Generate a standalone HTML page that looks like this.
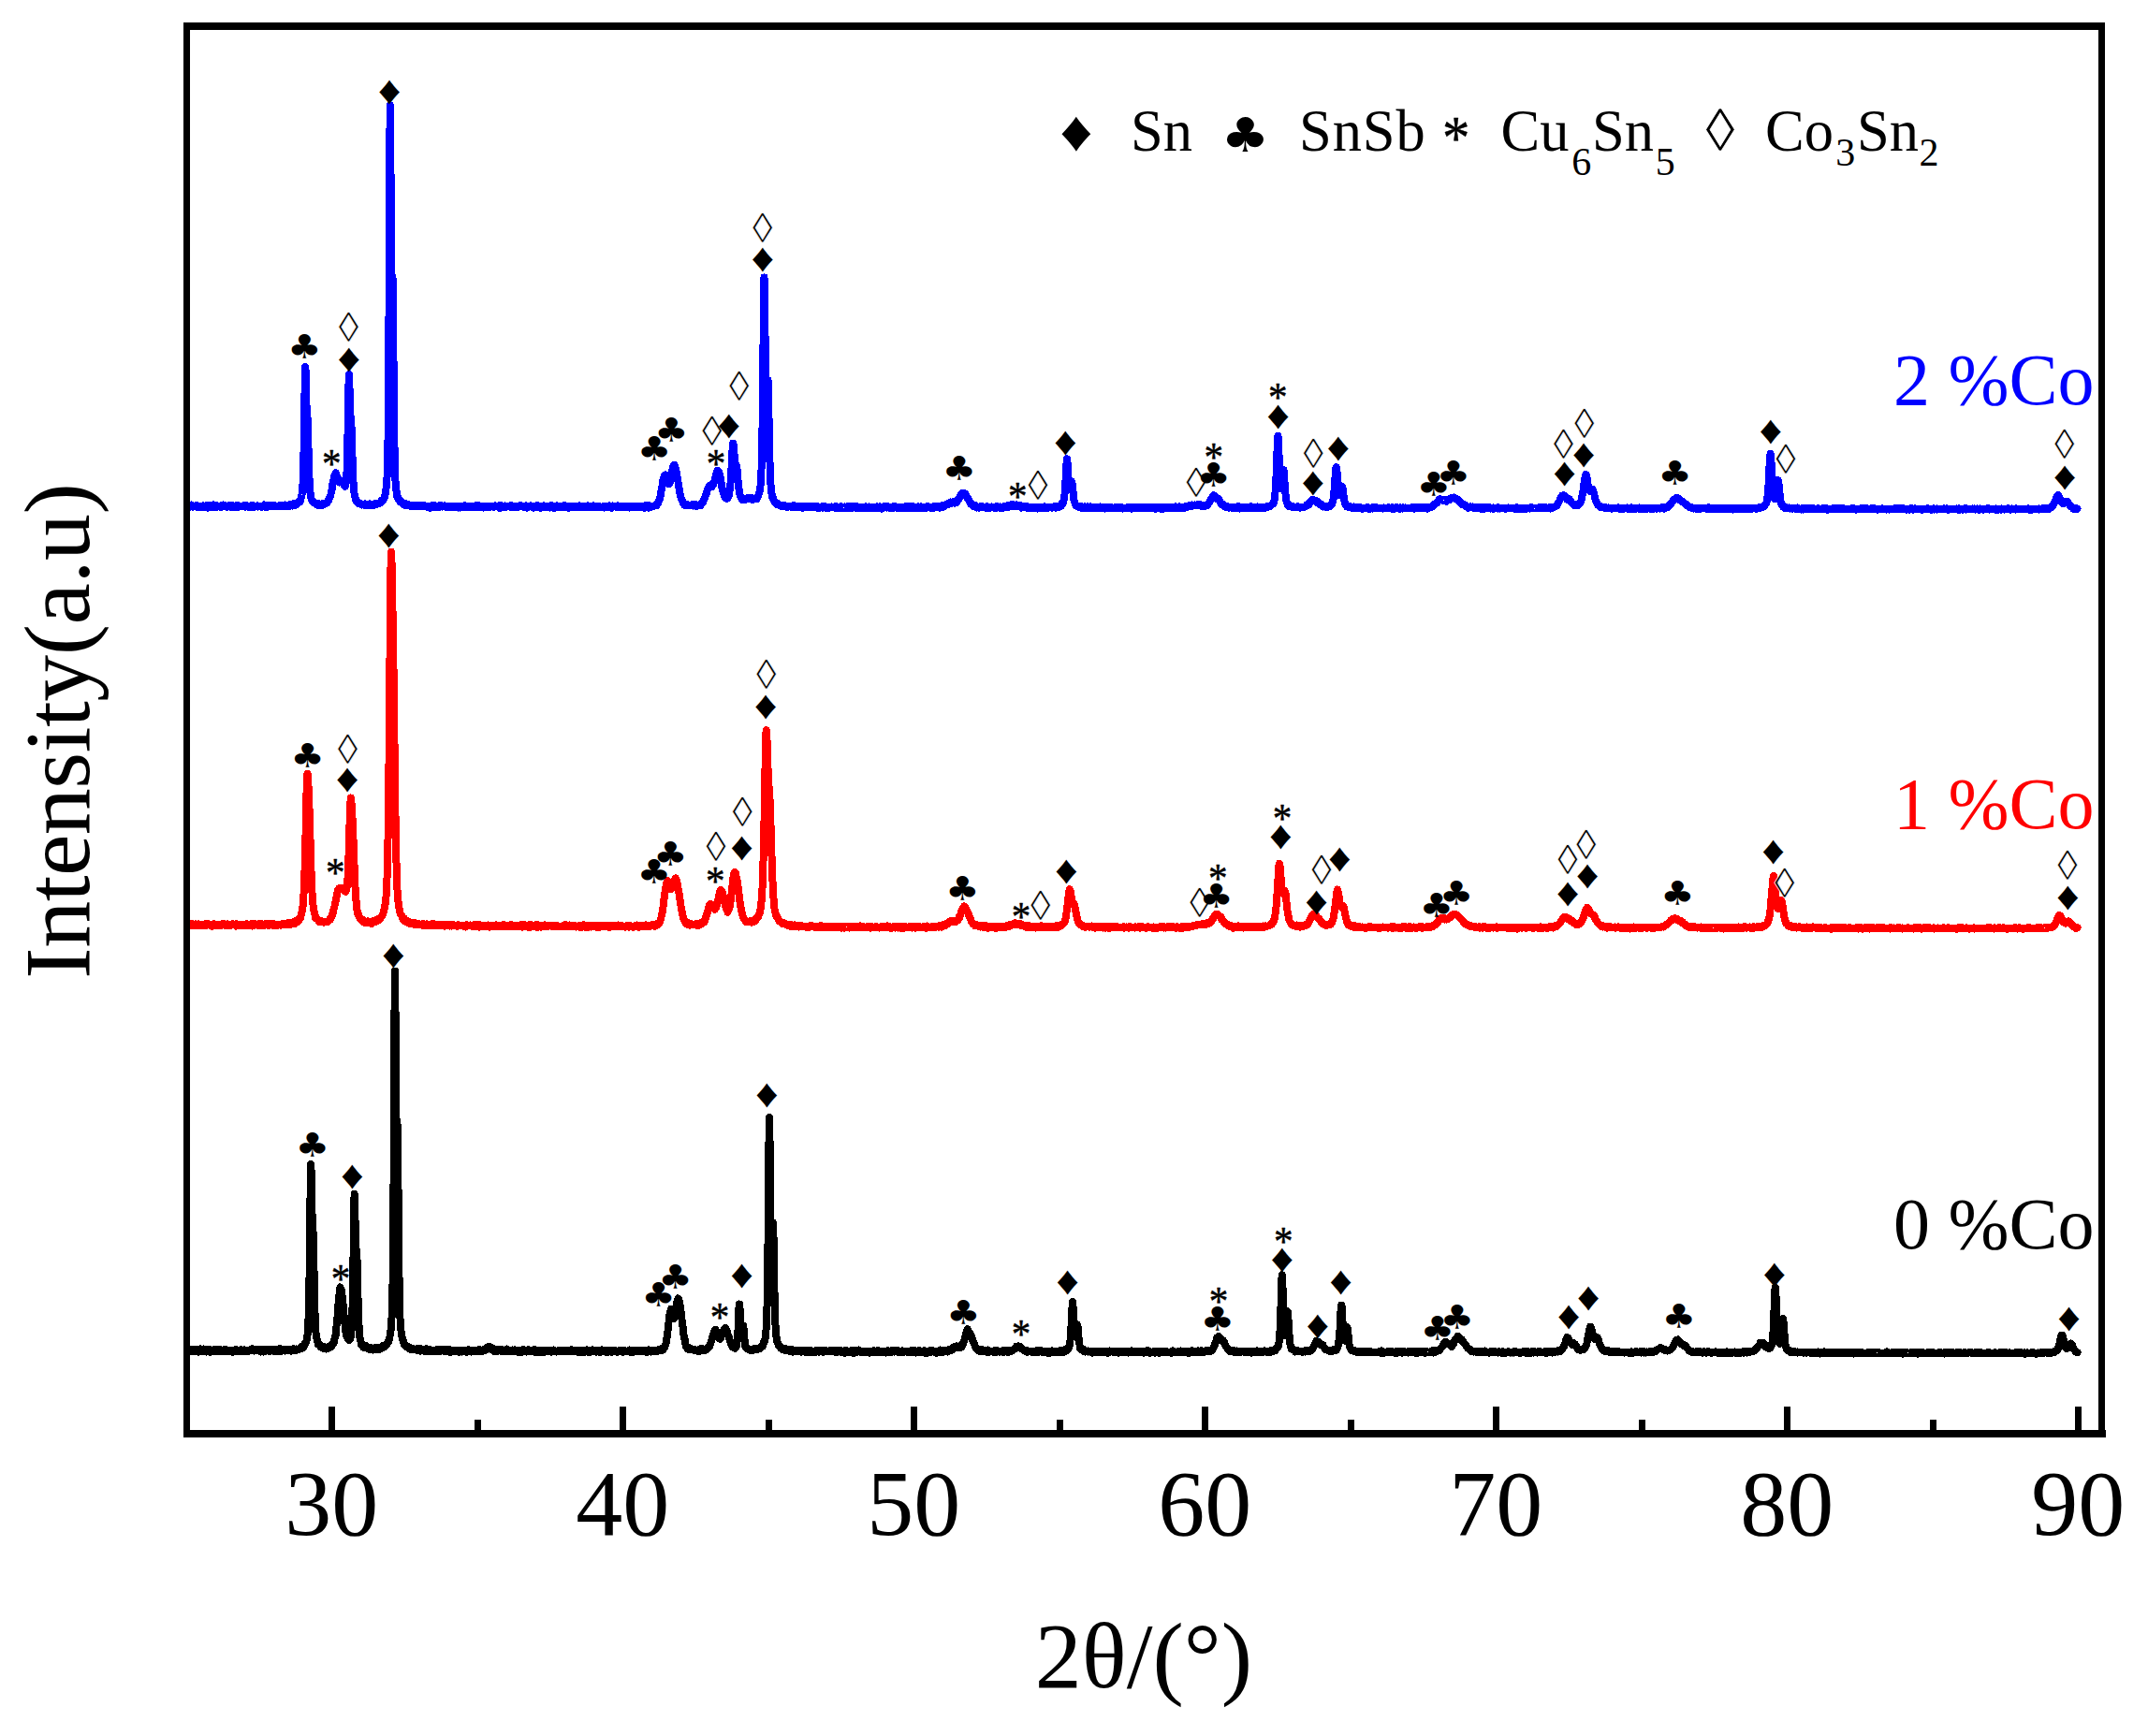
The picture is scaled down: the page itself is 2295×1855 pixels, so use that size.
<!DOCTYPE html>
<html lang="en"><head><meta charset="utf-8"><title>XRD patterns</title>
<style>
html,body{margin:0;padding:0;background:#fff;}
body{min-width:2295px;}
svg{display:block;}
text{font-family:"Liberation Serif","DejaVu Serif",serif;fill:#000;}
.dj{font-family:"DejaVu Sans",sans-serif;}
.as{stroke:#000;stroke-width:0.5;stroke-linejoin:round;}
.lz{stroke:#fff;stroke-width:0.7;}
.c{fill:none;stroke-width:8;stroke-linejoin:round;stroke-linecap:round;}
</style></head><body>
<svg width="2295" height="1855" viewBox="0 0 2295 1855">
<rect x="0" y="0" width="2295" height="1855" fill="#fff"/>
<g fill="#000" shape-rendering="crispEdges"><rect x="351.0" y="1503" width="7" height="27"/><rect x="662.0" y="1503" width="7" height="27"/><rect x="973.0" y="1503" width="7" height="27"/><rect x="1284.0" y="1503" width="7" height="27"/><rect x="1595.0" y="1503" width="7" height="27"/><rect x="1906.0" y="1503" width="7" height="27"/><rect x="2217.0" y="1503" width="7" height="27"/><rect x="506.5" y="1517" width="7" height="13"/><rect x="817.5" y="1517" width="7" height="13"/><rect x="1128.5" y="1517" width="7" height="13"/><rect x="1439.5" y="1517" width="7" height="13"/><rect x="1750.5" y="1517" width="7" height="13"/><rect x="2061.5" y="1517" width="7" height="13"/></g>
<path class="c" stroke="#000000" shape-rendering="crispEdges" d="M201.0,1444.3 201.5,1442.7 202.0,1443.1 202.5,1443.4 203.0,1442.5 203.5,1443.1 204.0,1443.1 204.5,1441.7 205.0,1443.8 205.5,1443.5 206.0,1442.6 206.5,1442.9 207.0,1443.4 207.5,1442.9 208.0,1442.9 208.5,1442.0 209.0,1443.5 209.5,1443.2 210.0,1443.3 210.5,1441.9 211.0,1444.3 211.5,1443.2 212.0,1442.8 212.5,1444.6 213.0,1443.0 213.5,1442.0 214.0,1442.8 214.5,1441.4 215.0,1443.8 215.5,1442.8 216.0,1442.5 216.5,1443.9 217.0,1441.8 217.5,1443.5 218.0,1441.5 218.5,1442.6 219.0,1442.2 219.5,1444.2 220.0,1444.4 220.5,1442.8 221.0,1443.7 221.5,1442.9 222.0,1443.5 222.5,1442.5 223.0,1441.8 223.5,1441.7 224.0,1443.4 224.5,1444.7 225.0,1443.3 225.5,1442.7 226.0,1444.5 226.5,1443.3 227.0,1443.2 227.5,1443.3 228.0,1443.0 228.5,1442.8 229.0,1442.0 229.5,1443.5 230.0,1443.0 230.5,1444.0 231.0,1442.8 231.5,1441.7 232.0,1443.0 232.5,1444.3 233.0,1442.8 233.5,1442.4 234.0,1442.2 234.5,1442.3 235.0,1442.9 235.5,1442.2 236.0,1444.2 236.5,1442.9 237.0,1443.2 237.5,1444.1 238.0,1444.2 238.5,1442.9 239.0,1443.3 239.5,1443.6 240.0,1442.9 240.5,1441.8 241.0,1443.6 241.5,1443.7 242.0,1443.4 242.5,1442.4 243.0,1442.9 243.5,1442.6 244.0,1442.9 244.5,1444.0 245.0,1444.2 245.5,1443.6 246.0,1443.5 246.5,1443.6 247.0,1443.1 247.5,1443.0 248.0,1442.6 248.5,1443.0 249.0,1444.8 249.5,1443.7 250.0,1442.8 250.5,1442.7 251.0,1442.4 251.5,1443.4 252.0,1443.4 252.5,1442.0 253.0,1443.4 253.5,1442.7 254.0,1444.1 254.5,1443.2 255.0,1444.3 255.5,1442.7 256.0,1442.9 256.5,1443.3 257.0,1443.9 257.5,1443.5 258.0,1442.2 258.5,1443.2 259.0,1443.1 259.5,1442.8 260.0,1442.6 260.5,1444.4 261.0,1442.8 261.5,1442.5 262.0,1443.5 262.5,1443.2 263.0,1443.0 263.5,1443.6 264.0,1443.4 264.5,1443.3 265.0,1443.8 265.5,1443.3 266.0,1442.6 266.5,1442.8 267.0,1442.7 267.5,1443.2 268.0,1442.3 268.5,1441.7 269.0,1443.1 269.5,1442.1 270.0,1441.6 270.5,1443.3 271.0,1442.5 271.5,1443.4 272.0,1442.7 272.5,1442.2 273.0,1442.1 273.5,1442.7 274.0,1442.8 274.5,1442.4 275.0,1442.8 275.5,1441.9 276.0,1443.1 276.5,1441.7 277.0,1442.9 277.5,1443.5 278.0,1443.8 278.5,1444.3 279.0,1441.9 279.5,1443.6 280.0,1443.9 280.5,1443.7 281.0,1442.3 281.5,1443.3 282.0,1444.4 282.5,1441.9 283.0,1443.4 283.5,1443.8 284.0,1442.5 284.5,1443.4 285.0,1442.2 285.5,1442.4 286.0,1442.4 286.5,1443.1 287.0,1442.9 287.5,1443.7 288.0,1442.3 288.5,1442.9 289.0,1443.7 289.5,1443.4 290.0,1442.0 290.5,1443.4 291.0,1442.6 291.5,1443.2 292.0,1443.2 292.5,1443.8 293.0,1443.0 293.5,1441.6 294.0,1441.9 294.5,1443.4 295.0,1442.7 295.5,1443.7 296.0,1443.1 296.5,1442.3 297.0,1443.7 297.5,1442.3 298.0,1441.4 298.5,1444.3 299.0,1441.4 299.5,1443.3 300.0,1443.5 300.5,1442.9 301.0,1441.6 301.5,1443.5 302.0,1441.7 302.5,1441.8 303.0,1442.5 303.5,1443.3 304.0,1442.9 304.5,1443.3 305.0,1442.4 305.5,1442.5 306.0,1441.8 306.5,1442.4 307.0,1443.0 307.5,1442.4 308.0,1442.9 308.5,1442.1 309.0,1442.1 309.5,1442.5 310.0,1442.3 310.5,1442.9 311.0,1442.5 311.5,1443.6 312.0,1442.2 312.5,1442.1 313.0,1441.5 313.5,1442.2 314.0,1442.7 314.5,1441.6 315.0,1442.0 315.5,1442.5 316.0,1441.8 316.5,1441.5 317.0,1442.5 317.5,1441.8 318.0,1441.9 318.5,1442.4 319.0,1442.2 319.5,1441.0 320.0,1440.7 320.5,1441.2 321.0,1440.7 321.5,1439.2 322.0,1441.3 322.5,1440.1 323.0,1440.3 323.5,1438.6 324.0,1439.9 324.5,1438.1 325.0,1437.9 325.5,1436.2 326.0,1436.2 326.5,1435.1 327.0,1433.8 327.5,1432.4 328.0,1429.7 328.5,1426.8 329.0,1420.0 329.5,1409.7 330.0,1393.1 330.5,1365.7 331.0,1326.7 331.5,1281.0 332.0,1246.3 332.2,1243.9 332.5,1249.6 333.0,1273.6 333.5,1296.8 334.0,1309.1 334.5,1315.2 335.0,1331.9 335.5,1357.0 336.0,1383.4 336.5,1402.4 337.0,1414.8 337.5,1423.9 338.0,1428.9 338.5,1430.8 339.0,1432.9 339.5,1433.0 340.0,1436.4 340.5,1436.2 341.0,1435.8 341.5,1436.6 342.0,1438.2 342.5,1439.3 343.0,1439.0 343.5,1439.6 344.0,1438.7 344.5,1438.7 345.0,1440.4 345.5,1440.3 346.0,1440.0 346.5,1441.0 347.0,1439.4 347.5,1439.8 348.0,1440.9 348.5,1441.4 349.0,1440.1 349.5,1441.2 350.0,1439.5 350.5,1440.1 351.0,1439.6 351.5,1438.5 352.0,1439.7 352.5,1439.9 353.0,1438.9 353.5,1438.7 354.0,1439.4 354.5,1437.1 355.0,1436.4 355.5,1436.3 356.0,1435.0 356.5,1435.7 357.0,1433.4 357.5,1430.7 358.0,1428.4 358.5,1427.8 359.0,1421.6 359.5,1417.0 360.0,1412.6 360.5,1407.0 361.0,1400.5 361.5,1393.2 362.0,1387.0 362.5,1382.9 363.0,1378.6 363.5,1375.4 363.8,1377.0 364.0,1376.9 364.5,1377.5 365.0,1380.3 365.5,1384.5 366.0,1388.6 366.5,1393.5 367.0,1400.4 367.5,1404.8 368.0,1411.4 368.5,1414.8 369.0,1419.9 369.5,1423.3 370.0,1427.4 370.5,1427.5 371.0,1428.9 371.5,1430.5 372.0,1430.8 372.5,1431.5 373.0,1432.0 373.5,1431.8 374.0,1431.4 374.5,1428.1 375.0,1427.8 375.5,1422.8 376.0,1413.2 376.5,1397.5 377.0,1376.0 377.5,1343.4 378.0,1304.1 378.5,1279.0 378.7,1275.9 379.0,1280.2 379.5,1303.6 380.0,1324.9 380.5,1334.0 381.0,1337.7 381.5,1345.7 382.0,1364.6 382.5,1386.8 383.0,1404.9 383.5,1416.5 384.0,1423.1 384.5,1429.7 385.0,1431.0 385.5,1434.1 386.0,1436.6 386.5,1436.4 387.0,1436.4 387.5,1436.8 388.0,1439.2 388.5,1438.8 389.0,1439.6 389.5,1440.2 390.0,1439.8 390.5,1439.8 391.0,1439.5 391.5,1438.2 392.0,1439.5 392.5,1440.6 393.0,1440.7 393.5,1441.2 394.0,1440.9 394.5,1441.2 395.0,1441.7 395.5,1440.5 396.0,1441.0 396.5,1440.1 397.0,1442.0 397.5,1441.3 398.0,1441.7 398.5,1442.4 399.0,1442.1 399.5,1441.3 400.0,1441.9 400.5,1440.3 401.0,1441.6 401.5,1441.4 402.0,1440.1 402.5,1442.2 403.0,1440.7 403.5,1441.6 404.0,1440.8 404.5,1441.7 405.0,1441.9 405.5,1440.3 406.0,1439.7 406.5,1440.5 407.0,1441.1 407.5,1440.1 408.0,1439.8 408.5,1440.4 409.0,1437.9 409.5,1439.2 410.0,1438.4 410.5,1439.3 411.0,1438.3 411.5,1437.6 412.0,1437.7 412.5,1436.5 413.0,1436.9 413.5,1435.8 414.0,1435.2 414.5,1434.0 415.0,1434.0 415.5,1431.9 416.0,1430.6 416.5,1428.4 417.0,1424.7 417.5,1421.9 418.0,1416.7 418.5,1409.0 419.0,1395.8 419.5,1372.9 420.0,1332.9 420.5,1267.6 421.0,1174.1 421.5,1080.4 422.0,1037.5 422.5,1078.4 423.0,1147.8 423.5,1194.7 424.0,1203.0 424.5,1200.8 425.0,1220.0 425.5,1269.9 426.0,1322.6 426.5,1364.0 427.0,1391.9 427.5,1408.8 428.0,1414.7 428.5,1422.0 429.0,1426.3 429.5,1428.8 430.0,1430.7 430.5,1431.7 431.0,1433.3 431.5,1435.6 432.0,1436.8 432.5,1436.8 433.0,1436.8 433.5,1438.1 434.0,1438.3 434.5,1439.3 435.0,1439.4 435.5,1439.2 436.0,1440.0 436.5,1439.3 437.0,1440.9 437.5,1441.4 438.0,1439.9 438.5,1441.2 439.0,1440.4 439.5,1442.0 440.0,1442.0 440.5,1441.3 441.0,1442.3 441.5,1441.4 442.0,1441.3 442.5,1441.4 443.0,1441.8 443.5,1441.8 444.0,1442.2 444.5,1441.7 445.0,1442.7 445.5,1442.9 446.0,1441.9 446.5,1441.3 447.0,1442.9 447.5,1443.2 448.0,1442.3 448.5,1441.6 449.0,1442.7 449.5,1443.6 450.0,1441.3 450.5,1443.0 451.0,1442.4 451.5,1442.1 452.0,1443.1 452.5,1441.8 453.0,1443.0 453.5,1443.7 454.0,1442.9 454.5,1442.2 455.0,1441.6 455.5,1442.0 456.0,1441.6 456.5,1444.0 457.0,1442.7 457.5,1442.2 458.0,1442.0 458.5,1442.2 459.0,1442.7 459.5,1442.1 460.0,1444.2 460.5,1442.5 461.0,1442.5 461.5,1443.3 462.0,1444.1 462.5,1444.0 463.0,1442.7 463.5,1443.3 464.0,1443.2 464.5,1443.5 465.0,1443.3 465.5,1442.5 466.0,1442.3 466.5,1443.3 467.0,1442.3 467.5,1444.1 468.0,1443.2 468.5,1442.5 469.0,1443.0 469.5,1442.8 470.0,1443.1 470.5,1443.9 471.0,1442.2 471.5,1441.9 472.0,1443.5 472.5,1443.1 473.0,1443.3 473.5,1443.5 474.0,1443.1 474.5,1443.8 475.0,1442.6 475.5,1443.3 476.0,1442.7 476.5,1442.5 477.0,1443.7 477.5,1443.7 478.0,1441.9 478.5,1442.5 479.0,1443.5 479.5,1444.0 480.0,1442.8 480.5,1443.2 481.0,1442.3 481.5,1445.0 482.0,1443.6 482.5,1443.9 483.0,1443.8 483.5,1444.0 484.0,1443.8 484.5,1443.1 485.0,1443.9 485.5,1443.4 486.0,1444.2 486.5,1442.8 487.0,1443.0 487.5,1443.8 488.0,1444.2 488.5,1443.5 489.0,1442.9 489.5,1443.3 490.0,1443.0 490.5,1444.7 491.0,1444.0 491.5,1444.2 492.0,1443.6 492.5,1443.0 493.0,1444.2 493.5,1444.5 494.0,1443.8 494.5,1443.4 495.0,1444.1 495.5,1443.1 496.0,1443.9 496.5,1442.9 497.0,1442.7 497.5,1443.8 498.0,1443.6 498.5,1444.7 499.0,1443.2 499.5,1443.4 500.0,1442.6 500.5,1442.1 501.0,1442.2 501.5,1443.7 502.0,1442.6 502.5,1444.2 503.0,1444.4 503.5,1443.2 504.0,1444.5 504.5,1443.6 505.0,1444.2 505.5,1443.3 506.0,1444.1 506.5,1442.8 507.0,1443.8 507.5,1443.1 508.0,1443.3 508.5,1443.8 509.0,1443.5 509.5,1443.3 510.0,1443.9 510.5,1443.9 511.0,1442.4 511.5,1443.7 512.0,1443.8 512.5,1442.8 513.0,1443.6 513.5,1442.4 514.0,1444.3 514.5,1443.1 515.0,1443.2 515.5,1444.0 516.0,1443.0 516.5,1443.4 517.0,1442.2 517.5,1442.3 518.0,1441.5 518.5,1442.1 519.0,1442.6 519.5,1441.6 520.0,1441.6 520.5,1439.8 521.0,1439.4 521.5,1439.2 522.0,1439.6 522.5,1439.3 522.7,1439.0 523.0,1439.5 523.5,1439.2 524.0,1439.6 524.5,1441.0 525.0,1440.2 525.5,1441.2 526.0,1442.6 526.5,1442.0 527.0,1442.8 527.5,1442.2 528.0,1444.1 528.5,1441.4 529.0,1442.3 529.5,1442.5 530.0,1444.3 530.5,1443.5 531.0,1443.2 531.5,1442.5 532.0,1443.6 532.5,1443.5 533.0,1442.9 533.5,1442.4 534.0,1442.7 534.5,1443.6 535.0,1443.7 535.5,1443.5 536.0,1443.4 536.5,1442.3 537.0,1443.5 537.5,1442.8 538.0,1443.5 538.5,1443.8 539.0,1443.1 539.5,1442.8 540.0,1444.2 540.5,1443.8 541.0,1443.1 541.5,1441.5 542.0,1443.5 542.5,1444.0 543.0,1444.3 543.5,1443.1 544.0,1443.1 544.5,1443.3 545.0,1444.1 545.5,1442.8 546.0,1443.5 546.5,1442.9 547.0,1443.7 547.5,1442.5 548.0,1443.8 548.5,1443.2 549.0,1443.4 549.5,1443.9 550.0,1444.3 550.5,1442.4 551.0,1444.3 551.5,1444.0 552.0,1443.4 552.5,1444.5 553.0,1443.7 553.5,1444.5 554.0,1443.2 554.5,1443.0 555.0,1444.4 555.5,1445.0 556.0,1444.0 556.5,1444.2 557.0,1443.3 557.5,1442.7 558.0,1443.5 558.5,1444.6 559.0,1442.4 559.5,1443.3 560.0,1442.3 560.5,1443.7 561.0,1444.2 561.5,1442.8 562.0,1443.3 562.5,1444.5 563.0,1443.6 563.5,1442.8 564.0,1442.7 564.5,1442.3 565.0,1444.1 565.5,1443.1 566.0,1444.3 566.5,1444.2 567.0,1443.2 567.5,1443.3 568.0,1444.1 568.5,1443.7 569.0,1443.8 569.5,1442.5 570.0,1444.2 570.5,1443.0 571.0,1442.1 571.5,1443.2 572.0,1443.9 572.5,1445.0 573.0,1443.4 573.5,1442.8 574.0,1445.1 574.5,1443.7 575.0,1443.5 575.5,1442.9 576.0,1443.0 576.5,1444.6 577.0,1443.5 577.5,1443.3 578.0,1443.3 578.5,1444.7 579.0,1443.3 579.5,1444.1 580.0,1443.8 580.5,1443.8 581.0,1443.1 581.5,1444.1 582.0,1444.7 582.5,1443.6 583.0,1443.0 583.5,1442.8 584.0,1443.8 584.5,1443.5 585.0,1443.6 585.5,1443.7 586.0,1442.7 586.5,1444.2 587.0,1443.8 587.5,1443.6 588.0,1443.8 588.5,1444.3 589.0,1443.7 589.5,1443.1 590.0,1444.4 590.5,1443.4 591.0,1443.2 591.5,1442.6 592.0,1443.7 592.5,1443.0 593.0,1443.3 593.5,1444.0 594.0,1443.7 594.5,1444.4 595.0,1443.9 595.5,1443.4 596.0,1443.5 596.5,1443.3 597.0,1444.1 597.5,1443.7 598.0,1443.4 598.5,1444.2 599.0,1443.7 599.5,1443.4 600.0,1442.7 600.5,1444.0 601.0,1443.8 601.5,1443.7 602.0,1443.4 602.5,1443.1 603.0,1443.5 603.5,1443.8 604.0,1443.6 604.5,1443.6 605.0,1443.4 605.5,1443.9 606.0,1443.8 606.5,1443.2 607.0,1444.2 607.5,1444.2 608.0,1444.2 608.5,1443.6 609.0,1443.6 609.5,1442.9 610.0,1444.2 610.5,1442.3 611.0,1443.4 611.5,1443.5 612.0,1444.3 612.5,1443.7 613.0,1443.1 613.5,1442.8 614.0,1443.2 614.5,1443.8 615.0,1443.7 615.5,1443.6 616.0,1443.3 616.5,1443.6 617.0,1444.4 617.5,1443.0 618.0,1443.7 618.5,1444.8 619.0,1444.1 619.5,1443.4 620.0,1444.1 620.5,1443.2 621.0,1443.7 621.5,1444.7 622.0,1445.0 622.5,1442.6 623.0,1444.2 623.5,1445.0 624.0,1443.4 624.5,1443.9 625.0,1444.7 625.5,1443.4 626.0,1444.0 626.5,1443.7 627.0,1442.5 627.5,1443.9 628.0,1443.6 628.5,1444.3 629.0,1445.1 629.5,1444.2 630.0,1443.5 630.5,1444.0 631.0,1443.9 631.5,1444.4 632.0,1442.8 632.5,1443.0 633.0,1442.4 633.5,1444.1 634.0,1443.7 634.5,1443.3 635.0,1443.3 635.5,1443.4 636.0,1443.1 636.5,1443.5 637.0,1443.4 637.5,1444.6 638.0,1443.9 638.5,1443.2 639.0,1443.3 639.5,1444.5 640.0,1444.0 640.5,1443.9 641.0,1444.2 641.5,1444.8 642.0,1442.9 642.5,1443.2 643.0,1442.6 643.5,1444.1 644.0,1443.5 644.5,1443.3 645.0,1443.2 645.5,1444.2 646.0,1443.6 646.5,1443.4 647.0,1444.5 647.5,1443.1 648.0,1442.9 648.5,1445.4 649.0,1443.5 649.5,1443.4 650.0,1443.3 650.5,1443.6 651.0,1444.2 651.5,1444.2 652.0,1444.1 652.5,1443.5 653.0,1442.8 653.5,1443.9 654.0,1444.7 654.5,1444.4 655.0,1443.6 655.5,1444.2 656.0,1443.5 656.5,1443.7 657.0,1442.9 657.5,1443.5 658.0,1443.8 658.5,1443.6 659.0,1444.2 659.5,1444.9 660.0,1444.6 660.5,1443.5 661.0,1443.2 661.5,1443.3 662.0,1443.1 662.5,1443.7 663.0,1444.0 663.5,1443.8 664.0,1443.8 664.5,1443.8 665.0,1443.6 665.5,1443.2 666.0,1444.8 666.5,1444.4 667.0,1443.1 667.5,1443.1 668.0,1443.3 668.5,1443.7 669.0,1444.5 669.5,1444.4 670.0,1444.4 670.5,1444.4 671.0,1444.4 671.5,1444.2 672.0,1444.0 672.5,1443.6 673.0,1442.6 673.5,1443.6 674.0,1444.9 674.5,1443.3 675.0,1443.3 675.5,1444.3 676.0,1443.7 676.5,1443.4 677.0,1444.7 677.5,1444.1 678.0,1444.2 678.5,1443.3 679.0,1444.0 679.5,1443.9 680.0,1444.2 680.5,1444.4 681.0,1444.4 681.5,1443.8 682.0,1444.1 682.5,1442.9 683.0,1444.0 683.5,1444.1 684.0,1443.4 684.5,1443.1 685.0,1443.6 685.5,1442.8 686.0,1443.8 686.5,1443.8 687.0,1443.0 687.5,1443.6 688.0,1444.3 688.5,1444.2 689.0,1444.2 689.5,1443.5 690.0,1443.3 690.5,1443.3 691.0,1443.9 691.5,1445.0 692.0,1444.4 692.5,1444.5 693.0,1444.3 693.5,1442.4 694.0,1443.3 694.5,1443.2 695.0,1444.2 695.5,1444.5 696.0,1443.0 696.5,1443.4 697.0,1443.7 697.5,1443.0 698.0,1442.9 698.5,1442.9 699.0,1443.8 699.5,1442.7 700.0,1443.9 700.5,1443.2 701.0,1443.6 701.5,1444.1 702.0,1442.7 702.5,1442.5 703.0,1443.3 703.5,1442.3 704.0,1442.4 704.5,1442.8 705.0,1442.9 705.5,1441.9 706.0,1442.4 706.5,1442.9 707.0,1443.2 707.5,1441.0 708.0,1442.8 708.5,1442.3 709.0,1440.6 709.5,1439.8 710.0,1440.2 710.5,1438.5 711.0,1437.3 711.5,1435.8 712.0,1432.4 712.5,1429.6 713.0,1426.1 713.5,1422.1 714.0,1418.1 714.5,1413.4 715.0,1408.1 715.5,1404.0 716.0,1402.7 716.5,1400.0 716.8,1399.6 717.0,1398.7 717.5,1400.8 718.0,1401.7 718.5,1404.1 719.0,1405.8 719.5,1408.0 720.0,1409.2 720.5,1408.0 721.0,1407.0 721.5,1405.1 722.0,1401.1 722.5,1397.4 723.0,1393.9 723.5,1390.4 724.0,1389.4 724.5,1387.4 724.6,1388.5 725.0,1388.9 725.5,1389.0 726.0,1391.9 726.5,1394.3 727.0,1397.1 727.5,1401.2 728.0,1405.2 728.5,1410.1 729.0,1414.6 729.5,1417.6 730.0,1422.0 730.5,1426.3 731.0,1430.0 731.5,1430.5 732.0,1435.1 732.5,1436.1 733.0,1438.7 733.5,1438.6 734.0,1439.2 734.5,1440.5 735.0,1441.7 735.5,1441.3 736.0,1440.1 736.5,1442.2 737.0,1440.9 737.5,1441.5 738.0,1441.5 738.5,1441.1 739.0,1441.6 739.5,1441.8 740.0,1442.1 740.5,1442.5 741.0,1442.4 741.5,1441.7 742.0,1442.6 742.5,1443.3 743.0,1443.3 743.5,1442.8 744.0,1443.1 744.5,1443.3 745.0,1443.6 745.5,1443.8 746.0,1442.6 746.5,1442.6 747.0,1443.7 747.5,1443.7 748.0,1443.7 748.5,1441.3 749.0,1442.6 749.5,1440.6 750.0,1443.1 750.5,1442.6 751.0,1442.6 751.5,1442.4 752.0,1443.3 752.5,1442.2 753.0,1442.9 753.5,1442.5 754.0,1442.2 754.5,1442.1 755.0,1441.6 755.5,1440.6 756.0,1441.3 756.5,1440.9 757.0,1439.7 757.5,1439.6 758.0,1438.8 758.5,1436.4 759.0,1435.9 759.5,1434.3 760.0,1432.5 760.5,1431.6 761.0,1429.0 761.5,1427.5 762.0,1426.1 762.5,1424.6 763.0,1423.2 763.5,1423.3 764.0,1421.1 764.3,1421.5 764.5,1420.6 765.0,1422.1 765.5,1423.4 766.0,1424.5 766.5,1424.7 767.0,1426.2 767.5,1428.4 768.0,1428.6 768.5,1430.0 769.0,1429.2 769.5,1430.7 770.0,1430.1 770.5,1429.0 771.0,1427.2 771.5,1426.3 772.0,1425.0 772.5,1423.5 773.0,1421.9 773.5,1420.8 774.0,1420.3 774.5,1420.9 775.0,1419.0 775.5,1419.9 776.0,1420.7 776.5,1422.2 777.0,1422.7 777.5,1425.5 778.0,1426.7 778.5,1428.0 779.0,1429.4 779.5,1431.5 780.0,1433.1 780.5,1434.6 781.0,1435.2 781.5,1437.2 782.0,1436.8 782.5,1439.2 783.0,1437.1 783.5,1439.0 784.0,1438.9 784.5,1440.3 785.0,1438.9 785.5,1440.7 786.0,1438.3 786.5,1439.7 787.0,1437.2 787.5,1434.0 788.0,1428.9 788.5,1421.6 789.0,1409.7 789.5,1396.7 790.0,1393.5 790.5,1397.5 791.0,1406.5 791.5,1417.4 792.0,1421.7 792.5,1423.5 793.0,1420.9 793.5,1416.6 794.0,1416.5 794.5,1419.2 795.0,1425.9 795.5,1431.1 796.0,1435.5 796.5,1439.4 797.0,1439.8 797.5,1439.9 798.0,1441.0 798.5,1440.9 799.0,1441.6 799.5,1441.9 800.0,1442.0 800.5,1442.1 801.0,1441.7 801.5,1442.4 802.0,1442.8 802.5,1441.8 803.0,1442.2 803.5,1442.3 804.0,1443.0 804.5,1442.9 805.0,1441.7 805.5,1442.2 806.0,1441.2 806.5,1441.4 807.0,1442.0 807.5,1442.3 808.0,1442.4 808.5,1441.5 809.0,1440.7 809.5,1441.7 810.0,1441.2 810.5,1441.3 811.0,1441.0 811.5,1441.1 812.0,1440.8 812.5,1440.6 813.0,1439.4 813.5,1439.8 814.0,1438.4 814.5,1438.1 815.0,1438.5 815.5,1436.6 816.0,1434.5 816.5,1434.7 817.0,1432.6 817.5,1430.3 818.0,1426.3 818.5,1421.3 819.0,1412.4 819.5,1397.0 820.0,1372.4 820.5,1330.7 821.0,1276.1 821.5,1220.0 822.0,1194.1 822.5,1216.9 823.0,1267.2 823.5,1314.0 824.0,1342.0 824.5,1348.1 825.0,1334.8 825.5,1316.7 826.0,1306.7 826.5,1321.0 827.0,1350.5 827.5,1380.1 828.0,1402.4 828.5,1415.6 829.0,1424.2 829.5,1428.4 830.0,1432.2 830.5,1434.5 831.0,1434.6 831.5,1436.4 832.0,1438.1 832.5,1437.3 833.0,1438.8 833.5,1439.9 834.0,1439.0 834.5,1440.2 835.0,1440.8 835.5,1441.6 836.0,1440.5 836.5,1442.2 837.0,1441.9 837.5,1442.6 838.0,1442.7 838.5,1442.4 839.0,1442.6 839.5,1441.3 840.0,1441.7 840.5,1442.0 841.0,1442.5 841.5,1443.3 842.0,1441.7 842.5,1442.7 843.0,1442.2 843.5,1442.1 844.0,1444.0 844.5,1443.2 845.0,1444.2 845.5,1443.9 846.0,1442.7 846.5,1442.2 847.0,1444.6 847.5,1443.1 848.0,1442.7 848.5,1443.8 849.0,1443.5 849.5,1443.1 850.0,1443.3 850.5,1443.6 851.0,1443.6 851.5,1444.0 852.0,1443.4 852.5,1443.4 853.0,1444.0 853.5,1443.8 854.0,1444.3 854.5,1443.5 855.0,1443.6 855.5,1443.0 856.0,1444.6 856.5,1442.9 857.0,1443.9 857.5,1443.2 858.0,1444.0 858.5,1444.2 859.0,1442.8 859.5,1443.7 860.0,1442.7 860.5,1444.7 861.0,1443.5 861.5,1442.9 862.0,1443.4 862.5,1444.6 863.0,1444.7 863.5,1444.6 864.0,1443.4 864.5,1443.8 865.0,1444.9 865.5,1443.4 866.0,1443.7 866.5,1443.3 867.0,1443.2 867.5,1444.6 868.0,1444.3 868.5,1444.2 869.0,1444.3 869.5,1444.6 870.0,1444.8 870.5,1443.9 871.0,1443.7 871.5,1443.3 872.0,1444.6 872.5,1443.7 873.0,1443.1 873.5,1443.8 874.0,1444.0 874.5,1444.5 875.0,1444.6 875.5,1443.6 876.0,1443.5 876.5,1443.8 877.0,1443.3 877.5,1443.9 878.0,1444.3 878.5,1444.0 879.0,1443.1 879.5,1443.3 880.0,1444.8 880.5,1443.4 881.0,1444.5 881.5,1444.4 882.0,1443.8 882.5,1443.4 883.0,1444.2 883.5,1443.5 884.0,1443.9 884.5,1444.1 885.0,1443.6 885.5,1443.9 886.0,1443.9 886.5,1443.3 887.0,1444.0 887.5,1443.7 888.0,1443.0 888.5,1443.9 889.0,1443.9 889.5,1443.7 890.0,1442.9 890.5,1444.5 891.0,1444.5 891.5,1444.5 892.0,1444.3 892.5,1443.3 893.0,1444.2 893.5,1443.5 894.0,1445.4 894.5,1443.8 895.0,1444.5 895.5,1443.2 896.0,1443.4 896.5,1443.8 897.0,1444.5 897.5,1444.4 898.0,1444.3 898.5,1443.0 899.0,1444.8 899.5,1443.6 900.0,1445.1 900.5,1445.2 901.0,1444.6 901.5,1444.7 902.0,1443.4 902.5,1445.7 903.0,1444.3 903.5,1444.7 904.0,1443.6 904.5,1444.1 905.0,1443.4 905.5,1444.0 906.0,1444.2 906.5,1444.3 907.0,1445.0 907.5,1444.4 908.0,1444.3 908.5,1444.2 909.0,1445.3 909.5,1443.8 910.0,1444.9 910.5,1443.0 911.0,1443.6 911.5,1444.4 912.0,1444.1 912.5,1445.9 913.0,1445.7 913.5,1443.3 914.0,1443.5 914.5,1444.1 915.0,1445.2 915.5,1444.8 916.0,1444.4 916.5,1443.3 917.0,1443.7 917.5,1442.6 918.0,1443.3 918.5,1444.4 919.0,1444.7 919.5,1443.4 920.0,1444.3 920.5,1445.1 921.0,1444.3 921.5,1444.0 922.0,1444.6 922.5,1444.5 923.0,1444.2 923.5,1443.9 924.0,1443.9 924.5,1444.3 925.0,1443.9 925.5,1445.0 926.0,1444.7 926.5,1444.8 927.0,1445.4 927.5,1445.1 928.0,1445.0 928.5,1444.4 929.0,1444.1 929.5,1445.6 930.0,1443.8 930.5,1443.8 931.0,1443.7 931.5,1444.3 932.0,1444.5 932.5,1444.8 933.0,1444.1 933.5,1443.2 934.0,1444.4 934.5,1444.8 935.0,1444.2 935.5,1444.1 936.0,1444.6 936.5,1445.1 937.0,1444.2 937.5,1443.4 938.0,1443.9 938.5,1444.1 939.0,1443.2 939.5,1444.7 940.0,1443.8 940.5,1444.5 941.0,1444.3 941.5,1444.0 942.0,1445.2 942.5,1443.9 943.0,1443.8 943.5,1444.4 944.0,1444.7 944.5,1444.2 945.0,1443.7 945.5,1444.6 946.0,1444.6 946.5,1445.4 947.0,1444.1 947.5,1444.4 948.0,1443.9 948.5,1443.4 949.0,1444.3 949.5,1444.7 950.0,1443.6 950.5,1443.8 951.0,1443.6 951.5,1445.0 952.0,1443.9 952.5,1444.6 953.0,1443.7 953.5,1444.3 954.0,1443.9 954.5,1442.9 955.0,1444.3 955.5,1444.5 956.0,1443.0 956.5,1444.1 957.0,1444.0 957.5,1443.6 958.0,1444.1 958.5,1443.1 959.0,1444.4 959.5,1444.9 960.0,1443.5 960.5,1444.2 961.0,1445.1 961.5,1444.3 962.0,1443.9 962.5,1443.7 963.0,1444.3 963.5,1444.2 964.0,1444.6 964.5,1443.4 965.0,1444.9 965.5,1444.0 966.0,1444.6 966.5,1443.8 967.0,1443.5 967.5,1443.9 968.0,1443.7 968.5,1444.0 969.0,1444.6 969.5,1444.9 970.0,1444.4 970.5,1443.9 971.0,1444.0 971.5,1444.6 972.0,1444.9 972.5,1444.1 973.0,1444.2 973.5,1443.8 974.0,1444.4 974.5,1444.8 975.0,1442.6 975.5,1444.4 976.0,1443.9 976.5,1442.9 977.0,1444.4 977.5,1444.2 978.0,1444.4 978.5,1443.4 979.0,1445.5 979.5,1444.3 980.0,1444.0 980.5,1445.1 981.0,1444.6 981.5,1444.7 982.0,1444.9 982.5,1443.0 983.0,1445.2 983.5,1444.0 984.0,1444.4 984.5,1444.8 985.0,1443.8 985.5,1444.4 986.0,1444.7 986.5,1444.2 987.0,1444.5 987.5,1443.3 988.0,1443.5 988.5,1443.5 989.0,1444.4 989.5,1446.4 990.0,1444.3 990.5,1444.1 991.0,1444.2 991.5,1444.8 992.0,1444.6 992.5,1443.5 993.0,1444.8 993.5,1444.2 994.0,1444.6 994.5,1443.0 995.0,1443.3 995.5,1444.5 996.0,1443.1 996.5,1444.4 997.0,1444.3 997.5,1444.2 998.0,1444.3 998.5,1444.3 999.0,1444.4 999.5,1443.9 1000.0,1444.1 1000.5,1445.8 1001.0,1444.7 1001.5,1444.4 1002.0,1444.3 1002.5,1443.6 1003.0,1444.2 1003.5,1443.9 1004.0,1444.6 1004.5,1443.5 1005.0,1442.6 1005.5,1443.7 1006.0,1444.4 1006.5,1445.3 1007.0,1444.5 1007.5,1443.3 1008.0,1443.8 1008.5,1443.3 1009.0,1443.7 1009.5,1443.3 1010.0,1442.8 1010.5,1443.9 1011.0,1443.7 1011.5,1443.5 1012.0,1443.7 1012.5,1444.5 1013.0,1443.3 1013.5,1442.9 1014.0,1443.5 1014.5,1441.9 1015.0,1443.1 1015.5,1442.0 1016.0,1441.7 1016.5,1442.0 1017.0,1442.6 1017.5,1440.9 1018.0,1441.6 1018.5,1440.9 1019.0,1439.6 1019.5,1440.6 1020.0,1439.3 1020.5,1438.7 1021.0,1438.8 1021.5,1438.7 1022.0,1439.3 1022.5,1438.5 1023.0,1439.8 1023.5,1439.2 1024.0,1438.7 1024.5,1438.8 1025.0,1439.5 1025.5,1438.3 1026.0,1438.2 1026.5,1438.8 1027.0,1439.5 1027.5,1438.9 1028.0,1438.2 1028.5,1437.3 1029.0,1435.1 1029.5,1434.9 1030.0,1432.5 1030.5,1432.1 1031.0,1429.6 1031.5,1427.4 1032.0,1425.6 1032.5,1423.7 1033.0,1422.2 1033.5,1421.4 1033.9,1420.7 1034.0,1420.3 1034.5,1421.6 1035.0,1423.0 1035.5,1423.8 1036.0,1424.1 1036.5,1425.6 1037.0,1425.9 1037.5,1427.4 1038.0,1427.9 1038.5,1429.5 1039.0,1431.9 1039.5,1432.7 1040.0,1434.6 1040.5,1434.8 1041.0,1436.2 1041.5,1437.8 1042.0,1439.2 1042.5,1439.6 1043.0,1441.1 1043.5,1440.8 1044.0,1442.4 1044.5,1442.6 1045.0,1441.8 1045.5,1443.0 1046.0,1442.7 1046.5,1443.6 1047.0,1442.8 1047.5,1443.4 1048.0,1443.6 1048.5,1441.9 1049.0,1442.4 1049.5,1443.6 1050.0,1443.5 1050.5,1444.2 1051.0,1443.8 1051.5,1443.0 1052.0,1443.9 1052.5,1443.4 1053.0,1443.7 1053.5,1443.6 1054.0,1444.1 1054.5,1443.1 1055.0,1443.3 1055.5,1442.7 1056.0,1445.2 1056.5,1443.4 1057.0,1443.5 1057.5,1443.4 1058.0,1443.7 1058.5,1443.8 1059.0,1444.4 1059.5,1444.2 1060.0,1444.3 1060.5,1443.8 1061.0,1444.1 1061.5,1444.8 1062.0,1444.1 1062.5,1444.3 1063.0,1443.0 1063.5,1444.4 1064.0,1444.3 1064.5,1444.9 1065.0,1442.6 1065.5,1444.2 1066.0,1444.1 1066.5,1444.2 1067.0,1443.8 1067.5,1444.3 1068.0,1444.6 1068.5,1444.2 1069.0,1444.0 1069.5,1444.1 1070.0,1444.0 1070.5,1444.2 1071.0,1443.8 1071.5,1443.1 1072.0,1444.9 1072.5,1443.2 1073.0,1444.1 1073.5,1443.4 1074.0,1444.0 1074.5,1443.6 1075.0,1444.1 1075.5,1443.6 1076.0,1443.4 1076.5,1444.2 1077.0,1444.8 1077.5,1444.2 1078.0,1444.0 1078.5,1443.3 1079.0,1443.7 1079.5,1443.9 1080.0,1443.2 1080.5,1443.8 1081.0,1443.1 1081.5,1443.1 1082.0,1442.4 1082.5,1442.1 1083.0,1442.1 1083.5,1441.9 1084.0,1441.5 1084.5,1440.3 1085.0,1440.1 1085.5,1440.1 1086.0,1438.7 1086.5,1440.0 1087.0,1439.3 1087.5,1439.0 1088.0,1438.6 1088.5,1439.5 1089.0,1439.0 1089.5,1440.5 1090.0,1439.9 1090.5,1439.3 1091.0,1440.9 1091.5,1440.6 1092.0,1441.0 1092.5,1441.5 1093.0,1442.0 1093.5,1442.5 1094.0,1443.1 1094.5,1443.2 1095.0,1442.8 1095.5,1442.6 1096.0,1443.1 1096.5,1443.9 1097.0,1444.3 1097.5,1444.9 1098.0,1443.2 1098.5,1444.1 1099.0,1443.9 1099.5,1443.9 1100.0,1444.2 1100.5,1444.0 1101.0,1444.0 1101.5,1443.8 1102.0,1444.4 1102.5,1444.8 1103.0,1445.1 1103.5,1443.9 1104.0,1443.7 1104.5,1444.1 1105.0,1443.8 1105.5,1444.8 1106.0,1443.8 1106.5,1444.3 1107.0,1443.5 1107.5,1444.1 1108.0,1444.4 1108.5,1445.1 1109.0,1443.9 1109.5,1444.5 1110.0,1443.2 1110.5,1443.6 1111.0,1443.8 1111.5,1444.0 1112.0,1444.5 1112.5,1444.6 1113.0,1443.4 1113.5,1444.6 1114.0,1443.7 1114.5,1445.3 1115.0,1444.5 1115.5,1444.4 1116.0,1444.2 1116.5,1444.3 1117.0,1444.3 1117.5,1443.9 1118.0,1444.7 1118.5,1444.4 1119.0,1444.7 1119.5,1444.2 1120.0,1444.6 1120.5,1443.9 1121.0,1446.2 1121.5,1443.9 1122.0,1444.0 1122.5,1444.8 1123.0,1444.9 1123.5,1443.8 1124.0,1443.3 1124.5,1443.5 1125.0,1443.7 1125.5,1443.8 1126.0,1444.1 1126.5,1444.8 1127.0,1444.8 1127.5,1443.8 1128.0,1444.4 1128.5,1444.6 1129.0,1444.9 1129.5,1444.0 1130.0,1443.7 1130.5,1444.5 1131.0,1444.9 1131.5,1443.7 1132.0,1445.1 1132.5,1444.9 1133.0,1443.8 1133.5,1443.0 1134.0,1443.5 1134.5,1443.6 1135.0,1444.0 1135.5,1442.8 1136.0,1444.9 1136.5,1444.8 1137.0,1443.0 1137.5,1442.3 1138.0,1443.1 1138.5,1443.3 1139.0,1443.6 1139.5,1443.0 1140.0,1442.2 1140.5,1440.9 1141.0,1441.8 1141.5,1441.4 1142.0,1439.8 1142.5,1438.8 1143.0,1436.4 1143.5,1432.3 1144.0,1425.7 1144.5,1417.8 1145.0,1405.9 1145.5,1396.9 1146.0,1390.9 1146.5,1395.9 1147.0,1405.2 1147.5,1416.0 1148.0,1423.4 1148.5,1428.1 1149.0,1428.5 1149.5,1426.2 1150.0,1423.1 1150.5,1418.5 1151.0,1415.3 1151.5,1417.4 1152.0,1422.0 1152.5,1428.8 1153.0,1433.3 1153.5,1437.0 1154.0,1440.7 1154.5,1440.7 1155.0,1441.7 1155.5,1442.4 1156.0,1442.4 1156.5,1442.4 1157.0,1443.4 1157.5,1443.7 1158.0,1441.7 1158.5,1443.3 1159.0,1443.3 1159.5,1443.3 1160.0,1444.4 1160.5,1443.5 1161.0,1444.3 1161.5,1443.6 1162.0,1443.7 1162.5,1444.4 1163.0,1443.6 1163.5,1444.0 1164.0,1443.5 1164.5,1443.6 1165.0,1444.5 1165.5,1444.5 1166.0,1443.6 1166.5,1443.6 1167.0,1445.6 1167.5,1443.9 1168.0,1443.8 1168.5,1444.5 1169.0,1443.8 1169.5,1444.1 1170.0,1444.8 1170.5,1444.8 1171.0,1444.2 1171.5,1445.0 1172.0,1444.2 1172.5,1444.2 1173.0,1444.3 1173.5,1444.2 1174.0,1444.6 1174.5,1444.5 1175.0,1444.0 1175.5,1444.5 1176.0,1444.1 1176.5,1444.1 1177.0,1444.3 1177.5,1444.9 1178.0,1444.5 1178.5,1445.1 1179.0,1445.2 1179.5,1444.4 1180.0,1444.1 1180.5,1444.0 1181.0,1444.6 1181.5,1444.9 1182.0,1445.3 1182.5,1443.7 1183.0,1444.9 1183.5,1445.0 1184.0,1445.7 1184.5,1444.5 1185.0,1444.4 1185.5,1443.6 1186.0,1444.0 1186.5,1443.9 1187.0,1443.9 1187.5,1444.0 1188.0,1443.7 1188.5,1444.4 1189.0,1444.7 1189.5,1444.9 1190.0,1444.4 1190.5,1445.0 1191.0,1445.0 1191.5,1443.7 1192.0,1444.3 1192.5,1443.8 1193.0,1444.0 1193.5,1444.6 1194.0,1444.4 1194.5,1445.3 1195.0,1445.6 1195.5,1444.7 1196.0,1444.4 1196.5,1444.4 1197.0,1444.5 1197.5,1444.8 1198.0,1444.1 1198.5,1444.8 1199.0,1444.4 1199.5,1445.1 1200.0,1445.2 1200.5,1445.4 1201.0,1444.4 1201.5,1443.8 1202.0,1443.6 1202.5,1444.4 1203.0,1443.8 1203.5,1443.7 1204.0,1444.3 1204.5,1444.0 1205.0,1444.9 1205.5,1445.5 1206.0,1444.4 1206.5,1444.7 1207.0,1443.7 1207.5,1444.6 1208.0,1444.2 1208.5,1444.0 1209.0,1443.6 1209.5,1445.4 1210.0,1443.7 1210.5,1443.9 1211.0,1444.5 1211.5,1444.7 1212.0,1444.7 1212.5,1444.6 1213.0,1444.1 1213.5,1445.0 1214.0,1444.7 1214.5,1443.8 1215.0,1445.4 1215.5,1444.4 1216.0,1445.1 1216.5,1443.8 1217.0,1443.9 1217.5,1444.3 1218.0,1444.2 1218.5,1445.1 1219.0,1443.7 1219.5,1444.6 1220.0,1444.0 1220.5,1444.8 1221.0,1444.7 1221.5,1444.3 1222.0,1445.7 1222.5,1444.5 1223.0,1445.1 1223.5,1443.9 1224.0,1444.5 1224.5,1444.6 1225.0,1444.6 1225.5,1444.4 1226.0,1444.1 1226.5,1443.0 1227.0,1444.3 1227.5,1444.1 1228.0,1444.4 1228.5,1445.0 1229.0,1445.7 1229.5,1444.9 1230.0,1445.1 1230.5,1444.9 1231.0,1445.0 1231.5,1444.9 1232.0,1444.4 1232.5,1444.4 1233.0,1444.8 1233.5,1445.5 1234.0,1445.0 1234.5,1445.4 1235.0,1443.9 1235.5,1444.7 1236.0,1444.8 1236.5,1444.9 1237.0,1443.9 1237.5,1443.6 1238.0,1443.5 1238.5,1444.4 1239.0,1445.8 1239.5,1444.7 1240.0,1444.0 1240.5,1444.8 1241.0,1444.4 1241.5,1444.7 1242.0,1444.4 1242.5,1443.9 1243.0,1444.3 1243.5,1445.0 1244.0,1444.8 1244.5,1445.2 1245.0,1444.0 1245.5,1445.1 1246.0,1444.6 1246.5,1444.7 1247.0,1445.2 1247.5,1444.5 1248.0,1444.7 1248.5,1444.9 1249.0,1444.9 1249.5,1445.0 1250.0,1445.3 1250.5,1444.9 1251.0,1444.4 1251.5,1445.9 1252.0,1444.6 1252.5,1444.8 1253.0,1444.2 1253.5,1443.5 1254.0,1444.2 1254.5,1444.6 1255.0,1444.9 1255.5,1444.6 1256.0,1445.0 1256.5,1445.1 1257.0,1445.1 1257.5,1444.6 1258.0,1444.7 1258.5,1444.5 1259.0,1444.2 1259.5,1445.3 1260.0,1444.0 1260.5,1444.6 1261.0,1444.7 1261.5,1443.5 1262.0,1445.0 1262.5,1444.4 1263.0,1444.7 1263.5,1444.4 1264.0,1443.8 1264.5,1444.7 1265.0,1444.6 1265.5,1445.1 1266.0,1444.8 1266.5,1443.7 1267.0,1445.1 1267.5,1445.0 1268.0,1445.0 1268.5,1444.8 1269.0,1444.2 1269.5,1444.8 1270.0,1444.4 1270.5,1446.0 1271.0,1444.4 1271.5,1444.0 1272.0,1444.4 1272.5,1445.3 1273.0,1444.3 1273.5,1443.3 1274.0,1445.3 1274.5,1444.7 1275.0,1444.3 1275.5,1444.9 1276.0,1444.0 1276.5,1443.9 1277.0,1445.0 1277.5,1444.2 1278.0,1444.8 1278.5,1444.5 1279.0,1444.9 1279.5,1444.5 1280.0,1443.4 1280.5,1444.8 1281.0,1444.2 1281.5,1444.9 1282.0,1444.5 1282.5,1445.1 1283.0,1444.2 1283.5,1443.3 1284.0,1444.2 1284.5,1444.6 1285.0,1444.1 1285.5,1444.0 1286.0,1445.0 1286.5,1444.1 1287.0,1444.7 1287.5,1444.2 1288.0,1443.4 1288.5,1443.6 1289.0,1443.9 1289.5,1444.1 1290.0,1443.5 1290.5,1443.1 1291.0,1443.3 1291.5,1443.4 1292.0,1443.2 1292.5,1443.2 1293.0,1444.3 1293.5,1443.3 1294.0,1442.5 1294.5,1442.6 1295.0,1443.0 1295.5,1442.0 1296.0,1441.0 1296.5,1439.6 1297.0,1438.5 1297.5,1438.1 1298.0,1437.0 1298.5,1434.9 1299.0,1433.5 1299.5,1432.7 1300.0,1430.1 1300.5,1429.0 1301.0,1428.8 1301.5,1428.4 1302.0,1428.1 1302.5,1428.6 1303.0,1429.4 1303.5,1429.8 1304.0,1429.9 1304.5,1431.9 1305.0,1432.3 1305.5,1432.5 1306.0,1432.1 1306.5,1433.2 1307.0,1432.5 1307.5,1434.0 1308.0,1433.7 1308.5,1435.6 1309.0,1437.3 1309.5,1437.7 1310.0,1439.4 1310.5,1439.5 1311.0,1440.3 1311.5,1440.8 1312.0,1441.8 1312.5,1442.0 1313.0,1443.0 1313.5,1443.6 1314.0,1443.2 1314.5,1442.7 1315.0,1443.7 1315.5,1444.3 1316.0,1444.0 1316.5,1444.0 1317.0,1444.4 1317.5,1444.6 1318.0,1442.7 1318.5,1444.8 1319.0,1444.5 1319.5,1444.4 1320.0,1443.9 1320.5,1444.3 1321.0,1444.5 1321.5,1443.5 1322.0,1444.7 1322.5,1444.3 1323.0,1445.1 1323.5,1444.7 1324.0,1444.3 1324.5,1444.4 1325.0,1444.7 1325.5,1444.5 1326.0,1444.7 1326.5,1444.1 1327.0,1443.8 1327.5,1444.2 1328.0,1443.7 1328.5,1444.1 1329.0,1444.6 1329.5,1443.7 1330.0,1443.9 1330.5,1444.9 1331.0,1444.2 1331.5,1444.5 1332.0,1443.9 1332.5,1444.0 1333.0,1444.4 1333.5,1445.3 1334.0,1444.7 1334.5,1443.7 1335.0,1444.7 1335.5,1445.0 1336.0,1444.9 1336.5,1443.9 1337.0,1444.5 1337.5,1445.6 1338.0,1444.0 1338.5,1444.7 1339.0,1444.1 1339.5,1443.9 1340.0,1444.3 1340.5,1445.0 1341.0,1445.1 1341.5,1444.1 1342.0,1444.3 1342.5,1444.1 1343.0,1443.5 1343.5,1444.8 1344.0,1445.2 1344.5,1445.2 1345.0,1444.2 1345.5,1445.1 1346.0,1445.0 1346.5,1444.3 1347.0,1444.4 1347.5,1444.2 1348.0,1444.5 1348.5,1445.3 1349.0,1443.9 1349.5,1443.8 1350.0,1444.8 1350.5,1444.4 1351.0,1443.4 1351.5,1443.8 1352.0,1443.9 1352.5,1444.0 1353.0,1444.4 1353.5,1444.7 1354.0,1444.1 1354.5,1444.2 1355.0,1443.7 1355.5,1444.6 1356.0,1444.7 1356.5,1443.8 1357.0,1443.5 1357.5,1444.9 1358.0,1444.2 1358.5,1443.3 1359.0,1442.8 1359.5,1443.4 1360.0,1444.0 1360.5,1443.0 1361.0,1443.0 1361.5,1442.7 1362.0,1443.0 1362.5,1443.1 1363.0,1441.5 1363.5,1441.6 1364.0,1441.2 1364.5,1440.3 1365.0,1439.3 1365.5,1439.2 1366.0,1437.2 1366.5,1434.9 1367.0,1430.8 1367.5,1422.6 1368.0,1411.9 1368.5,1396.2 1369.0,1378.9 1369.5,1365.3 1369.8,1362.2 1370.0,1362.6 1370.5,1375.7 1371.0,1391.8 1371.5,1406.4 1372.0,1417.0 1372.5,1424.5 1373.0,1427.3 1373.5,1426.4 1374.0,1422.3 1374.5,1414.9 1375.0,1407.6 1375.5,1401.0 1376.0,1402.8 1376.5,1410.2 1377.0,1418.4 1377.5,1426.5 1378.0,1432.5 1378.5,1436.3 1379.0,1439.3 1379.5,1439.5 1380.0,1441.6 1380.5,1440.9 1381.0,1441.7 1381.5,1442.0 1382.0,1442.6 1382.5,1442.6 1383.0,1443.3 1383.5,1443.2 1384.0,1444.4 1384.5,1443.6 1385.0,1443.4 1385.5,1443.8 1386.0,1444.0 1386.5,1443.7 1387.0,1443.3 1387.5,1443.5 1388.0,1444.0 1388.5,1444.3 1389.0,1444.2 1389.5,1443.9 1390.0,1444.3 1390.5,1443.8 1391.0,1444.2 1391.5,1444.7 1392.0,1444.6 1392.5,1444.7 1393.0,1443.9 1393.5,1444.1 1394.0,1443.5 1394.5,1444.5 1395.0,1443.8 1395.5,1443.3 1396.0,1443.7 1396.5,1444.0 1397.0,1442.8 1397.5,1443.1 1398.0,1444.2 1398.5,1443.6 1399.0,1443.4 1399.5,1442.5 1400.0,1443.8 1400.5,1443.3 1401.0,1442.8 1401.5,1441.5 1402.0,1441.7 1402.5,1441.4 1403.0,1439.9 1403.5,1439.1 1404.0,1438.0 1404.5,1437.6 1405.0,1436.1 1405.5,1435.1 1406.0,1433.8 1406.5,1433.0 1407.0,1433.9 1407.3,1434.2 1407.5,1433.9 1408.0,1434.4 1408.5,1433.9 1409.0,1434.6 1409.5,1435.4 1410.0,1435.6 1410.5,1436.9 1411.0,1435.8 1411.5,1436.4 1412.0,1436.8 1412.5,1436.9 1413.0,1437.9 1413.5,1437.0 1414.0,1439.0 1414.5,1439.4 1415.0,1439.7 1415.5,1440.8 1416.0,1441.8 1416.5,1441.3 1417.0,1442.1 1417.5,1442.3 1418.0,1442.7 1418.5,1442.5 1419.0,1442.6 1419.5,1443.4 1420.0,1443.0 1420.5,1443.8 1421.0,1443.8 1421.5,1443.3 1422.0,1443.7 1422.5,1443.5 1423.0,1443.4 1423.5,1444.0 1424.0,1443.4 1424.5,1443.4 1425.0,1442.2 1425.5,1443.3 1426.0,1442.2 1426.5,1442.5 1427.0,1443.2 1427.5,1442.9 1428.0,1441.5 1428.5,1440.5 1429.0,1440.4 1429.5,1438.8 1430.0,1437.0 1430.5,1432.8 1431.0,1428.7 1431.5,1421.5 1432.0,1410.7 1432.5,1401.2 1433.0,1394.7 1433.2,1394.7 1433.5,1394.8 1434.0,1403.1 1434.5,1412.4 1435.0,1420.8 1435.5,1427.9 1436.0,1430.6 1436.5,1432.5 1437.0,1432.4 1437.5,1430.9 1438.0,1426.7 1438.5,1422.1 1439.0,1419.2 1439.5,1418.2 1440.0,1421.2 1440.5,1426.4 1441.0,1431.6 1441.5,1436.7 1442.0,1437.7 1442.5,1440.2 1443.0,1441.2 1443.5,1441.9 1444.0,1443.3 1444.5,1443.3 1445.0,1443.5 1445.5,1443.2 1446.0,1443.1 1446.5,1443.8 1447.0,1443.7 1447.5,1443.6 1448.0,1444.3 1448.5,1443.5 1449.0,1443.8 1449.5,1444.6 1450.0,1444.2 1450.5,1444.6 1451.0,1443.9 1451.5,1444.7 1452.0,1444.1 1452.5,1445.1 1453.0,1444.9 1453.5,1444.7 1454.0,1445.3 1454.5,1444.7 1455.0,1444.3 1455.5,1445.3 1456.0,1444.8 1456.5,1445.2 1457.0,1444.7 1457.5,1445.2 1458.0,1444.3 1458.5,1444.1 1459.0,1444.0 1459.5,1445.1 1460.0,1443.8 1460.5,1443.9 1461.0,1444.1 1461.5,1444.8 1462.0,1445.0 1462.5,1444.4 1463.0,1445.1 1463.5,1444.9 1464.0,1445.3 1464.5,1445.2 1465.0,1444.5 1465.5,1444.9 1466.0,1444.7 1466.5,1445.0 1467.0,1444.9 1467.5,1444.8 1468.0,1445.2 1468.5,1444.9 1469.0,1445.2 1469.5,1444.8 1470.0,1444.8 1470.5,1445.3 1471.0,1445.3 1471.5,1445.4 1472.0,1445.1 1472.5,1444.8 1473.0,1444.9 1473.5,1444.9 1474.0,1444.0 1474.5,1444.3 1475.0,1445.6 1475.5,1444.8 1476.0,1443.5 1476.5,1444.8 1477.0,1445.0 1477.5,1444.3 1478.0,1445.9 1478.5,1445.4 1479.0,1445.3 1479.5,1444.8 1480.0,1445.1 1480.5,1445.3 1481.0,1445.1 1481.5,1444.6 1482.0,1445.0 1482.5,1445.0 1483.0,1445.0 1483.5,1444.4 1484.0,1445.0 1484.5,1444.9 1485.0,1445.0 1485.5,1445.0 1486.0,1444.2 1486.5,1445.3 1487.0,1445.2 1487.5,1444.3 1488.0,1444.9 1488.5,1444.5 1489.0,1444.7 1489.5,1445.4 1490.0,1445.1 1490.5,1445.8 1491.0,1444.9 1491.5,1444.4 1492.0,1444.9 1492.5,1443.8 1493.0,1445.7 1493.5,1445.0 1494.0,1445.1 1494.5,1445.0 1495.0,1444.5 1495.5,1444.8 1496.0,1444.5 1496.5,1444.6 1497.0,1445.0 1497.5,1444.3 1498.0,1445.6 1498.5,1444.4 1499.0,1445.3 1499.5,1444.6 1500.0,1444.3 1500.5,1445.0 1501.0,1444.9 1501.5,1444.8 1502.0,1444.8 1502.5,1444.6 1503.0,1445.0 1503.5,1444.6 1504.0,1444.9 1504.5,1445.4 1505.0,1444.2 1505.5,1444.6 1506.0,1444.5 1506.5,1444.5 1507.0,1444.2 1507.5,1444.7 1508.0,1444.9 1508.5,1444.8 1509.0,1444.1 1509.5,1445.1 1510.0,1445.1 1510.5,1444.8 1511.0,1444.3 1511.5,1444.4 1512.0,1445.7 1512.5,1445.6 1513.0,1445.0 1513.5,1444.4 1514.0,1445.4 1514.5,1444.9 1515.0,1445.5 1515.5,1444.5 1516.0,1445.0 1516.5,1444.7 1517.0,1445.1 1517.5,1444.5 1518.0,1445.2 1518.5,1444.6 1519.0,1444.3 1519.5,1445.0 1520.0,1444.8 1520.5,1443.8 1521.0,1444.7 1521.5,1444.7 1522.0,1444.8 1522.5,1445.6 1523.0,1444.4 1523.5,1444.6 1524.0,1443.9 1524.5,1444.0 1525.0,1444.4 1525.5,1444.5 1526.0,1444.5 1526.5,1444.9 1527.0,1444.9 1527.5,1445.0 1528.0,1444.4 1528.5,1444.7 1529.0,1444.2 1529.5,1444.6 1530.0,1444.6 1530.5,1444.2 1531.0,1442.9 1531.5,1444.0 1532.0,1445.4 1532.5,1444.2 1533.0,1443.9 1533.5,1444.1 1534.0,1444.5 1534.5,1444.1 1535.0,1443.7 1535.5,1443.0 1536.0,1443.3 1536.5,1442.7 1537.0,1443.1 1537.5,1443.3 1538.0,1442.7 1538.5,1441.6 1539.0,1440.9 1539.5,1440.2 1540.0,1440.4 1540.5,1439.8 1541.0,1439.2 1541.5,1438.3 1542.0,1436.9 1542.5,1435.9 1543.0,1436.6 1543.5,1435.2 1544.0,1436.0 1544.5,1433.9 1545.0,1434.3 1545.5,1434.5 1546.0,1435.2 1546.5,1435.7 1547.0,1435.6 1547.5,1436.5 1548.0,1436.1 1548.5,1436.8 1549.0,1436.8 1549.5,1437.3 1550.0,1437.4 1550.5,1437.7 1551.0,1439.0 1551.5,1436.5 1552.0,1436.5 1552.5,1436.3 1553.0,1435.2 1553.5,1435.0 1554.0,1432.9 1554.5,1432.8 1555.0,1431.1 1555.5,1430.9 1556.0,1429.9 1556.5,1429.3 1557.0,1428.6 1557.5,1427.9 1558.0,1428.3 1558.5,1429.4 1559.0,1429.4 1559.5,1430.3 1560.0,1429.9 1560.5,1431.3 1561.0,1432.0 1561.5,1431.0 1562.0,1432.6 1562.5,1433.8 1563.0,1433.1 1563.5,1434.4 1564.0,1434.6 1564.5,1435.6 1565.0,1435.8 1565.5,1436.3 1566.0,1437.2 1566.5,1438.0 1567.0,1438.6 1567.5,1439.2 1568.0,1440.7 1568.5,1440.5 1569.0,1440.7 1569.5,1441.3 1570.0,1442.3 1570.5,1441.5 1571.0,1443.0 1571.5,1443.4 1572.0,1443.8 1572.5,1443.2 1573.0,1443.2 1573.5,1443.8 1574.0,1443.9 1574.5,1444.5 1575.0,1444.1 1575.5,1443.9 1576.0,1443.6 1576.5,1444.1 1577.0,1444.3 1577.5,1444.8 1578.0,1444.4 1578.5,1445.0 1579.0,1445.0 1579.5,1444.1 1580.0,1444.0 1580.5,1444.2 1581.0,1444.4 1581.5,1444.2 1582.0,1444.9 1582.5,1444.9 1583.0,1445.2 1583.5,1444.8 1584.0,1444.5 1584.5,1444.8 1585.0,1444.3 1585.5,1444.8 1586.0,1444.4 1586.5,1445.2 1587.0,1443.6 1587.5,1445.1 1588.0,1445.1 1588.5,1444.7 1589.0,1444.9 1589.5,1444.9 1590.0,1445.4 1590.5,1445.5 1591.0,1444.8 1591.5,1445.5 1592.0,1444.5 1592.5,1445.0 1593.0,1445.0 1593.5,1444.3 1594.0,1445.0 1594.5,1444.6 1595.0,1445.2 1595.5,1444.5 1596.0,1444.1 1596.5,1444.3 1597.0,1444.9 1597.5,1445.0 1598.0,1445.0 1598.5,1444.6 1599.0,1445.2 1599.5,1444.7 1600.0,1444.8 1600.5,1445.3 1601.0,1444.8 1601.5,1444.1 1602.0,1445.2 1602.5,1444.9 1603.0,1444.8 1603.5,1445.5 1604.0,1444.7 1604.5,1445.2 1605.0,1445.0 1605.5,1446.1 1606.0,1444.2 1606.5,1445.0 1607.0,1445.1 1607.5,1445.4 1608.0,1444.8 1608.5,1444.7 1609.0,1445.6 1609.5,1444.8 1610.0,1445.1 1610.5,1444.9 1611.0,1445.1 1611.5,1444.4 1612.0,1444.7 1612.5,1444.9 1613.0,1445.0 1613.5,1445.5 1614.0,1445.2 1614.5,1445.2 1615.0,1445.0 1615.5,1445.5 1616.0,1444.7 1616.5,1444.9 1617.0,1444.3 1617.5,1444.5 1618.0,1445.4 1618.5,1445.0 1619.0,1444.2 1619.5,1445.0 1620.0,1444.9 1620.5,1444.5 1621.0,1445.1 1621.5,1444.9 1622.0,1445.0 1622.5,1445.4 1623.0,1444.7 1623.5,1445.5 1624.0,1444.9 1624.5,1444.9 1625.0,1445.5 1625.5,1445.2 1626.0,1444.8 1626.5,1444.9 1627.0,1445.1 1627.5,1444.4 1628.0,1445.3 1628.5,1445.0 1629.0,1444.4 1629.5,1444.6 1630.0,1445.4 1630.5,1444.4 1631.0,1445.9 1631.5,1444.5 1632.0,1445.1 1632.5,1443.9 1633.0,1445.0 1633.5,1444.8 1634.0,1445.2 1634.5,1445.1 1635.0,1444.8 1635.5,1445.9 1636.0,1445.3 1636.5,1444.7 1637.0,1445.1 1637.5,1443.7 1638.0,1444.7 1638.5,1445.5 1639.0,1444.7 1639.5,1445.0 1640.0,1444.5 1640.5,1445.3 1641.0,1445.0 1641.5,1444.9 1642.0,1445.3 1642.5,1445.6 1643.0,1445.3 1643.5,1444.2 1644.0,1445.1 1644.5,1445.0 1645.0,1444.4 1645.5,1444.2 1646.0,1444.7 1646.5,1444.8 1647.0,1444.9 1647.5,1444.6 1648.0,1445.0 1648.5,1445.0 1649.0,1444.8 1649.5,1445.0 1650.0,1444.6 1650.5,1444.2 1651.0,1444.8 1651.5,1445.2 1652.0,1446.0 1652.5,1443.9 1653.0,1444.6 1653.5,1444.4 1654.0,1444.9 1654.5,1444.4 1655.0,1444.8 1655.5,1445.2 1656.0,1444.4 1656.5,1444.7 1657.0,1445.4 1657.5,1445.1 1658.0,1444.0 1658.5,1445.5 1659.0,1444.3 1659.5,1444.7 1660.0,1444.4 1660.5,1444.4 1661.0,1444.2 1661.5,1444.7 1662.0,1444.1 1662.5,1443.9 1663.0,1444.1 1663.5,1444.3 1664.0,1443.4 1664.5,1444.5 1665.0,1443.8 1665.5,1444.3 1666.0,1444.5 1666.5,1443.9 1667.0,1443.8 1667.5,1443.1 1668.0,1442.7 1668.5,1441.8 1669.0,1442.0 1669.5,1441.2 1670.0,1439.7 1670.5,1439.8 1671.0,1439.2 1671.5,1437.4 1672.0,1436.3 1672.5,1434.2 1673.0,1432.3 1673.5,1431.4 1674.0,1430.0 1674.5,1429.0 1674.9,1429.7 1675.0,1429.4 1675.5,1429.4 1676.0,1430.5 1676.5,1431.4 1677.0,1432.8 1677.5,1434.2 1678.0,1434.2 1678.5,1434.6 1679.0,1436.1 1679.5,1436.7 1680.0,1435.5 1680.5,1435.3 1681.0,1435.0 1681.5,1435.5 1682.0,1435.8 1682.5,1436.0 1683.0,1437.1 1683.5,1437.1 1684.0,1438.0 1684.5,1438.5 1685.0,1440.3 1685.5,1440.9 1686.0,1441.6 1686.5,1441.1 1687.0,1442.4 1687.5,1442.3 1688.0,1442.7 1688.5,1442.8 1689.0,1442.5 1689.5,1442.5 1690.0,1441.9 1690.5,1442.2 1691.0,1442.2 1691.5,1441.6 1692.0,1441.9 1692.5,1442.0 1693.0,1440.7 1693.5,1439.9 1694.0,1439.0 1694.5,1438.3 1695.0,1437.5 1695.5,1435.0 1696.0,1432.8 1696.5,1429.8 1697.0,1427.7 1697.5,1424.9 1698.0,1421.6 1698.5,1419.4 1699.0,1417.6 1699.4,1417.8 1699.5,1418.1 1700.0,1418.5 1700.5,1420.2 1701.0,1422.2 1701.5,1424.3 1702.0,1426.4 1702.5,1428.3 1703.0,1429.8 1703.5,1430.5 1704.0,1431.2 1704.5,1430.9 1705.0,1430.8 1705.5,1430.0 1706.0,1429.3 1706.5,1429.5 1707.0,1429.3 1707.5,1431.8 1708.0,1432.2 1708.5,1433.9 1709.0,1436.4 1709.5,1436.7 1710.0,1438.2 1710.5,1439.5 1711.0,1440.3 1711.5,1441.3 1712.0,1442.0 1712.5,1442.6 1713.0,1442.7 1713.5,1443.4 1714.0,1443.2 1714.5,1443.8 1715.0,1444.1 1715.5,1443.1 1716.0,1443.8 1716.5,1444.1 1717.0,1443.3 1717.5,1442.9 1718.0,1444.4 1718.5,1444.0 1719.0,1444.7 1719.5,1444.4 1720.0,1444.4 1720.5,1444.3 1721.0,1444.6 1721.5,1444.2 1722.0,1444.4 1722.5,1444.9 1723.0,1444.5 1723.5,1444.9 1724.0,1444.7 1724.5,1444.6 1725.0,1444.3 1725.5,1445.1 1726.0,1444.4 1726.5,1444.9 1727.0,1444.2 1727.5,1444.9 1728.0,1445.0 1728.5,1444.6 1729.0,1444.2 1729.5,1444.8 1730.0,1444.9 1730.5,1444.7 1731.0,1444.6 1731.5,1445.3 1732.0,1444.9 1732.5,1444.8 1733.0,1445.3 1733.5,1444.9 1734.0,1444.7 1734.5,1445.3 1735.0,1444.8 1735.5,1445.3 1736.0,1444.7 1736.5,1445.1 1737.0,1445.5 1737.5,1445.2 1738.0,1445.2 1738.5,1445.2 1739.0,1445.3 1739.5,1445.0 1740.0,1445.2 1740.5,1444.9 1741.0,1445.8 1741.5,1444.7 1742.0,1445.4 1742.5,1444.6 1743.0,1445.2 1743.5,1445.6 1744.0,1444.6 1744.5,1445.7 1745.0,1444.6 1745.5,1444.7 1746.0,1445.2 1746.5,1444.6 1747.0,1445.4 1747.5,1445.2 1748.0,1443.9 1748.5,1444.5 1749.0,1444.7 1749.5,1445.2 1750.0,1444.6 1750.5,1444.7 1751.0,1445.3 1751.5,1444.6 1752.0,1445.1 1752.5,1444.5 1753.0,1445.4 1753.5,1445.6 1754.0,1444.6 1754.5,1444.1 1755.0,1444.3 1755.5,1445.4 1756.0,1444.8 1756.5,1445.4 1757.0,1444.4 1757.5,1444.6 1758.0,1444.9 1758.5,1445.4 1759.0,1444.9 1759.5,1444.5 1760.0,1445.0 1760.5,1444.9 1761.0,1445.1 1761.5,1444.8 1762.0,1444.6 1762.5,1444.8 1763.0,1443.8 1763.5,1444.9 1764.0,1445.2 1764.5,1444.9 1765.0,1444.2 1765.5,1443.9 1766.0,1444.9 1766.5,1444.0 1767.0,1444.0 1767.5,1444.0 1768.0,1443.5 1768.5,1443.5 1769.0,1443.8 1769.5,1442.7 1770.0,1443.4 1770.5,1442.5 1771.0,1442.1 1771.5,1442.0 1772.0,1441.7 1772.5,1441.4 1773.0,1441.0 1773.5,1440.4 1774.0,1441.2 1774.3,1440.4 1774.5,1440.2 1775.0,1440.9 1775.5,1441.0 1776.0,1440.9 1776.5,1441.2 1777.0,1441.7 1777.5,1442.5 1778.0,1442.0 1778.5,1441.8 1779.0,1442.3 1779.5,1443.0 1780.0,1442.9 1780.5,1442.9 1781.0,1443.5 1781.5,1443.6 1782.0,1443.3 1782.5,1443.4 1783.0,1443.0 1783.5,1442.9 1784.0,1442.8 1784.5,1442.1 1785.0,1442.4 1785.5,1441.8 1786.0,1441.1 1786.5,1440.7 1787.0,1440.0 1787.5,1438.8 1788.0,1438.0 1788.5,1436.9 1789.0,1436.7 1789.5,1434.5 1790.0,1434.1 1790.5,1433.6 1791.0,1432.1 1791.5,1431.8 1792.0,1431.6 1792.5,1431.4 1793.0,1432.9 1793.5,1432.9 1794.0,1433.2 1794.5,1434.0 1795.0,1434.9 1795.5,1435.3 1796.0,1435.5 1796.5,1436.4 1797.0,1436.1 1797.5,1436.4 1798.0,1436.8 1798.5,1436.6 1799.0,1437.1 1799.5,1437.1 1800.0,1438.7 1800.5,1438.0 1801.0,1439.0 1801.5,1439.0 1802.0,1439.5 1802.5,1440.4 1803.0,1440.9 1803.5,1441.5 1804.0,1442.1 1804.5,1442.8 1805.0,1443.6 1805.5,1444.0 1806.0,1443.5 1806.5,1444.4 1807.0,1444.6 1807.5,1443.8 1808.0,1444.0 1808.5,1444.3 1809.0,1445.1 1809.5,1444.4 1810.0,1444.4 1810.5,1445.1 1811.0,1444.5 1811.5,1444.6 1812.0,1444.9 1812.5,1444.8 1813.0,1443.8 1813.5,1444.3 1814.0,1445.1 1814.5,1444.3 1815.0,1445.3 1815.5,1444.8 1816.0,1445.0 1816.5,1445.0 1817.0,1444.2 1817.5,1444.6 1818.0,1444.5 1818.5,1445.0 1819.0,1445.5 1819.5,1444.9 1820.0,1445.0 1820.5,1444.2 1821.0,1444.9 1821.5,1444.9 1822.0,1444.9 1822.5,1445.3 1823.0,1445.6 1823.5,1445.0 1824.0,1445.2 1824.5,1444.5 1825.0,1445.3 1825.5,1445.1 1826.0,1444.4 1826.5,1445.2 1827.0,1444.8 1827.5,1445.5 1828.0,1445.3 1828.5,1445.1 1829.0,1445.8 1829.5,1445.0 1830.0,1445.0 1830.5,1445.1 1831.0,1445.2 1831.5,1444.8 1832.0,1445.3 1832.5,1445.3 1833.0,1444.9 1833.5,1444.5 1834.0,1445.6 1834.5,1445.6 1835.0,1445.5 1835.5,1445.5 1836.0,1445.8 1836.5,1445.3 1837.0,1445.8 1837.5,1445.1 1838.0,1444.8 1838.5,1445.2 1839.0,1445.1 1839.5,1445.4 1840.0,1445.9 1840.5,1445.3 1841.0,1445.6 1841.5,1446.0 1842.0,1445.9 1842.5,1445.2 1843.0,1444.9 1843.5,1446.0 1844.0,1444.8 1844.5,1444.5 1845.0,1444.4 1845.5,1445.6 1846.0,1444.6 1846.5,1445.1 1847.0,1445.1 1847.5,1445.7 1848.0,1444.7 1848.5,1445.2 1849.0,1445.3 1849.5,1445.7 1850.0,1445.1 1850.5,1445.3 1851.0,1445.1 1851.5,1445.6 1852.0,1445.5 1852.5,1445.0 1853.0,1445.4 1853.5,1444.6 1854.0,1445.2 1854.5,1444.8 1855.0,1445.0 1855.5,1445.5 1856.0,1445.9 1856.5,1445.2 1857.0,1445.1 1857.5,1445.0 1858.0,1445.4 1858.5,1445.0 1859.0,1445.5 1859.5,1445.7 1860.0,1445.3 1860.5,1444.9 1861.0,1445.3 1861.5,1444.8 1862.0,1444.4 1862.5,1445.5 1863.0,1445.7 1863.5,1445.5 1864.0,1444.8 1864.5,1443.7 1865.0,1444.7 1865.5,1445.2 1866.0,1444.7 1866.5,1445.4 1867.0,1444.5 1867.5,1445.0 1868.0,1444.9 1868.5,1444.8 1869.0,1444.2 1869.5,1444.6 1870.0,1444.7 1870.5,1444.3 1871.0,1443.9 1871.5,1444.1 1872.0,1443.8 1872.5,1444.1 1873.0,1444.2 1873.5,1443.7 1874.0,1443.5 1874.5,1442.9 1875.0,1442.7 1875.5,1441.5 1876.0,1441.8 1876.5,1441.6 1877.0,1440.5 1877.5,1440.4 1878.0,1438.9 1878.5,1438.9 1879.0,1438.1 1879.5,1437.7 1880.0,1436.9 1880.5,1437.1 1881.0,1434.6 1881.5,1434.8 1882.0,1434.8 1882.5,1435.0 1883.0,1434.8 1883.5,1434.9 1884.0,1434.9 1884.5,1435.4 1885.0,1436.1 1885.5,1437.5 1886.0,1437.2 1886.5,1439.1 1887.0,1439.0 1887.5,1439.0 1888.0,1439.8 1888.5,1440.2 1889.0,1439.7 1889.5,1439.7 1890.0,1441.0 1890.5,1440.0 1891.0,1440.5 1891.5,1440.1 1892.0,1438.7 1892.5,1438.6 1893.0,1436.9 1893.5,1434.5 1894.0,1429.7 1894.5,1423.0 1895.0,1413.3 1895.5,1400.6 1896.0,1387.8 1896.5,1377.5 1896.8,1375.7 1897.0,1376.2 1897.5,1385.0 1898.0,1397.3 1898.5,1410.1 1899.0,1420.9 1899.5,1427.6 1900.0,1432.0 1900.5,1434.8 1901.0,1435.2 1901.5,1435.9 1902.0,1434.8 1902.5,1432.0 1903.0,1427.6 1903.5,1423.0 1904.0,1416.1 1904.5,1410.2 1905.0,1409.0 1905.5,1412.3 1906.0,1418.8 1906.5,1425.5 1907.0,1431.5 1907.5,1436.0 1908.0,1438.9 1908.5,1440.3 1909.0,1441.9 1909.5,1442.4 1910.0,1442.3 1910.5,1442.8 1911.0,1443.5 1911.5,1443.9 1912.0,1444.2 1912.5,1443.5 1913.0,1443.4 1913.5,1445.0 1914.0,1444.2 1914.5,1444.8 1915.0,1444.5 1915.5,1444.1 1916.0,1445.1 1916.5,1444.9 1917.0,1445.3 1917.5,1445.0 1918.0,1444.5 1918.5,1444.8 1919.0,1445.3 1919.5,1444.7 1920.0,1445.0 1920.5,1445.4 1921.0,1444.6 1921.5,1444.9 1922.0,1445.1 1922.5,1445.4 1923.0,1445.1 1923.5,1444.8 1924.0,1445.3 1924.5,1444.9 1925.0,1445.3 1925.5,1445.3 1926.0,1445.1 1926.5,1445.5 1927.0,1445.6 1927.5,1444.7 1928.0,1445.4 1928.5,1445.2 1929.0,1445.1 1929.5,1445.3 1930.0,1445.7 1930.5,1445.2 1931.0,1445.2 1931.5,1444.8 1932.0,1445.2 1932.5,1445.3 1933.0,1445.0 1933.5,1445.2 1934.0,1445.5 1934.5,1445.8 1935.0,1445.2 1935.5,1446.1 1936.0,1445.7 1936.5,1445.7 1937.0,1445.6 1937.5,1445.4 1938.0,1445.1 1938.5,1445.4 1939.0,1445.4 1939.5,1445.4 1940.0,1446.0 1940.5,1446.1 1941.0,1445.6 1941.5,1445.8 1942.0,1445.2 1942.5,1444.7 1943.0,1445.4 1943.5,1445.5 1944.0,1445.9 1944.5,1446.3 1945.0,1445.5 1945.5,1445.9 1946.0,1445.8 1946.5,1445.5 1947.0,1445.8 1947.5,1445.6 1948.0,1446.0 1948.5,1445.1 1949.0,1444.6 1949.5,1445.5 1950.0,1445.8 1950.5,1445.9 1951.0,1445.3 1951.5,1445.7 1952.0,1445.2 1952.5,1445.7 1953.0,1445.2 1953.5,1445.1 1954.0,1445.8 1954.5,1445.0 1955.0,1445.0 1955.5,1445.8 1956.0,1445.5 1956.5,1444.7 1957.0,1445.9 1957.5,1445.1 1958.0,1445.3 1958.5,1445.5 1959.0,1446.2 1959.5,1445.5 1960.0,1445.8 1960.5,1445.5 1961.0,1445.7 1961.5,1445.0 1962.0,1445.5 1962.5,1445.3 1963.0,1445.2 1963.5,1445.6 1964.0,1445.9 1964.5,1445.7 1965.0,1445.4 1965.5,1445.8 1966.0,1445.1 1966.5,1445.6 1967.0,1445.7 1967.5,1445.5 1968.0,1445.4 1968.5,1445.6 1969.0,1445.3 1969.5,1445.5 1970.0,1445.8 1970.5,1444.9 1971.0,1446.0 1971.5,1445.7 1972.0,1445.6 1972.5,1445.2 1973.0,1445.4 1973.5,1445.3 1974.0,1445.8 1974.5,1445.8 1975.0,1446.0 1975.5,1445.6 1976.0,1444.8 1976.5,1445.2 1977.0,1445.4 1977.5,1445.7 1978.0,1445.0 1978.5,1445.5 1979.0,1445.6 1979.5,1445.3 1980.0,1445.5 1980.5,1446.4 1981.0,1445.6 1981.5,1446.3 1982.0,1445.6 1982.5,1445.3 1983.0,1445.8 1983.5,1445.4 1984.0,1445.5 1984.5,1444.8 1985.0,1445.7 1985.5,1445.4 1986.0,1446.0 1986.5,1445.6 1987.0,1445.4 1987.5,1445.2 1988.0,1445.6 1988.5,1445.4 1989.0,1445.3 1989.5,1446.2 1990.0,1445.5 1990.5,1445.9 1991.0,1446.1 1991.5,1445.7 1992.0,1445.8 1992.5,1445.7 1993.0,1445.9 1993.5,1445.8 1994.0,1445.7 1994.5,1445.6 1995.0,1445.4 1995.5,1445.4 1996.0,1445.4 1996.5,1445.6 1997.0,1446.0 1997.5,1445.3 1998.0,1445.4 1998.5,1445.2 1999.0,1445.6 1999.5,1445.9 2000.0,1445.5 2000.5,1445.7 2001.0,1444.8 2001.5,1445.5 2002.0,1445.8 2002.5,1445.4 2003.0,1445.0 2003.5,1445.7 2004.0,1445.6 2004.5,1446.2 2005.0,1445.4 2005.5,1445.5 2006.0,1445.5 2006.5,1445.6 2007.0,1445.0 2007.5,1446.1 2008.0,1445.8 2008.5,1445.5 2009.0,1445.5 2009.5,1445.8 2010.0,1445.7 2010.5,1445.5 2011.0,1445.5 2011.5,1445.7 2012.0,1445.5 2012.5,1445.5 2013.0,1445.5 2013.5,1445.5 2014.0,1445.2 2014.5,1445.3 2015.0,1445.7 2015.5,1445.9 2016.0,1445.6 2016.5,1444.4 2017.0,1445.1 2017.5,1445.8 2018.0,1446.2 2018.5,1446.0 2019.0,1445.5 2019.5,1445.5 2020.0,1445.5 2020.5,1446.2 2021.0,1445.7 2021.5,1445.3 2022.0,1445.9 2022.5,1445.9 2023.0,1444.9 2023.5,1445.4 2024.0,1446.0 2024.5,1445.9 2025.0,1445.2 2025.5,1445.6 2026.0,1445.9 2026.5,1445.7 2027.0,1445.3 2027.5,1445.6 2028.0,1445.9 2028.5,1445.8 2029.0,1445.3 2029.5,1446.4 2030.0,1445.7 2030.5,1445.1 2031.0,1445.5 2031.5,1444.7 2032.0,1445.4 2032.5,1445.6 2033.0,1446.5 2033.5,1445.7 2034.0,1445.8 2034.5,1445.9 2035.0,1445.7 2035.5,1445.4 2036.0,1446.1 2036.5,1445.8 2037.0,1446.2 2037.5,1446.0 2038.0,1445.3 2038.5,1445.5 2039.0,1445.5 2039.5,1445.5 2040.0,1445.8 2040.5,1445.6 2041.0,1445.4 2041.5,1446.2 2042.0,1446.1 2042.5,1445.7 2043.0,1445.3 2043.5,1445.5 2044.0,1445.4 2044.5,1445.4 2045.0,1445.3 2045.5,1445.7 2046.0,1445.8 2046.5,1445.8 2047.0,1445.4 2047.5,1445.8 2048.0,1446.3 2048.5,1445.8 2049.0,1445.5 2049.5,1446.6 2050.0,1445.8 2050.5,1445.5 2051.0,1446.0 2051.5,1445.4 2052.0,1445.6 2052.5,1446.0 2053.0,1445.5 2053.5,1445.2 2054.0,1445.9 2054.5,1446.0 2055.0,1445.2 2055.5,1445.6 2056.0,1446.0 2056.5,1445.8 2057.0,1446.0 2057.5,1445.6 2058.0,1445.5 2058.5,1445.5 2059.0,1445.6 2059.5,1445.8 2060.0,1444.8 2060.5,1445.1 2061.0,1445.7 2061.5,1445.9 2062.0,1445.5 2062.5,1445.7 2063.0,1445.3 2063.5,1445.2 2064.0,1445.8 2064.5,1445.7 2065.0,1445.5 2065.5,1445.3 2066.0,1445.7 2066.5,1445.7 2067.0,1445.6 2067.5,1445.7 2068.0,1445.6 2068.5,1445.9 2069.0,1445.8 2069.5,1446.3 2070.0,1446.2 2070.5,1445.7 2071.0,1445.3 2071.5,1445.9 2072.0,1445.5 2072.5,1446.2 2073.0,1445.2 2073.5,1445.6 2074.0,1446.2 2074.5,1445.7 2075.0,1445.9 2075.5,1445.9 2076.0,1445.6 2076.5,1446.0 2077.0,1445.4 2077.5,1445.6 2078.0,1446.4 2078.5,1445.7 2079.0,1445.8 2079.5,1445.4 2080.0,1446.1 2080.5,1445.4 2081.0,1445.5 2081.5,1445.5 2082.0,1445.4 2082.5,1445.3 2083.0,1445.6 2083.5,1445.6 2084.0,1445.7 2084.5,1445.4 2085.0,1445.4 2085.5,1445.6 2086.0,1445.7 2086.5,1445.4 2087.0,1445.7 2087.5,1445.6 2088.0,1446.1 2088.5,1445.9 2089.0,1445.9 2089.5,1446.0 2090.0,1445.5 2090.5,1446.2 2091.0,1445.8 2091.5,1445.6 2092.0,1445.8 2092.5,1445.4 2093.0,1446.3 2093.5,1445.8 2094.0,1445.2 2094.5,1445.4 2095.0,1445.6 2095.5,1445.5 2096.0,1445.9 2096.5,1446.0 2097.0,1446.0 2097.5,1445.9 2098.0,1445.4 2098.5,1446.1 2099.0,1446.1 2099.5,1445.1 2100.0,1445.5 2100.5,1445.6 2101.0,1445.5 2101.5,1446.1 2102.0,1445.9 2102.5,1445.7 2103.0,1445.3 2103.5,1445.1 2104.0,1445.4 2104.5,1445.5 2105.0,1445.4 2105.5,1445.1 2106.0,1445.2 2106.5,1445.6 2107.0,1445.8 2107.5,1445.6 2108.0,1445.7 2108.5,1445.7 2109.0,1445.7 2109.5,1446.1 2110.0,1445.5 2110.5,1445.8 2111.0,1445.3 2111.5,1446.1 2112.0,1446.0 2112.5,1446.0 2113.0,1445.8 2113.5,1445.7 2114.0,1445.3 2114.5,1445.8 2115.0,1446.2 2115.5,1444.9 2116.0,1446.3 2116.5,1445.5 2117.0,1445.9 2117.5,1445.5 2118.0,1445.7 2118.5,1446.0 2119.0,1445.7 2119.5,1446.3 2120.0,1445.8 2120.5,1445.9 2121.0,1445.6 2121.5,1445.6 2122.0,1445.6 2122.5,1445.9 2123.0,1446.3 2123.5,1445.8 2124.0,1445.3 2124.5,1445.6 2125.0,1445.3 2125.5,1445.9 2126.0,1445.8 2126.5,1445.4 2127.0,1445.6 2127.5,1446.0 2128.0,1445.9 2128.5,1445.6 2129.0,1446.0 2129.5,1445.9 2130.0,1445.6 2130.5,1445.8 2131.0,1446.3 2131.5,1445.4 2132.0,1446.1 2132.5,1445.7 2133.0,1446.0 2133.5,1445.9 2134.0,1445.8 2134.5,1445.7 2135.0,1445.8 2135.5,1446.0 2136.0,1445.9 2136.5,1445.3 2137.0,1445.9 2137.5,1446.2 2138.0,1446.0 2138.5,1445.8 2139.0,1445.2 2139.5,1445.9 2140.0,1446.0 2140.5,1446.2 2141.0,1445.5 2141.5,1445.7 2142.0,1445.6 2142.5,1445.7 2143.0,1445.2 2143.5,1445.6 2144.0,1445.6 2144.5,1445.6 2145.0,1446.3 2145.5,1445.6 2146.0,1445.6 2146.5,1446.1 2147.0,1445.6 2147.5,1446.1 2148.0,1445.9 2148.5,1445.6 2149.0,1445.5 2149.5,1445.8 2150.0,1445.7 2150.5,1445.8 2151.0,1445.6 2151.5,1445.9 2152.0,1445.6 2152.5,1445.6 2153.0,1445.7 2153.5,1445.4 2154.0,1445.7 2154.5,1445.7 2155.0,1445.3 2155.5,1445.2 2156.0,1446.1 2156.5,1445.7 2157.0,1445.7 2157.5,1445.6 2158.0,1446.2 2158.5,1445.7 2159.0,1445.2 2159.5,1445.9 2160.0,1445.5 2160.5,1445.9 2161.0,1445.7 2161.5,1446.1 2162.0,1445.9 2162.5,1445.6 2163.0,1446.2 2163.5,1446.6 2164.0,1445.6 2164.5,1446.1 2165.0,1445.9 2165.5,1445.9 2166.0,1445.4 2166.5,1445.5 2167.0,1446.2 2167.5,1445.8 2168.0,1445.6 2168.5,1446.3 2169.0,1446.1 2169.5,1446.0 2170.0,1445.4 2170.5,1445.7 2171.0,1446.2 2171.5,1445.1 2172.0,1445.2 2172.5,1445.5 2173.0,1446.0 2173.5,1445.8 2174.0,1445.9 2174.5,1445.8 2175.0,1445.8 2175.5,1446.1 2176.0,1446.8 2176.5,1445.9 2177.0,1446.1 2177.5,1445.6 2178.0,1446.2 2178.5,1445.7 2179.0,1445.7 2179.5,1445.5 2180.0,1445.4 2180.5,1445.5 2181.0,1445.4 2181.5,1445.3 2182.0,1446.2 2182.5,1445.8 2183.0,1445.9 2183.5,1445.8 2184.0,1445.2 2184.5,1445.6 2185.0,1445.3 2185.5,1445.3 2186.0,1445.5 2186.5,1445.6 2187.0,1445.6 2187.5,1445.6 2188.0,1445.4 2188.5,1445.5 2189.0,1445.8 2189.5,1446.1 2190.0,1445.7 2190.5,1445.3 2191.0,1445.4 2191.5,1445.6 2192.0,1445.5 2192.5,1445.5 2193.0,1445.5 2193.5,1445.2 2194.0,1444.9 2194.5,1444.4 2195.0,1445.1 2195.5,1444.8 2196.0,1444.1 2196.5,1444.1 2197.0,1443.6 2197.5,1443.1 2198.0,1443.1 2198.5,1441.6 2199.0,1441.3 2199.5,1439.0 2200.0,1437.1 2200.5,1435.3 2201.0,1433.8 2201.5,1430.8 2202.0,1429.0 2202.5,1426.8 2203.0,1427.1 2203.5,1427.0 2204.0,1428.7 2204.5,1431.0 2205.0,1432.7 2205.5,1435.1 2206.0,1436.7 2206.5,1438.3 2207.0,1439.7 2207.5,1440.8 2208.0,1440.9 2208.5,1441.0 2209.0,1440.5 2209.5,1439.8 2210.0,1439.7 2210.5,1438.7 2211.0,1437.8 2211.5,1437.2 2212.0,1436.4 2212.5,1435.6 2213.0,1436.1 2213.5,1436.8 2214.0,1437.6 2214.5,1438.1 2215.0,1439.7 2215.5,1441.0 2216.0,1442.2 2216.5,1442.7 2217.0,1443.0 2217.5,1444.3 2218.0,1444.3 2218.5,1444.4 2219.0,1444.9 2219.5,1445.1"/>
<path class="c" stroke="#ff0000" shape-rendering="crispEdges" d="M201.0,988.4 201.5,988.0 202.0,988.1 202.5,988.9 203.0,988.3 203.5,988.7 204.0,987.3 204.5,988.1 205.0,988.2 205.5,988.1 206.0,987.2 206.5,988.1 207.0,989.3 207.5,988.6 208.0,988.1 208.5,988.0 209.0,987.6 209.5,988.5 210.0,987.9 210.5,988.2 211.0,988.9 211.5,989.0 212.0,988.8 212.5,987.4 213.0,988.1 213.5,989.1 214.0,987.7 214.5,989.1 215.0,988.4 215.5,989.0 216.0,988.1 216.5,987.7 217.0,987.8 217.5,989.3 218.0,988.2 218.5,987.7 219.0,988.9 219.5,987.5 220.0,988.3 220.5,988.6 221.0,988.6 221.5,988.6 222.0,988.3 222.5,986.9 223.0,988.5 223.5,988.4 224.0,988.3 224.5,988.7 225.0,988.9 225.5,988.5 226.0,989.3 226.5,989.7 227.0,988.6 227.5,988.2 228.0,987.6 228.5,988.7 229.0,987.3 229.5,989.4 230.0,989.0 230.5,988.1 231.0,988.8 231.5,987.9 232.0,987.7 232.5,988.8 233.0,987.8 233.5,988.5 234.0,988.3 234.5,989.3 235.0,988.6 235.5,989.3 236.0,988.9 236.5,987.9 237.0,987.7 237.5,987.1 238.0,988.4 238.5,986.7 239.0,987.9 239.5,987.0 240.0,988.0 240.5,988.8 241.0,987.9 241.5,988.1 242.0,988.1 242.5,988.5 243.0,987.5 243.5,988.4 244.0,988.3 244.5,987.8 245.0,987.8 245.5,989.1 246.0,988.8 246.5,988.6 247.0,987.9 247.5,988.2 248.0,987.6 248.5,987.3 249.0,988.1 249.5,988.0 250.0,987.6 250.5,987.6 251.0,988.6 251.5,988.1 252.0,987.4 252.5,989.6 253.0,987.3 253.5,988.5 254.0,987.8 254.5,988.8 255.0,988.4 255.5,989.0 256.0,988.3 256.5,987.9 257.0,989.2 257.5,988.3 258.0,988.2 258.5,988.3 259.0,987.9 259.5,988.6 260.0,989.3 260.5,989.2 261.0,988.5 261.5,988.7 262.0,988.8 262.5,988.0 263.0,989.2 263.5,988.5 264.0,987.3 264.5,988.7 265.0,987.8 265.5,988.5 266.0,988.7 266.5,988.1 267.0,988.5 267.5,989.1 268.0,987.5 268.5,987.2 269.0,988.3 269.5,988.2 270.0,989.5 270.5,988.9 271.0,988.6 271.5,988.3 272.0,987.2 272.5,987.5 273.0,988.1 273.5,988.4 274.0,988.0 274.5,988.4 275.0,988.7 275.5,987.9 276.0,988.0 276.5,987.7 277.0,989.0 277.5,987.1 278.0,988.6 278.5,988.7 279.0,987.1 279.5,988.0 280.0,988.9 280.5,987.7 281.0,987.9 281.5,988.2 282.0,989.0 282.5,988.6 283.0,987.8 283.5,987.4 284.0,987.3 284.5,988.4 285.0,986.9 285.5,987.8 286.0,988.5 286.5,987.5 287.0,988.0 287.5,988.1 288.0,988.6 288.5,987.3 289.0,988.2 289.5,988.1 290.0,988.2 290.5,987.2 291.0,988.4 291.5,987.6 292.0,988.0 292.5,987.5 293.0,989.2 293.5,988.0 294.0,989.3 294.5,987.6 295.0,987.8 295.5,988.8 296.0,987.7 296.5,988.2 297.0,988.6 297.5,987.7 298.0,987.5 298.5,987.7 299.0,988.4 299.5,988.1 300.0,988.5 300.5,987.6 301.0,987.5 301.5,987.0 302.0,987.5 302.5,987.3 303.0,987.5 303.5,987.0 304.0,987.1 304.5,987.3 305.0,988.0 305.5,987.2 306.0,987.0 306.5,987.9 307.0,988.1 307.5,987.0 308.0,987.0 308.5,986.0 309.0,986.1 309.5,986.9 310.0,987.7 310.5,987.9 311.0,987.2 311.5,986.3 312.0,986.8 312.5,985.5 313.0,986.2 313.5,985.4 314.0,985.9 314.5,986.6 315.0,986.8 315.5,985.5 316.0,985.3 316.5,983.9 317.0,984.1 317.5,985.1 318.0,984.5 318.5,983.8 319.0,983.1 319.5,983.2 320.0,981.4 320.5,980.6 321.0,981.4 321.5,978.1 322.0,977.3 322.5,974.9 323.0,973.3 323.5,968.6 324.0,963.2 324.5,955.7 325.0,945.9 325.5,930.9 326.0,912.8 326.5,892.4 327.0,869.1 327.5,847.9 328.0,832.1 328.5,826.6 329.0,830.9 329.5,839.8 330.0,851.2 330.5,863.7 331.0,878.3 331.5,897.0 332.0,914.6 332.5,930.3 333.0,943.8 333.5,953.5 334.0,962.1 334.5,967.0 335.0,972.1 335.5,973.6 336.0,975.0 336.5,977.4 337.0,980.9 337.5,980.0 338.0,980.9 338.5,981.8 339.0,982.0 339.5,982.8 340.0,983.1 340.5,984.6 341.0,984.4 341.5,984.1 342.0,984.6 342.5,984.7 343.0,983.9 343.5,985.3 344.0,984.4 344.5,985.3 345.0,985.0 345.5,985.5 346.0,985.8 346.5,985.4 347.0,984.7 347.5,984.8 348.0,985.3 348.5,984.6 349.0,984.6 349.5,984.6 350.0,984.3 350.5,984.6 351.0,983.7 351.5,983.7 352.0,982.8 352.5,981.7 353.0,982.5 353.5,981.8 354.0,979.9 354.5,979.5 355.0,977.9 355.5,975.5 356.0,975.0 356.5,971.2 357.0,970.1 357.5,968.2 358.0,964.7 358.5,963.6 359.0,959.8 359.5,958.3 360.0,955.1 360.5,953.6 361.0,951.4 361.5,951.5 362.0,949.6 362.5,949.5 363.0,949.2 363.5,949.0 364.0,948.9 364.5,949.4 365.0,949.9 365.5,949.9 366.0,949.8 366.5,949.5 367.0,950.3 367.5,949.9 368.0,951.3 368.5,951.0 369.0,952.5 369.5,952.9 370.0,951.3 370.5,948.9 371.0,945.5 371.5,937.9 372.0,927.9 372.5,914.4 373.0,898.0 373.5,881.0 374.0,865.5 374.5,856.4 374.9,852.5 375.0,853.5 375.5,858.4 376.0,865.8 376.5,874.3 377.0,884.3 377.5,897.1 378.0,910.3 378.5,923.8 379.0,937.8 379.5,947.7 380.0,956.7 380.5,962.4 381.0,966.9 381.5,972.4 382.0,975.8 382.5,975.6 383.0,978.1 383.5,979.8 384.0,980.5 384.5,981.2 385.0,981.8 385.5,981.8 386.0,983.4 386.5,983.7 387.0,983.7 387.5,982.5 388.0,985.0 388.5,984.3 389.0,984.8 389.5,985.7 390.0,985.5 390.5,984.9 391.0,985.6 391.5,985.5 392.0,984.9 392.5,985.3 393.0,984.3 393.5,984.4 394.0,985.5 394.5,986.2 395.0,984.8 395.5,986.1 396.0,985.4 396.5,986.4 397.0,985.1 397.5,986.9 398.0,985.4 398.5,985.0 399.0,985.2 399.5,983.9 400.0,985.0 400.5,984.5 401.0,984.8 401.5,984.1 402.0,982.6 402.5,982.4 403.0,983.3 403.5,982.7 404.0,983.6 404.5,982.2 405.0,982.7 405.5,981.9 406.0,982.4 406.5,981.0 407.0,980.4 407.5,979.0 408.0,979.0 408.5,978.2 409.0,976.7 409.5,975.8 410.0,973.3 410.5,971.9 411.0,970.0 411.5,966.8 412.0,963.9 412.5,958.3 413.0,950.0 413.5,938.4 414.0,921.9 414.5,896.8 415.0,862.7 415.5,817.4 416.0,764.2 416.5,704.0 417.0,647.2 417.5,606.4 418.0,589.7 418.5,600.8 419.0,624.1 419.5,651.9 420.0,680.2 420.5,712.7 421.0,752.0 421.5,792.7 422.0,834.2 422.5,871.4 423.0,900.7 423.5,921.8 424.0,939.3 424.5,950.8 425.0,957.6 425.5,963.6 426.0,968.0 426.5,970.7 427.0,974.0 427.5,975.2 428.0,976.8 428.5,977.2 429.0,978.0 429.5,979.3 430.0,981.2 430.5,982.2 431.0,981.3 431.5,982.2 432.0,981.4 432.5,984.0 433.0,982.9 433.5,984.5 434.0,985.0 434.5,983.9 435.0,984.4 435.5,985.5 436.0,986.1 436.5,985.3 437.0,985.1 437.5,986.1 438.0,986.8 438.5,985.6 439.0,985.9 439.5,987.2 440.0,986.7 440.5,986.3 441.0,986.8 441.5,987.2 442.0,987.6 442.5,987.3 443.0,987.2 443.5,986.3 444.0,987.6 444.5,987.7 445.0,987.6 445.5,987.5 446.0,987.7 446.5,988.2 447.0,987.5 447.5,987.1 448.0,988.3 448.5,987.6 449.0,987.7 449.5,988.2 450.0,987.8 450.5,988.0 451.0,987.4 451.5,988.8 452.0,987.4 452.5,988.9 453.0,987.5 453.5,987.8 454.0,988.0 454.5,988.8 455.0,988.4 455.5,988.1 456.0,987.6 456.5,988.9 457.0,988.4 457.5,988.6 458.0,988.3 458.5,988.2 459.0,988.8 459.5,988.7 460.0,989.1 460.5,988.6 461.0,987.7 461.5,989.0 462.0,988.6 462.5,988.5 463.0,986.9 463.5,988.1 464.0,988.7 464.5,988.3 465.0,988.8 465.5,989.0 466.0,988.7 466.5,988.2 467.0,989.0 467.5,988.9 468.0,988.6 468.5,987.7 469.0,988.1 469.5,989.2 470.0,988.6 470.5,987.8 471.0,988.7 471.5,988.8 472.0,989.2 472.5,989.1 473.0,989.1 473.5,988.4 474.0,987.9 474.5,988.5 475.0,989.6 475.5,988.0 476.0,989.4 476.5,988.1 477.0,988.2 477.5,989.0 478.0,988.5 478.5,988.8 479.0,988.3 479.5,989.0 480.0,989.4 480.5,988.1 481.0,989.3 481.5,989.2 482.0,989.4 482.5,987.7 483.0,989.5 483.5,988.3 484.0,988.9 484.5,988.8 485.0,988.4 485.5,988.5 486.0,988.6 486.5,989.1 487.0,989.4 487.5,988.9 488.0,989.5 488.5,989.1 489.0,989.7 489.5,988.3 490.0,989.1 490.5,989.0 491.0,989.1 491.5,989.3 492.0,989.5 492.5,989.2 493.0,989.4 493.5,988.9 494.0,989.0 494.5,988.8 495.0,989.7 495.5,989.5 496.0,989.8 496.5,988.9 497.0,989.0 497.5,990.5 498.0,989.7 498.5,988.3 499.0,989.6 499.5,989.3 500.0,989.0 500.5,989.0 501.0,988.7 501.5,988.9 502.0,988.7 502.5,988.5 503.0,989.0 503.5,988.7 504.0,989.6 504.5,989.8 505.0,989.1 505.5,989.0 506.0,989.6 506.5,989.1 507.0,990.3 507.5,987.7 508.0,987.9 508.5,988.6 509.0,989.5 509.5,989.7 510.0,989.0 510.5,989.2 511.0,989.1 511.5,989.5 512.0,990.4 512.5,988.0 513.0,990.5 513.5,989.8 514.0,989.1 514.5,989.5 515.0,989.3 515.5,989.5 516.0,989.5 516.5,989.7 517.0,988.7 517.5,989.6 518.0,988.9 518.5,989.1 519.0,989.7 519.5,989.1 520.0,989.5 520.5,989.5 521.0,989.4 521.5,988.6 522.0,989.6 522.5,989.4 523.0,990.6 523.5,988.7 524.0,989.9 524.5,989.1 525.0,989.2 525.5,990.3 526.0,989.3 526.5,989.8 527.0,989.4 527.5,988.9 528.0,989.2 528.5,989.1 529.0,989.2 529.5,990.4 530.0,989.6 530.5,988.4 531.0,990.4 531.5,989.6 532.0,989.9 532.5,990.2 533.0,988.9 533.5,989.6 534.0,989.3 534.5,989.2 535.0,989.2 535.5,989.5 536.0,990.0 536.5,989.8 537.0,989.6 537.5,990.1 538.0,988.1 538.5,989.4 539.0,989.6 539.5,989.6 540.0,990.2 540.5,989.5 541.0,990.2 541.5,989.3 542.0,989.8 542.5,989.5 543.0,989.3 543.5,989.7 544.0,989.8 544.5,989.0 545.0,990.0 545.5,989.3 546.0,989.5 546.5,988.0 547.0,989.4 547.5,988.4 548.0,989.9 548.5,989.0 549.0,989.2 549.5,989.4 550.0,988.7 550.5,989.5 551.0,988.8 551.5,989.4 552.0,989.9 552.5,990.2 553.0,990.3 553.5,989.4 554.0,989.0 554.5,989.8 555.0,990.3 555.5,989.0 556.0,990.2 556.5,989.4 557.0,988.1 557.5,989.5 558.0,990.5 558.5,989.9 559.0,990.1 559.5,989.7 560.0,988.6 560.5,988.2 561.0,988.9 561.5,989.3 562.0,989.0 562.5,989.1 563.0,989.9 563.5,990.3 564.0,988.6 564.5,988.9 565.0,989.5 565.5,989.4 566.0,988.2 566.5,991.1 567.0,989.9 567.5,989.7 568.0,988.5 568.5,989.7 569.0,988.9 569.5,989.8 570.0,989.7 570.5,989.6 571.0,989.8 571.5,989.2 572.0,989.7 572.5,988.2 573.0,990.0 573.5,989.5 574.0,990.9 574.5,989.6 575.0,988.3 575.5,990.4 576.0,989.2 576.5,989.0 577.0,989.5 577.5,990.3 578.0,990.6 578.5,989.4 579.0,989.7 579.5,989.7 580.0,989.2 580.5,989.3 581.0,989.5 581.5,989.6 582.0,990.2 582.5,988.5 583.0,989.9 583.5,989.8 584.0,990.3 584.5,989.4 585.0,989.4 585.5,989.7 586.0,989.3 586.5,989.3 587.0,989.2 587.5,989.2 588.0,989.0 588.5,989.3 589.0,989.2 589.5,989.2 590.0,988.9 590.5,990.1 591.0,989.8 591.5,989.6 592.0,989.0 592.5,990.0 593.0,989.5 593.5,989.6 594.0,989.7 594.5,989.6 595.0,990.2 595.5,989.2 596.0,989.3 596.5,989.7 597.0,989.5 597.5,989.9 598.0,990.1 598.5,990.4 599.0,990.2 599.5,989.5 600.0,989.5 600.5,989.4 601.0,990.3 601.5,989.5 602.0,989.2 602.5,989.1 603.0,990.1 603.5,989.2 604.0,988.2 604.5,990.0 605.0,989.8 605.5,990.1 606.0,990.2 606.5,989.9 607.0,989.9 607.5,989.7 608.0,989.2 608.5,988.5 609.0,988.6 609.5,989.9 610.0,990.1 610.5,989.7 611.0,989.3 611.5,990.0 612.0,989.7 612.5,989.7 613.0,989.5 613.5,989.1 614.0,989.1 614.5,989.9 615.0,990.6 615.5,990.6 616.0,989.6 616.5,989.9 617.0,989.6 617.5,989.8 618.0,989.9 618.5,990.2 619.0,989.1 619.5,990.7 620.0,989.6 620.5,989.2 621.0,990.9 621.5,989.2 622.0,989.7 622.5,989.3 623.0,990.3 623.5,988.3 624.0,989.9 624.5,988.9 625.0,990.5 625.5,990.8 626.0,990.2 626.5,989.3 627.0,990.3 627.5,990.9 628.0,989.9 628.5,989.5 629.0,990.5 629.5,989.0 630.0,989.6 630.5,989.7 631.0,989.8 631.5,990.3 632.0,989.6 632.5,989.1 633.0,989.0 633.5,989.6 634.0,990.0 634.5,990.2 635.0,990.1 635.5,989.0 636.0,990.0 636.5,989.4 637.0,990.4 637.5,989.6 638.0,989.6 638.5,989.4 639.0,990.3 639.5,989.7 640.0,991.2 640.5,990.4 641.0,989.1 641.5,989.7 642.0,990.3 642.5,990.2 643.0,990.1 643.5,989.9 644.0,988.9 644.5,988.9 645.0,990.2 645.5,989.4 646.0,989.8 646.5,990.1 647.0,988.7 647.5,988.7 648.0,990.0 648.5,989.4 649.0,989.6 649.5,990.4 650.0,989.6 650.5,989.7 651.0,989.9 651.5,988.8 652.0,990.7 652.5,990.0 653.0,989.4 653.5,990.3 654.0,989.2 654.5,989.4 655.0,989.1 655.5,989.6 656.0,989.3 656.5,989.9 657.0,989.4 657.5,989.9 658.0,990.0 658.5,989.9 659.0,989.9 659.5,989.8 660.0,989.3 660.5,988.7 661.0,989.9 661.5,989.0 662.0,989.9 662.5,989.7 663.0,989.7 663.5,989.7 664.0,990.0 664.5,989.2 665.0,989.9 665.5,990.3 666.0,990.1 666.5,990.3 667.0,989.6 667.5,989.7 668.0,990.7 668.5,990.0 669.0,989.8 669.5,990.2 670.0,989.2 670.5,989.6 671.0,989.9 671.5,989.6 672.0,990.5 672.5,989.9 673.0,990.1 673.5,989.2 674.0,989.7 674.5,989.6 675.0,989.9 675.5,989.9 676.0,989.6 676.5,989.9 677.0,990.7 677.5,989.6 678.0,989.3 678.5,990.3 679.0,990.4 679.5,989.7 680.0,990.1 680.5,988.5 681.0,989.8 681.5,989.5 682.0,990.7 682.5,989.7 683.0,990.5 683.5,989.4 684.0,989.4 684.5,989.2 685.0,988.9 685.5,989.2 686.0,990.1 686.5,988.7 687.0,989.5 687.5,990.0 688.0,989.6 688.5,989.7 689.0,989.6 689.5,989.7 690.0,988.4 690.5,990.1 691.0,989.5 691.5,989.0 692.0,989.1 692.5,989.2 693.0,989.6 693.5,988.6 694.0,988.5 694.5,988.5 695.0,989.6 695.5,988.6 696.0,989.1 696.5,988.4 697.0,988.9 697.5,988.6 698.0,988.5 698.5,989.4 699.0,988.8 699.5,988.1 700.0,989.8 700.5,987.9 701.0,987.7 701.5,987.3 702.0,988.8 702.5,987.8 703.0,987.6 703.5,987.5 704.0,986.4 704.5,986.0 705.0,985.5 705.5,983.6 706.0,982.3 706.5,980.1 707.0,977.8 707.5,975.9 708.0,972.4 708.5,968.9 709.0,964.1 709.5,960.7 710.0,956.9 710.5,953.5 711.0,950.2 711.5,947.0 712.0,944.4 712.5,943.1 713.0,942.3 713.2,942.5 713.5,941.2 714.0,943.4 714.5,945.0 715.0,946.1 715.5,946.7 716.0,947.7 716.5,949.0 717.0,950.1 717.5,949.4 718.0,947.5 718.5,945.6 719.0,945.8 719.5,945.1 720.0,941.3 720.5,940.3 721.0,939.5 721.5,939.2 721.6,939.5 722.0,938.4 722.5,940.1 723.0,941.1 723.5,943.8 724.0,946.0 724.5,949.1 725.0,951.0 725.5,954.4 726.0,958.1 726.5,961.7 727.0,965.0 727.5,967.9 728.0,971.3 728.5,973.4 729.0,977.2 729.5,978.5 730.0,979.8 730.5,982.1 731.0,982.4 731.5,984.4 732.0,984.9 732.5,986.6 733.0,986.5 733.5,986.3 734.0,987.4 734.5,987.3 735.0,987.8 735.5,986.0 736.0,987.5 736.5,987.6 737.0,988.6 737.5,987.4 738.0,988.2 738.5,988.0 739.0,987.4 739.5,987.8 740.0,988.4 740.5,988.1 741.0,988.1 741.5,988.1 742.0,988.2 742.5,988.3 743.0,988.1 743.5,987.4 744.0,988.0 744.5,988.1 745.0,988.9 745.5,987.5 746.0,988.8 746.5,987.6 747.0,988.6 747.5,986.6 748.0,987.5 748.5,986.2 749.0,986.5 749.5,986.8 750.0,987.0 750.5,986.1 751.0,986.2 751.5,985.1 752.0,985.7 752.5,983.8 753.0,984.1 753.5,982.9 754.0,980.2 754.5,979.5 755.0,977.4 755.5,976.6 756.0,974.2 756.5,973.1 757.0,970.3 757.5,968.6 758.0,967.0 758.5,966.5 759.0,966.2 759.5,966.0 760.0,966.5 760.5,967.5 761.0,968.0 761.5,968.7 762.0,969.4 762.5,970.4 763.0,971.0 763.5,971.9 764.0,971.7 764.5,970.3 765.0,970.0 765.5,967.8 766.0,967.0 766.5,963.8 767.0,962.9 767.5,960.0 768.0,957.8 768.5,955.5 769.0,953.1 769.5,952.2 770.0,951.2 770.4,951.4 770.5,951.3 771.0,952.1 771.5,952.8 772.0,953.5 772.5,956.5 773.0,957.8 773.5,960.4 774.0,963.2 774.5,965.0 775.0,967.4 775.5,969.9 776.0,970.7 776.5,971.7 777.0,972.3 777.5,974.8 778.0,973.0 778.5,972.6 779.0,971.4 779.5,970.1 780.0,966.8 780.5,963.6 781.0,960.2 781.5,955.8 782.0,950.9 782.5,945.9 783.0,942.2 783.5,937.7 784.0,935.4 784.5,932.4 785.0,931.8 785.5,933.2 786.0,933.1 786.5,936.4 787.0,938.0 787.5,940.5 788.0,944.2 788.5,947.5 789.0,950.6 789.5,955.2 790.0,959.8 790.5,963.3 791.0,966.5 791.5,969.3 792.0,972.3 792.5,975.0 793.0,976.7 793.5,978.7 794.0,980.4 794.5,980.3 795.0,982.0 795.5,982.9 796.0,983.1 796.5,983.4 797.0,984.9 797.5,984.4 798.0,984.6 798.5,984.6 799.0,984.8 799.5,984.9 800.0,985.1 800.5,984.5 801.0,984.4 801.5,984.9 802.0,985.0 802.5,984.9 803.0,985.5 803.5,985.0 804.0,985.2 804.5,984.8 805.0,983.4 805.5,984.5 806.0,984.7 806.5,983.8 807.0,983.3 807.5,982.4 808.0,982.6 808.5,981.4 809.0,980.4 809.5,980.6 810.0,980.1 810.5,978.5 811.0,977.3 811.5,975.5 812.0,974.7 812.5,971.7 813.0,968.0 813.5,963.5 814.0,957.5 814.5,949.3 815.0,936.5 815.5,920.6 816.0,901.2 816.5,876.7 817.0,848.7 817.5,821.4 818.0,797.1 818.5,782.4 818.8,780.1 819.0,781.0 819.5,791.1 820.0,805.5 820.5,820.5 821.0,831.6 821.5,840.0 822.0,846.0 822.5,853.5 823.0,865.6 823.5,881.5 824.0,897.8 824.5,914.4 825.0,929.5 825.5,942.2 826.0,951.9 826.5,959.7 827.0,966.0 827.5,970.9 828.0,973.4 828.5,974.9 829.0,978.0 829.5,979.2 830.0,979.9 830.5,980.8 831.0,980.5 831.5,982.4 832.0,983.3 832.5,984.2 833.0,984.5 833.5,984.4 834.0,985.1 834.5,985.7 835.0,986.3 835.5,986.4 836.0,986.9 836.5,985.8 837.0,987.1 837.5,987.3 838.0,986.9 838.5,987.6 839.0,987.4 839.5,987.2 840.0,987.3 840.5,988.3 841.0,988.4 841.5,988.8 842.0,988.7 842.5,988.7 843.0,988.0 843.5,988.5 844.0,988.6 844.5,989.8 845.0,988.4 845.5,988.3 846.0,988.5 846.5,989.5 847.0,988.8 847.5,989.5 848.0,988.9 848.5,989.7 849.0,988.5 849.5,989.1 850.0,989.6 850.5,989.3 851.0,989.0 851.5,990.2 852.0,988.8 852.5,989.1 853.0,990.1 853.5,990.4 854.0,989.6 854.5,989.0 855.0,989.0 855.5,989.3 856.0,989.7 856.5,990.4 857.0,990.2 857.5,990.3 858.0,989.6 858.5,990.2 859.0,990.2 859.5,990.3 860.0,989.9 860.5,989.7 861.0,990.5 861.5,990.7 862.0,989.8 862.5,990.1 863.0,990.5 863.5,990.8 864.0,990.9 864.5,990.0 865.0,990.7 865.5,989.5 866.0,989.0 866.5,989.9 867.0,990.3 867.5,989.4 868.0,990.0 868.5,990.2 869.0,990.1 869.5,990.3 870.0,990.7 870.5,990.0 871.0,990.0 871.5,990.5 872.0,990.7 872.5,990.0 873.0,990.9 873.5,990.6 874.0,990.1 874.5,990.2 875.0,989.9 875.5,990.6 876.0,990.3 876.5,991.3 877.0,989.0 877.5,989.7 878.0,990.1 878.5,990.6 879.0,990.1 879.5,990.0 880.0,990.5 880.5,990.1 881.0,990.5 881.5,990.8 882.0,990.8 882.5,989.6 883.0,990.0 883.5,990.6 884.0,990.3 884.5,990.0 885.0,990.7 885.5,990.4 886.0,990.6 886.5,990.9 887.0,990.2 887.5,990.9 888.0,990.5 888.5,990.6 889.0,990.9 889.5,989.7 890.0,989.6 890.5,989.9 891.0,990.9 891.5,990.5 892.0,990.2 892.5,990.0 893.0,989.7 893.5,990.6 894.0,990.5 894.5,990.7 895.0,990.9 895.5,990.6 896.0,991.2 896.5,990.3 897.0,991.2 897.5,990.7 898.0,990.3 898.5,990.6 899.0,991.6 899.5,989.9 900.0,990.2 900.5,990.3 901.0,990.6 901.5,990.6 902.0,991.5 902.5,990.5 903.0,990.9 903.5,990.3 904.0,990.0 904.5,990.5 905.0,990.5 905.5,990.9 906.0,991.2 906.5,990.4 907.0,991.1 907.5,990.1 908.0,991.4 908.5,989.9 909.0,990.4 909.5,990.7 910.0,990.4 910.5,990.1 911.0,990.9 911.5,990.1 912.0,991.1 912.5,989.9 913.0,991.1 913.5,991.0 914.0,990.9 914.5,991.1 915.0,990.5 915.5,990.6 916.0,991.2 916.5,990.1 917.0,990.5 917.5,990.5 918.0,990.5 918.5,990.5 919.0,989.5 919.5,990.6 920.0,990.8 920.5,991.2 921.0,991.0 921.5,990.4 922.0,990.5 922.5,990.2 923.0,990.5 923.5,990.4 924.0,991.2 924.5,990.9 925.0,991.0 925.5,990.5 926.0,990.6 926.5,990.9 927.0,990.3 927.5,990.9 928.0,991.1 928.5,990.4 929.0,990.7 929.5,990.3 930.0,991.5 930.5,990.9 931.0,991.2 931.5,990.6 932.0,990.3 932.5,990.7 933.0,991.4 933.5,991.5 934.0,991.1 934.5,990.7 935.0,990.9 935.5,991.2 936.0,990.2 936.5,991.2 937.0,990.3 937.5,990.9 938.0,991.1 938.5,990.9 939.0,990.8 939.5,991.4 940.0,990.5 940.5,990.6 941.0,990.3 941.5,990.8 942.0,991.1 942.5,990.7 943.0,989.8 943.5,991.0 944.0,991.0 944.5,990.3 945.0,990.6 945.5,990.8 946.0,990.4 946.5,990.9 947.0,990.8 947.5,990.2 948.0,989.4 948.5,990.3 949.0,991.4 949.5,991.3 950.0,990.6 950.5,990.2 951.0,991.4 951.5,991.1 952.0,991.3 952.5,991.6 953.0,991.0 953.5,990.8 954.0,990.4 954.5,990.8 955.0,990.3 955.5,991.3 956.0,990.6 956.5,991.5 957.0,990.6 957.5,991.0 958.0,990.4 958.5,991.2 959.0,990.4 959.5,991.4 960.0,991.0 960.5,989.9 961.0,990.1 961.5,990.9 962.0,990.7 962.5,991.7 963.0,990.3 963.5,990.6 964.0,990.7 964.5,990.9 965.0,991.6 965.5,990.7 966.0,990.0 966.5,991.5 967.0,990.9 967.5,990.0 968.0,990.4 968.5,990.6 969.0,990.8 969.5,991.1 970.0,990.6 970.5,990.5 971.0,990.3 971.5,990.7 972.0,990.8 972.5,991.0 973.0,989.7 973.5,990.3 974.0,991.0 974.5,991.5 975.0,991.2 975.5,989.6 976.0,989.8 976.5,991.0 977.0,990.7 977.5,990.7 978.0,991.6 978.5,990.2 979.0,991.3 979.5,990.8 980.0,990.4 980.5,989.7 981.0,990.1 981.5,991.4 982.0,990.7 982.5,991.1 983.0,991.0 983.5,990.6 984.0,991.1 984.5,990.8 985.0,990.6 985.5,990.5 986.0,990.3 986.5,990.8 987.0,990.6 987.5,991.2 988.0,990.5 988.5,990.2 989.0,989.7 989.5,991.0 990.0,991.8 990.5,990.6 991.0,989.6 991.5,991.0 992.0,990.3 992.5,990.9 993.0,990.7 993.5,990.9 994.0,990.6 994.5,990.4 995.0,991.0 995.5,990.4 996.0,991.1 996.5,990.2 997.0,990.5 997.5,990.1 998.0,990.9 998.5,990.1 999.0,990.0 999.5,990.8 1000.0,990.5 1000.5,990.3 1001.0,989.8 1001.5,990.2 1002.0,990.4 1002.5,990.5 1003.0,989.8 1003.5,990.3 1004.0,989.1 1004.5,990.0 1005.0,989.4 1005.5,990.1 1006.0,989.5 1006.5,990.6 1007.0,989.5 1007.5,989.4 1008.0,988.0 1008.5,988.3 1009.0,989.2 1009.5,988.2 1010.0,988.8 1010.5,987.6 1011.0,988.0 1011.5,987.0 1012.0,987.3 1012.5,987.1 1013.0,986.9 1013.5,985.8 1014.0,985.2 1014.5,985.7 1015.0,985.3 1015.5,985.3 1016.0,984.2 1016.5,984.9 1017.0,984.4 1017.5,983.9 1018.0,984.2 1018.5,984.9 1019.0,984.6 1019.5,984.7 1020.0,984.7 1020.5,984.5 1021.0,985.2 1021.5,984.6 1022.0,983.7 1022.5,983.4 1023.0,983.4 1023.5,983.0 1024.0,982.8 1024.5,980.3 1025.0,980.8 1025.5,979.8 1026.0,977.7 1026.5,977.0 1027.0,974.5 1027.5,973.3 1028.0,971.7 1028.5,971.4 1029.0,970.3 1029.5,969.7 1030.0,968.5 1030.5,969.2 1031.0,969.1 1031.5,970.3 1032.0,971.2 1032.5,972.4 1033.0,972.6 1033.5,973.8 1034.0,974.7 1034.5,975.5 1035.0,978.0 1035.5,978.7 1036.0,980.5 1036.5,981.5 1037.0,981.7 1037.5,983.1 1038.0,984.7 1038.5,985.7 1039.0,986.4 1039.5,986.7 1040.0,987.7 1040.5,987.3 1041.0,988.1 1041.5,988.0 1042.0,989.3 1042.5,989.2 1043.0,989.5 1043.5,989.2 1044.0,988.3 1044.5,989.2 1045.0,989.8 1045.5,989.8 1046.0,990.3 1046.5,990.4 1047.0,989.7 1047.5,990.4 1048.0,989.3 1048.5,990.4 1049.0,989.2 1049.5,990.4 1050.0,989.1 1050.5,990.5 1051.0,991.0 1051.5,990.2 1052.0,990.7 1052.5,990.9 1053.0,989.1 1053.5,989.5 1054.0,990.4 1054.5,989.9 1055.0,990.3 1055.5,991.8 1056.0,991.4 1056.5,990.8 1057.0,990.2 1057.5,990.8 1058.0,990.7 1058.5,990.5 1059.0,991.3 1059.5,989.6 1060.0,991.3 1060.5,990.4 1061.0,991.2 1061.5,990.5 1062.0,990.3 1062.5,990.3 1063.0,990.7 1063.5,990.8 1064.0,992.0 1064.5,991.4 1065.0,990.6 1065.5,990.0 1066.0,990.6 1066.5,990.9 1067.0,989.8 1067.5,990.6 1068.0,991.2 1068.5,990.3 1069.0,989.8 1069.5,990.9 1070.0,991.3 1070.5,990.4 1071.0,990.5 1071.5,991.0 1072.0,990.7 1072.5,990.0 1073.0,990.1 1073.5,990.2 1074.0,990.2 1074.5,990.6 1075.0,989.5 1075.5,990.1 1076.0,989.7 1076.5,988.7 1077.0,989.9 1077.5,989.5 1078.0,988.6 1078.5,988.2 1079.0,989.4 1079.5,989.5 1080.0,988.6 1080.5,988.3 1081.0,988.5 1081.5,987.7 1082.0,987.6 1082.5,988.1 1083.0,987.0 1083.5,987.9 1084.0,987.4 1084.5,987.8 1085.0,986.2 1085.5,987.7 1086.0,987.0 1086.5,987.3 1087.0,986.7 1087.5,986.7 1088.0,987.8 1088.5,987.6 1089.0,987.8 1089.5,988.0 1090.0,988.1 1090.5,987.3 1091.0,988.1 1091.5,988.2 1092.0,989.5 1092.5,989.4 1093.0,988.5 1093.5,988.4 1094.0,989.6 1094.5,989.7 1095.0,990.2 1095.5,989.2 1096.0,990.6 1096.5,990.0 1097.0,990.7 1097.5,990.3 1098.0,990.0 1098.5,989.9 1099.0,991.0 1099.5,988.9 1100.0,991.0 1100.5,990.8 1101.0,990.2 1101.5,990.9 1102.0,990.5 1102.5,990.0 1103.0,990.5 1103.5,990.9 1104.0,990.7 1104.5,990.3 1105.0,991.0 1105.5,991.0 1106.0,991.3 1106.5,990.8 1107.0,991.4 1107.5,990.3 1108.0,990.5 1108.5,990.0 1109.0,990.7 1109.5,990.7 1110.0,990.7 1110.5,990.1 1111.0,991.2 1111.5,989.9 1112.0,990.2 1112.5,989.2 1113.0,991.2 1113.5,991.0 1114.0,990.6 1114.5,990.8 1115.0,990.0 1115.5,990.1 1116.0,990.1 1116.5,990.8 1117.0,990.4 1117.5,990.7 1118.0,990.1 1118.5,989.9 1119.0,990.8 1119.5,990.7 1120.0,990.7 1120.5,990.2 1121.0,990.6 1121.5,989.7 1122.0,989.9 1122.5,990.6 1123.0,990.0 1123.5,989.8 1124.0,989.9 1124.5,991.1 1125.0,990.1 1125.5,990.4 1126.0,990.2 1126.5,991.4 1127.0,990.1 1127.5,990.6 1128.0,990.5 1128.5,990.2 1129.0,989.9 1129.5,989.1 1130.0,990.0 1130.5,990.7 1131.0,989.8 1131.5,990.5 1132.0,989.7 1132.5,989.6 1133.0,988.8 1133.5,988.8 1134.0,988.9 1134.5,988.9 1135.0,987.6 1135.5,987.0 1136.0,987.1 1136.5,986.4 1137.0,985.8 1137.5,985.2 1138.0,982.6 1138.5,981.7 1139.0,978.5 1139.5,975.1 1140.0,970.4 1140.5,967.6 1141.0,963.0 1141.5,957.9 1142.0,954.1 1142.5,951.3 1142.8,950.1 1143.0,950.7 1143.5,951.8 1144.0,954.4 1144.5,957.5 1145.0,960.3 1145.5,962.8 1146.0,964.5 1146.5,964.5 1147.0,965.5 1147.5,965.7 1148.0,967.0 1148.5,969.3 1149.0,971.4 1149.5,974.5 1150.0,976.8 1150.5,979.1 1151.0,981.3 1151.5,984.0 1152.0,984.9 1152.5,985.6 1153.0,986.8 1153.5,987.0 1154.0,987.7 1154.5,988.1 1155.0,987.8 1155.5,988.8 1156.0,989.3 1156.5,989.4 1157.0,989.3 1157.5,990.0 1158.0,989.2 1158.5,990.2 1159.0,990.3 1159.5,990.0 1160.0,990.7 1160.5,989.7 1161.0,990.2 1161.5,990.1 1162.0,989.9 1162.5,990.1 1163.0,990.5 1163.5,990.5 1164.0,990.7 1164.5,990.1 1165.0,990.4 1165.5,990.4 1166.0,990.2 1166.5,990.5 1167.0,989.6 1167.5,990.0 1168.0,990.4 1168.5,990.4 1169.0,990.9 1169.5,990.4 1170.0,991.4 1170.5,990.0 1171.0,991.5 1171.5,990.3 1172.0,990.2 1172.5,990.4 1173.0,990.4 1173.5,990.6 1174.0,990.5 1174.5,991.0 1175.0,991.1 1175.5,990.3 1176.0,991.3 1176.5,990.9 1177.0,990.8 1177.5,991.2 1178.0,990.8 1178.5,991.5 1179.0,990.3 1179.5,991.4 1180.0,990.6 1180.5,991.2 1181.0,990.6 1181.5,991.6 1182.0,991.0 1182.5,991.2 1183.0,990.4 1183.5,990.2 1184.0,991.0 1184.5,991.6 1185.0,991.0 1185.5,990.2 1186.0,991.7 1186.5,990.7 1187.0,991.2 1187.5,990.5 1188.0,990.6 1188.5,991.0 1189.0,989.7 1189.5,990.5 1190.0,990.7 1190.5,990.7 1191.0,990.2 1191.5,991.4 1192.0,990.8 1192.5,990.8 1193.0,990.1 1193.5,990.9 1194.0,991.2 1194.5,991.3 1195.0,991.2 1195.5,990.9 1196.0,990.8 1196.5,991.0 1197.0,991.2 1197.5,990.8 1198.0,990.8 1198.5,991.1 1199.0,990.8 1199.5,991.1 1200.0,991.0 1200.5,990.5 1201.0,991.6 1201.5,991.2 1202.0,990.5 1202.5,990.5 1203.0,990.7 1203.5,990.7 1204.0,990.5 1204.5,991.0 1205.0,990.8 1205.5,990.5 1206.0,991.6 1206.5,990.8 1207.0,991.1 1207.5,990.3 1208.0,990.5 1208.5,990.5 1209.0,991.4 1209.5,991.3 1210.0,990.8 1210.5,990.8 1211.0,991.1 1211.5,990.6 1212.0,990.8 1212.5,991.4 1213.0,990.5 1213.5,991.2 1214.0,990.9 1214.5,991.0 1215.0,990.9 1215.5,991.3 1216.0,991.3 1216.5,991.2 1217.0,990.2 1217.5,991.0 1218.0,991.5 1218.5,990.5 1219.0,990.3 1219.5,990.9 1220.0,991.3 1220.5,990.4 1221.0,991.1 1221.5,990.8 1222.0,990.9 1222.5,991.1 1223.0,990.9 1223.5,990.7 1224.0,991.0 1224.5,991.6 1225.0,991.2 1225.5,991.3 1226.0,990.5 1226.5,990.7 1227.0,990.4 1227.5,991.4 1228.0,991.4 1228.5,991.2 1229.0,991.3 1229.5,990.8 1230.0,990.8 1230.5,991.5 1231.0,990.8 1231.5,991.4 1232.0,991.7 1232.5,990.5 1233.0,990.6 1233.5,991.7 1234.0,991.4 1234.5,991.7 1235.0,991.7 1235.5,990.8 1236.0,991.9 1236.5,991.6 1237.0,991.4 1237.5,991.1 1238.0,990.8 1238.5,990.6 1239.0,990.3 1239.5,990.6 1240.0,990.6 1240.5,991.0 1241.0,990.7 1241.5,990.2 1242.0,991.0 1242.5,990.1 1243.0,990.8 1243.5,991.3 1244.0,990.3 1244.5,990.4 1245.0,990.9 1245.5,991.5 1246.0,990.9 1246.5,990.7 1247.0,991.1 1247.5,990.2 1248.0,990.3 1248.5,991.2 1249.0,991.3 1249.5,991.2 1250.0,991.0 1250.5,991.1 1251.0,990.1 1251.5,990.4 1252.0,990.7 1252.5,991.3 1253.0,991.0 1253.5,990.9 1254.0,990.4 1254.5,991.0 1255.0,991.1 1255.5,991.1 1256.0,990.8 1256.5,991.8 1257.0,990.4 1257.5,991.3 1258.0,990.3 1258.5,990.3 1259.0,991.2 1259.5,990.7 1260.0,990.5 1260.5,990.9 1261.0,992.0 1261.5,990.5 1262.0,990.7 1262.5,991.3 1263.0,990.5 1263.5,991.8 1264.0,990.2 1264.5,990.6 1265.0,991.1 1265.5,990.6 1266.0,990.4 1266.5,990.0 1267.0,990.5 1267.5,990.9 1268.0,990.4 1268.5,990.0 1269.0,991.0 1269.5,990.7 1270.0,990.5 1270.5,990.1 1271.0,989.7 1271.5,990.5 1272.0,990.0 1272.5,989.7 1273.0,989.7 1273.5,989.8 1274.0,989.9 1274.5,989.4 1275.0,989.2 1275.5,988.7 1276.0,989.0 1276.5,988.9 1277.0,989.0 1277.5,988.7 1278.0,988.3 1278.5,988.4 1279.0,988.6 1279.5,988.2 1280.0,988.0 1280.5,987.9 1281.0,987.7 1281.5,987.9 1282.0,988.0 1282.5,987.5 1283.0,987.5 1283.5,987.7 1284.0,987.8 1284.5,988.1 1285.0,986.9 1285.5,987.8 1286.0,987.2 1286.5,987.7 1287.0,987.8 1287.5,988.2 1288.0,987.2 1288.5,987.9 1289.0,986.4 1289.5,987.4 1290.0,986.4 1290.5,986.9 1291.0,986.6 1291.5,986.2 1292.0,986.6 1292.5,985.8 1293.0,985.4 1293.5,985.0 1294.0,984.6 1294.5,984.4 1295.0,983.3 1295.5,982.3 1296.0,981.1 1296.5,981.2 1297.0,980.2 1297.5,979.5 1298.0,978.2 1298.5,978.4 1299.0,977.6 1299.5,978.1 1300.0,976.8 1300.5,977.4 1301.0,978.0 1301.5,977.5 1302.0,978.0 1302.5,978.3 1303.0,978.8 1303.5,979.8 1304.0,980.0 1304.5,980.0 1305.0,982.2 1305.5,981.4 1306.0,982.9 1306.5,983.2 1307.0,984.1 1307.5,984.8 1308.0,985.6 1308.5,986.2 1309.0,987.2 1309.5,986.7 1310.0,986.9 1310.5,987.2 1311.0,987.4 1311.5,988.9 1312.0,988.2 1312.5,988.5 1313.0,989.5 1313.5,989.4 1314.0,989.8 1314.5,988.7 1315.0,989.4 1315.5,989.4 1316.0,990.1 1316.5,990.2 1317.0,990.4 1317.5,990.8 1318.0,991.8 1318.5,990.1 1319.0,990.7 1319.5,990.8 1320.0,990.4 1320.5,990.0 1321.0,990.9 1321.5,990.9 1322.0,990.8 1322.5,990.2 1323.0,989.6 1323.5,990.1 1324.0,991.1 1324.5,991.1 1325.0,990.2 1325.5,990.7 1326.0,991.2 1326.5,991.2 1327.0,990.2 1327.5,990.6 1328.0,990.6 1328.5,990.2 1329.0,991.4 1329.5,989.9 1330.0,990.8 1330.5,991.1 1331.0,990.9 1331.5,991.0 1332.0,989.7 1332.5,990.7 1333.0,990.8 1333.5,990.8 1334.0,990.1 1334.5,990.6 1335.0,990.3 1335.5,991.2 1336.0,990.4 1336.5,990.6 1337.0,990.6 1337.5,990.5 1338.0,991.3 1338.5,991.2 1339.0,990.8 1339.5,990.4 1340.0,990.4 1340.5,989.8 1341.0,990.6 1341.5,990.7 1342.0,990.4 1342.5,990.1 1343.0,991.0 1343.5,990.8 1344.0,990.5 1344.5,991.1 1345.0,990.5 1345.5,991.1 1346.0,990.3 1346.5,990.4 1347.0,990.0 1347.5,990.6 1348.0,990.0 1348.5,990.3 1349.0,990.2 1349.5,989.7 1350.0,991.0 1350.5,990.4 1351.0,989.8 1351.5,990.2 1352.0,989.9 1352.5,989.5 1353.0,990.3 1353.5,989.8 1354.0,989.6 1354.5,989.4 1355.0,989.4 1355.5,989.2 1356.0,988.8 1356.5,988.6 1357.0,988.4 1357.5,987.4 1358.0,987.7 1358.5,987.9 1359.0,987.6 1359.5,986.5 1360.0,985.5 1360.5,985.4 1361.0,983.6 1361.5,982.1 1362.0,980.0 1362.5,977.0 1363.0,975.0 1363.5,969.5 1364.0,962.3 1364.5,955.8 1365.0,947.1 1365.5,939.3 1366.0,930.4 1366.5,924.3 1367.0,922.6 1367.5,925.0 1368.0,929.4 1368.5,936.6 1369.0,943.0 1369.5,949.3 1370.0,952.8 1370.5,954.6 1371.0,954.4 1371.5,954.3 1372.0,952.2 1372.5,952.0 1373.0,952.8 1373.5,954.5 1374.0,959.1 1374.5,964.0 1375.0,968.2 1375.5,972.8 1376.0,976.6 1376.5,978.7 1377.0,981.6 1377.5,983.6 1378.0,984.5 1378.5,985.4 1379.0,985.8 1379.5,987.0 1380.0,987.5 1380.5,987.7 1381.0,988.6 1381.5,988.3 1382.0,988.3 1382.5,989.4 1383.0,989.1 1383.5,989.4 1384.0,989.6 1384.5,988.9 1385.0,988.8 1385.5,990.0 1386.0,988.6 1386.5,989.2 1387.0,990.1 1387.5,989.2 1388.0,989.9 1388.5,989.2 1389.0,990.6 1389.5,989.6 1390.0,989.9 1390.5,989.0 1391.0,989.9 1391.5,989.8 1392.0,989.3 1392.5,989.7 1393.0,989.2 1393.5,989.4 1394.0,988.9 1394.5,988.7 1395.0,988.1 1395.5,988.6 1396.0,987.9 1396.5,987.3 1397.0,987.8 1397.5,986.5 1398.0,985.7 1398.5,984.6 1399.0,984.4 1399.5,983.1 1400.0,981.6 1400.5,980.8 1401.0,980.1 1401.5,978.9 1402.0,978.6 1402.5,977.9 1403.0,978.0 1403.4,976.7 1403.5,977.0 1404.0,977.1 1404.5,977.4 1405.0,977.9 1405.5,978.3 1406.0,979.3 1406.5,978.8 1407.0,979.8 1407.5,980.5 1408.0,981.0 1408.5,981.0 1409.0,981.7 1409.5,982.1 1410.0,982.9 1410.5,983.3 1411.0,984.3 1411.5,985.2 1412.0,986.2 1412.5,985.8 1413.0,986.8 1413.5,987.0 1414.0,987.5 1414.5,987.5 1415.0,988.0 1415.5,988.4 1416.0,988.4 1416.5,988.3 1417.0,989.1 1417.5,988.6 1418.0,988.5 1418.5,988.5 1419.0,988.4 1419.5,988.0 1420.0,988.4 1420.5,987.9 1421.0,987.3 1421.5,987.9 1422.0,986.9 1422.5,985.9 1423.0,985.7 1423.5,984.5 1424.0,983.5 1424.5,981.1 1425.0,979.1 1425.5,975.7 1426.0,972.3 1426.5,968.8 1427.0,963.9 1427.5,960.1 1428.0,954.9 1428.5,952.2 1429.0,950.5 1429.5,952.5 1430.0,954.5 1430.5,957.3 1431.0,961.6 1431.5,964.3 1432.0,967.7 1432.5,968.7 1433.0,968.4 1433.5,968.9 1434.0,968.3 1434.5,967.6 1435.0,967.8 1435.5,968.9 1436.0,970.5 1436.5,973.4 1437.0,975.7 1437.5,978.3 1438.0,980.5 1438.5,982.2 1439.0,984.9 1439.5,985.5 1440.0,986.7 1440.5,988.3 1441.0,987.8 1441.5,988.0 1442.0,987.9 1442.5,988.3 1443.0,989.4 1443.5,988.7 1444.0,988.6 1444.5,989.6 1445.0,989.7 1445.5,990.5 1446.0,989.3 1446.5,990.4 1447.0,989.1 1447.5,990.7 1448.0,990.3 1448.5,989.9 1449.0,990.8 1449.5,990.5 1450.0,990.7 1450.5,990.5 1451.0,991.0 1451.5,990.8 1452.0,990.2 1452.5,990.2 1453.0,990.3 1453.5,991.0 1454.0,990.9 1454.5,990.8 1455.0,990.6 1455.5,990.5 1456.0,990.9 1456.5,991.1 1457.0,991.1 1457.5,991.5 1458.0,991.5 1458.5,990.7 1459.0,991.9 1459.5,991.5 1460.0,991.0 1460.5,991.1 1461.0,991.1 1461.5,990.7 1462.0,990.7 1462.5,991.0 1463.0,990.8 1463.5,989.8 1464.0,991.2 1464.5,990.2 1465.0,991.1 1465.5,990.9 1466.0,990.7 1466.5,991.3 1467.0,990.7 1467.5,990.6 1468.0,991.1 1468.5,991.1 1469.0,990.8 1469.5,990.7 1470.0,990.7 1470.5,991.2 1471.0,991.2 1471.5,991.4 1472.0,991.0 1472.5,990.7 1473.0,991.4 1473.5,992.1 1474.0,991.7 1474.5,990.7 1475.0,991.4 1475.5,991.0 1476.0,991.0 1476.5,991.0 1477.0,990.8 1477.5,990.5 1478.0,991.3 1478.5,990.7 1479.0,990.9 1479.5,991.0 1480.0,991.1 1480.5,990.9 1481.0,991.1 1481.5,990.9 1482.0,991.2 1482.5,991.3 1483.0,991.7 1483.5,991.4 1484.0,990.9 1484.5,991.4 1485.0,991.5 1485.5,990.9 1486.0,990.9 1486.5,990.2 1487.0,991.7 1487.5,991.2 1488.0,991.7 1488.5,990.5 1489.0,990.2 1489.5,991.3 1490.0,990.8 1490.5,991.2 1491.0,990.8 1491.5,991.5 1492.0,991.0 1492.5,991.1 1493.0,991.3 1493.5,991.0 1494.0,991.0 1494.5,991.6 1495.0,991.1 1495.5,991.2 1496.0,991.3 1496.5,991.2 1497.0,991.3 1497.5,991.9 1498.0,991.6 1498.5,990.6 1499.0,990.2 1499.5,990.8 1500.0,990.2 1500.5,990.0 1501.0,990.7 1501.5,990.7 1502.0,991.2 1502.5,991.3 1503.0,992.0 1503.5,990.8 1504.0,990.9 1504.5,991.2 1505.0,991.5 1505.5,991.0 1506.0,990.7 1506.5,990.0 1507.0,991.4 1507.5,991.0 1508.0,991.7 1508.5,991.8 1509.0,991.8 1509.5,991.2 1510.0,991.4 1510.5,990.5 1511.0,991.2 1511.5,990.9 1512.0,991.4 1512.5,990.8 1513.0,990.9 1513.5,990.7 1514.0,991.7 1514.5,991.0 1515.0,990.6 1515.5,990.8 1516.0,990.4 1516.5,991.4 1517.0,991.4 1517.5,991.0 1518.0,991.0 1518.5,990.3 1519.0,991.5 1519.5,990.9 1520.0,991.7 1520.5,990.6 1521.0,991.0 1521.5,991.2 1522.0,991.1 1522.5,990.7 1523.0,991.2 1523.5,990.9 1524.0,990.7 1524.5,990.2 1525.0,991.1 1525.5,990.6 1526.0,990.7 1526.5,990.5 1527.0,990.6 1527.5,990.2 1528.0,991.3 1528.5,991.0 1529.0,990.4 1529.5,990.1 1530.0,990.1 1530.5,989.4 1531.0,989.8 1531.5,989.3 1532.0,988.9 1532.5,988.5 1533.0,988.1 1533.5,988.2 1534.0,987.5 1534.5,986.7 1535.0,986.7 1535.5,986.0 1536.0,985.3 1536.5,985.3 1537.0,984.0 1537.5,983.0 1538.0,982.9 1538.5,981.9 1539.0,982.2 1539.5,981.7 1540.0,981.1 1540.5,981.2 1541.0,980.8 1541.5,980.9 1542.0,980.5 1542.5,980.5 1543.0,981.4 1543.5,982.5 1544.0,981.5 1544.5,982.1 1545.0,982.0 1545.5,982.4 1546.0,981.9 1546.5,982.0 1547.0,982.1 1547.5,981.4 1548.0,981.2 1548.5,980.8 1549.0,980.7 1549.5,980.2 1550.0,979.8 1550.5,979.2 1551.0,978.1 1551.5,977.9 1552.0,977.9 1552.5,977.4 1553.0,977.5 1553.5,976.6 1554.0,976.7 1554.5,976.7 1555.0,977.3 1555.5,977.1 1556.0,977.2 1556.5,978.0 1557.0,978.0 1557.5,978.1 1558.0,979.1 1558.5,979.3 1559.0,980.0 1559.5,980.5 1560.0,980.6 1560.5,981.2 1561.0,981.8 1561.5,982.7 1562.0,983.0 1562.5,984.0 1563.0,984.0 1563.5,984.7 1564.0,985.7 1564.5,985.2 1565.0,985.7 1565.5,986.9 1566.0,987.4 1566.5,987.8 1567.0,988.1 1567.5,988.5 1568.0,988.2 1568.5,988.7 1569.0,989.1 1569.5,988.7 1570.0,988.8 1570.5,989.3 1571.0,990.0 1571.5,990.1 1572.0,989.4 1572.5,989.8 1573.0,989.9 1573.5,990.2 1574.0,990.4 1574.5,990.3 1575.0,990.1 1575.5,990.9 1576.0,990.9 1576.5,990.2 1577.0,990.5 1577.5,991.0 1578.0,990.8 1578.5,990.9 1579.0,990.6 1579.5,991.3 1580.0,990.4 1580.5,991.1 1581.0,991.5 1581.5,990.6 1582.0,991.4 1582.5,991.2 1583.0,990.7 1583.5,991.0 1584.0,991.5 1584.5,990.8 1585.0,990.8 1585.5,989.9 1586.0,990.4 1586.5,990.9 1587.0,991.0 1587.5,991.2 1588.0,991.4 1588.5,991.8 1589.0,991.3 1589.5,992.2 1590.0,991.4 1590.5,991.6 1591.0,990.8 1591.5,991.3 1592.0,991.5 1592.5,991.5 1593.0,991.0 1593.5,991.1 1594.0,990.7 1594.5,991.3 1595.0,990.8 1595.5,991.5 1596.0,991.3 1596.5,991.4 1597.0,991.4 1597.5,991.3 1598.0,991.5 1598.5,991.2 1599.0,990.6 1599.5,991.7 1600.0,990.9 1600.5,991.5 1601.0,991.4 1601.5,991.4 1602.0,991.3 1602.5,991.3 1603.0,991.3 1603.5,991.2 1604.0,991.2 1604.5,991.3 1605.0,991.5 1605.5,991.1 1606.0,991.3 1606.5,990.7 1607.0,990.9 1607.5,990.6 1608.0,991.1 1608.5,991.4 1609.0,991.5 1609.5,990.7 1610.0,991.6 1610.5,990.9 1611.0,991.1 1611.5,991.1 1612.0,991.8 1612.5,991.3 1613.0,992.0 1613.5,991.6 1614.0,991.2 1614.5,991.4 1615.0,991.8 1615.5,990.9 1616.0,991.1 1616.5,991.3 1617.0,991.2 1617.5,991.2 1618.0,991.9 1618.5,991.3 1619.0,991.2 1619.5,991.1 1620.0,990.8 1620.5,991.6 1621.0,991.0 1621.5,992.6 1622.0,991.4 1622.5,991.1 1623.0,990.8 1623.5,991.1 1624.0,991.4 1624.5,991.1 1625.0,991.5 1625.5,991.5 1626.0,991.5 1626.5,991.5 1627.0,991.3 1627.5,991.0 1628.0,990.8 1628.5,990.7 1629.0,991.1 1629.5,991.5 1630.0,991.3 1630.5,990.9 1631.0,991.6 1631.5,990.9 1632.0,990.8 1632.5,990.9 1633.0,991.0 1633.5,991.2 1634.0,990.8 1634.5,990.7 1635.0,991.4 1635.5,991.3 1636.0,991.4 1636.5,991.5 1637.0,991.2 1637.5,991.9 1638.0,991.1 1638.5,991.2 1639.0,991.7 1639.5,991.4 1640.0,991.1 1640.5,991.2 1641.0,990.8 1641.5,991.4 1642.0,991.1 1642.5,991.3 1643.0,991.7 1643.5,991.5 1644.0,991.3 1644.5,991.3 1645.0,991.2 1645.5,991.8 1646.0,990.4 1646.5,991.0 1647.0,990.8 1647.5,991.3 1648.0,991.0 1648.5,991.1 1649.0,991.8 1649.5,991.2 1650.0,991.4 1650.5,990.9 1651.0,990.8 1651.5,990.6 1652.0,991.5 1652.5,990.6 1653.0,990.8 1653.5,991.8 1654.0,991.1 1654.5,990.9 1655.0,990.8 1655.5,990.4 1656.0,991.0 1656.5,991.2 1657.0,990.4 1657.5,990.5 1658.0,991.3 1658.5,990.5 1659.0,990.8 1659.5,991.3 1660.0,990.1 1660.5,990.3 1661.0,989.9 1661.5,989.3 1662.0,990.4 1662.5,990.0 1663.0,989.4 1663.5,989.4 1664.0,988.8 1664.5,988.1 1665.0,988.0 1665.5,987.4 1666.0,986.8 1666.5,986.9 1667.0,985.6 1667.5,984.7 1668.0,984.4 1668.5,983.8 1669.0,983.4 1669.5,982.2 1670.0,980.9 1670.5,980.5 1671.0,980.7 1671.5,979.9 1672.0,980.2 1672.5,980.7 1673.0,979.7 1673.5,980.0 1674.0,980.8 1674.5,981.3 1675.0,981.9 1675.5,981.3 1676.0,982.4 1676.5,982.4 1677.0,982.1 1677.5,982.9 1678.0,983.4 1678.5,984.1 1679.0,983.6 1679.5,984.5 1680.0,984.1 1680.5,985.4 1681.0,985.5 1681.5,986.5 1682.0,985.8 1682.5,986.3 1683.0,986.4 1683.5,987.9 1684.0,987.4 1684.5,987.0 1685.0,987.6 1685.5,988.2 1686.0,988.1 1686.5,988.0 1687.0,987.2 1687.5,987.4 1688.0,986.4 1688.5,986.1 1689.0,986.3 1689.5,985.7 1690.0,984.4 1690.5,982.9 1691.0,982.0 1691.5,981.0 1692.0,980.3 1692.5,977.9 1693.0,976.0 1693.5,974.5 1694.0,973.1 1694.5,972.0 1695.0,971.1 1695.5,971.4 1695.8,970.4 1696.0,969.8 1696.5,971.3 1697.0,971.4 1697.5,972.2 1698.0,973.3 1698.5,974.5 1699.0,975.3 1699.5,976.1 1700.0,976.4 1700.5,977.0 1701.0,976.9 1701.5,977.1 1702.0,977.6 1702.5,978.0 1703.0,978.1 1703.5,979.0 1704.0,980.7 1704.5,981.6 1705.0,982.7 1705.5,983.5 1706.0,984.4 1706.5,985.5 1707.0,985.9 1707.5,986.3 1708.0,987.0 1708.5,987.7 1709.0,988.3 1709.5,988.5 1710.0,988.7 1710.5,989.1 1711.0,989.1 1711.5,990.4 1712.0,990.0 1712.5,989.2 1713.0,990.4 1713.5,989.9 1714.0,990.2 1714.5,990.3 1715.0,990.7 1715.5,990.5 1716.0,990.6 1716.5,990.5 1717.0,991.5 1717.5,990.7 1718.0,990.4 1718.5,990.3 1719.0,990.8 1719.5,990.7 1720.0,990.9 1720.5,991.0 1721.0,990.5 1721.5,990.9 1722.0,990.7 1722.5,990.7 1723.0,990.6 1723.5,990.9 1724.0,990.8 1724.5,990.8 1725.0,990.9 1725.5,990.6 1726.0,991.6 1726.5,991.3 1727.0,991.0 1727.5,991.2 1728.0,990.8 1728.5,991.2 1729.0,990.6 1729.5,991.1 1730.0,991.2 1730.5,991.0 1731.0,991.5 1731.5,990.9 1732.0,991.3 1732.5,991.4 1733.0,991.4 1733.5,991.2 1734.0,991.8 1734.5,991.5 1735.0,991.5 1735.5,991.0 1736.0,991.3 1736.5,991.1 1737.0,992.0 1737.5,991.4 1738.0,991.0 1738.5,991.6 1739.0,991.7 1739.5,991.1 1740.0,991.3 1740.5,992.2 1741.0,991.3 1741.5,991.4 1742.0,992.4 1742.5,991.3 1743.0,990.9 1743.5,991.0 1744.0,991.4 1744.5,991.6 1745.0,991.0 1745.5,990.6 1746.0,991.5 1746.5,991.2 1747.0,991.1 1747.5,991.0 1748.0,991.7 1748.5,991.2 1749.0,990.8 1749.5,990.9 1750.0,991.1 1750.5,990.8 1751.0,991.1 1751.5,991.7 1752.0,991.6 1752.5,991.7 1753.0,991.6 1753.5,991.3 1754.0,991.4 1754.5,990.7 1755.0,991.6 1755.5,991.5 1756.0,991.4 1756.5,991.4 1757.0,990.9 1757.5,991.1 1758.0,990.7 1758.5,991.1 1759.0,991.2 1759.5,991.0 1760.0,991.7 1760.5,990.9 1761.0,991.3 1761.5,991.3 1762.0,991.2 1762.5,991.4 1763.0,991.3 1763.5,991.1 1764.0,991.6 1764.5,991.1 1765.0,991.4 1765.5,990.8 1766.0,990.8 1766.5,991.2 1767.0,991.9 1767.5,990.6 1768.0,990.6 1768.5,990.8 1769.0,990.9 1769.5,991.0 1770.0,991.4 1770.5,990.9 1771.0,991.1 1771.5,990.9 1772.0,990.7 1772.5,990.6 1773.0,990.9 1773.5,990.8 1774.0,991.1 1774.5,990.6 1775.0,990.4 1775.5,990.0 1776.0,990.0 1776.5,990.3 1777.0,990.1 1777.5,990.4 1778.0,989.4 1778.5,989.6 1779.0,989.1 1779.5,988.1 1780.0,988.2 1780.5,988.3 1781.0,987.7 1781.5,987.2 1782.0,987.4 1782.5,986.5 1783.0,986.2 1783.5,985.9 1784.0,984.9 1784.5,984.8 1785.0,983.7 1785.5,983.1 1786.0,983.5 1786.5,983.2 1787.0,982.6 1787.5,981.8 1788.0,981.7 1788.5,981.4 1789.0,981.4 1789.5,981.8 1790.0,981.7 1790.5,982.4 1791.0,981.6 1791.5,982.2 1792.0,982.2 1792.5,982.4 1793.0,983.7 1793.5,983.9 1794.0,983.7 1794.5,984.0 1795.0,984.4 1795.5,984.5 1796.0,983.7 1796.5,984.4 1797.0,985.7 1797.5,985.0 1798.0,986.8 1798.5,986.9 1799.0,987.1 1799.5,987.5 1800.0,988.0 1800.5,987.9 1801.0,989.0 1801.5,988.6 1802.0,988.6 1802.5,989.8 1803.0,989.5 1803.5,989.7 1804.0,990.2 1804.5,990.7 1805.0,990.1 1805.5,990.3 1806.0,989.9 1806.5,990.5 1807.0,991.2 1807.5,990.4 1808.0,990.4 1808.5,990.2 1809.0,990.4 1809.5,990.4 1810.0,990.9 1810.5,991.1 1811.0,990.3 1811.5,991.2 1812.0,991.5 1812.5,991.4 1813.0,990.8 1813.5,991.4 1814.0,991.0 1814.5,990.8 1815.0,990.7 1815.5,990.7 1816.0,991.1 1816.5,991.4 1817.0,990.6 1817.5,990.5 1818.0,991.7 1818.5,990.9 1819.0,992.1 1819.5,991.4 1820.0,990.8 1820.5,991.6 1821.0,991.7 1821.5,990.7 1822.0,991.2 1822.5,991.8 1823.0,990.8 1823.5,991.5 1824.0,991.5 1824.5,992.1 1825.0,991.8 1825.5,991.2 1826.0,990.9 1826.5,991.3 1827.0,991.4 1827.5,991.4 1828.0,991.2 1828.5,991.1 1829.0,991.9 1829.5,991.3 1830.0,991.1 1830.5,991.5 1831.0,991.5 1831.5,991.4 1832.0,991.8 1832.5,991.1 1833.0,991.5 1833.5,991.8 1834.0,991.3 1834.5,991.5 1835.0,991.7 1835.5,991.6 1836.0,991.4 1836.5,991.0 1837.0,991.1 1837.5,991.5 1838.0,991.3 1838.5,991.3 1839.0,991.3 1839.5,990.8 1840.0,991.7 1840.5,991.1 1841.0,992.0 1841.5,992.4 1842.0,991.7 1842.5,991.6 1843.0,991.2 1843.5,991.1 1844.0,991.3 1844.5,991.8 1845.0,991.5 1845.5,990.9 1846.0,991.7 1846.5,991.3 1847.0,991.7 1847.5,991.5 1848.0,991.2 1848.5,991.3 1849.0,991.7 1849.5,991.2 1850.0,991.9 1850.5,991.2 1851.0,991.9 1851.5,991.0 1852.0,991.1 1852.5,991.6 1853.0,992.0 1853.5,991.3 1854.0,991.7 1854.5,991.1 1855.0,991.1 1855.5,991.4 1856.0,992.2 1856.5,991.3 1857.0,990.8 1857.5,990.5 1858.0,991.4 1858.5,991.6 1859.0,991.3 1859.5,991.4 1860.0,991.1 1860.5,991.8 1861.0,991.5 1861.5,990.9 1862.0,991.1 1862.5,991.8 1863.0,991.3 1863.5,990.5 1864.0,991.2 1864.5,991.1 1865.0,990.3 1865.5,991.4 1866.0,991.7 1866.5,991.1 1867.0,990.9 1867.5,991.1 1868.0,991.0 1868.5,991.2 1869.0,991.4 1869.5,990.6 1870.0,991.0 1870.5,991.8 1871.0,991.1 1871.5,991.1 1872.0,991.2 1872.5,990.8 1873.0,990.5 1873.5,991.8 1874.0,991.0 1874.5,990.6 1875.0,991.2 1875.5,990.7 1876.0,990.5 1876.5,990.6 1877.0,990.3 1877.5,990.3 1878.0,991.0 1878.5,990.6 1879.0,990.4 1879.5,990.9 1880.0,990.7 1880.5,990.2 1881.0,989.7 1881.5,990.0 1882.0,990.5 1882.5,989.6 1883.0,990.6 1883.5,989.6 1884.0,989.0 1884.5,989.2 1885.0,989.6 1885.5,988.7 1886.0,988.7 1886.5,988.5 1887.0,987.7 1887.5,987.8 1888.0,987.3 1888.5,986.3 1889.0,984.4 1889.5,983.7 1890.0,982.0 1890.5,979.6 1891.0,976.8 1891.5,972.3 1892.0,967.3 1892.5,960.9 1893.0,954.8 1893.5,949.1 1894.0,942.3 1894.5,938.2 1895.0,936.0 1895.5,937.8 1896.0,941.5 1896.5,947.6 1897.0,953.4 1897.5,959.1 1898.0,963.3 1898.5,967.4 1899.0,970.2 1899.5,970.0 1900.0,971.0 1900.5,970.2 1901.0,968.8 1901.5,966.5 1902.0,964.2 1902.5,962.3 1903.0,961.9 1903.5,962.4 1904.0,964.7 1904.5,967.4 1905.0,971.2 1905.5,974.5 1906.0,978.2 1906.5,979.9 1907.0,982.5 1907.5,984.1 1908.0,985.6 1908.5,987.0 1909.0,987.3 1909.5,987.7 1910.0,988.5 1910.5,989.1 1911.0,989.2 1911.5,989.6 1912.0,989.1 1912.5,990.0 1913.0,989.7 1913.5,989.6 1914.0,990.2 1914.5,989.7 1915.0,990.4 1915.5,991.0 1916.0,990.3 1916.5,990.3 1917.0,991.0 1917.5,990.9 1918.0,991.0 1918.5,990.1 1919.0,990.6 1919.5,991.5 1920.0,990.6 1920.5,990.8 1921.0,991.0 1921.5,991.1 1922.0,991.0 1922.5,990.2 1923.0,991.3 1923.5,990.7 1924.0,991.5 1924.5,991.6 1925.0,990.8 1925.5,991.3 1926.0,991.8 1926.5,991.8 1927.0,991.6 1927.5,991.1 1928.0,991.5 1928.5,991.0 1929.0,991.9 1929.5,991.5 1930.0,991.8 1930.5,990.5 1931.0,991.2 1931.5,991.2 1932.0,991.3 1932.5,991.0 1933.0,991.6 1933.5,991.1 1934.0,992.1 1934.5,991.3 1935.0,991.3 1935.5,991.2 1936.0,991.7 1936.5,991.6 1937.0,991.2 1937.5,990.5 1938.0,991.4 1938.5,991.2 1939.0,991.5 1939.5,991.2 1940.0,991.6 1940.5,991.1 1941.0,991.6 1941.5,991.5 1942.0,991.9 1942.5,991.5 1943.0,991.8 1943.5,991.5 1944.0,991.5 1944.5,991.3 1945.0,991.1 1945.5,991.6 1946.0,991.6 1946.5,992.1 1947.0,991.7 1947.5,992.2 1948.0,992.3 1948.5,991.7 1949.0,991.3 1949.5,991.5 1950.0,992.0 1950.5,991.6 1951.0,992.0 1951.5,991.5 1952.0,991.7 1952.5,991.9 1953.0,991.9 1953.5,991.7 1954.0,991.7 1954.5,991.8 1955.0,991.6 1955.5,992.0 1956.0,991.5 1956.5,992.7 1957.0,991.7 1957.5,991.4 1958.0,991.1 1958.5,991.4 1959.0,991.8 1959.5,991.5 1960.0,992.1 1960.5,991.5 1961.0,991.3 1961.5,991.6 1962.0,991.5 1962.5,991.6 1963.0,991.3 1963.5,991.6 1964.0,991.0 1964.5,991.7 1965.0,991.6 1965.5,991.6 1966.0,991.4 1966.5,991.7 1967.0,991.8 1967.5,991.1 1968.0,992.0 1968.5,991.6 1969.0,991.9 1969.5,992.2 1970.0,991.3 1970.5,991.4 1971.0,991.4 1971.5,991.7 1972.0,991.4 1972.5,991.4 1973.0,992.3 1973.5,991.6 1974.0,991.8 1974.5,992.1 1975.0,992.2 1975.5,991.2 1976.0,991.8 1976.5,992.0 1977.0,992.1 1977.5,991.5 1978.0,991.6 1978.5,991.8 1979.0,991.7 1979.5,991.6 1980.0,991.5 1980.5,991.7 1981.0,991.6 1981.5,991.8 1982.0,991.5 1982.5,991.4 1983.0,991.6 1983.5,991.7 1984.0,992.1 1984.5,991.6 1985.0,991.0 1985.5,992.5 1986.0,992.1 1986.5,991.9 1987.0,991.9 1987.5,991.8 1988.0,992.3 1988.5,991.3 1989.0,992.0 1989.5,992.0 1990.0,992.6 1990.5,991.7 1991.0,992.3 1991.5,991.9 1992.0,991.4 1992.5,991.4 1993.0,992.2 1993.5,991.4 1994.0,991.7 1994.5,992.3 1995.0,991.4 1995.5,992.0 1996.0,992.4 1996.5,992.3 1997.0,992.0 1997.5,991.5 1998.0,992.4 1998.5,991.9 1999.0,991.8 1999.5,991.4 2000.0,991.0 2000.5,991.9 2001.0,991.6 2001.5,991.2 2002.0,992.1 2002.5,991.9 2003.0,991.6 2003.5,991.6 2004.0,992.0 2004.5,992.0 2005.0,991.5 2005.5,992.1 2006.0,991.7 2006.5,991.4 2007.0,991.7 2007.5,991.8 2008.0,992.2 2008.5,992.0 2009.0,991.0 2009.5,991.4 2010.0,992.1 2010.5,991.9 2011.0,991.5 2011.5,991.6 2012.0,992.3 2012.5,991.0 2013.0,992.2 2013.5,992.1 2014.0,991.6 2014.5,991.7 2015.0,991.9 2015.5,991.8 2016.0,991.9 2016.5,992.2 2017.0,991.6 2017.5,991.8 2018.0,992.0 2018.5,991.7 2019.0,991.8 2019.5,992.3 2020.0,991.1 2020.5,991.9 2021.0,991.6 2021.5,991.4 2022.0,991.7 2022.5,991.9 2023.0,992.1 2023.5,991.6 2024.0,992.0 2024.5,992.3 2025.0,991.9 2025.5,992.0 2026.0,992.0 2026.5,992.0 2027.0,991.5 2027.5,992.2 2028.0,992.0 2028.5,992.4 2029.0,992.1 2029.5,991.5 2030.0,992.2 2030.5,992.3 2031.0,992.2 2031.5,991.7 2032.0,991.7 2032.5,992.3 2033.0,991.6 2033.5,992.1 2034.0,991.9 2034.5,991.6 2035.0,991.7 2035.5,991.7 2036.0,992.0 2036.5,991.6 2037.0,991.8 2037.5,991.8 2038.0,992.0 2038.5,992.2 2039.0,991.3 2039.5,992.0 2040.0,991.6 2040.5,991.8 2041.0,991.8 2041.5,992.3 2042.0,992.3 2042.5,991.8 2043.0,991.8 2043.5,992.3 2044.0,992.0 2044.5,992.4 2045.0,991.6 2045.5,992.2 2046.0,991.7 2046.5,990.9 2047.0,992.1 2047.5,991.5 2048.0,992.1 2048.5,991.7 2049.0,992.2 2049.5,991.4 2050.0,991.3 2050.5,992.3 2051.0,992.2 2051.5,991.9 2052.0,991.3 2052.5,992.1 2053.0,992.6 2053.5,991.7 2054.0,991.7 2054.5,991.6 2055.0,992.0 2055.5,991.8 2056.0,991.3 2056.5,991.6 2057.0,992.2 2057.5,991.5 2058.0,991.9 2058.5,992.2 2059.0,992.1 2059.5,991.3 2060.0,992.0 2060.5,991.5 2061.0,991.2 2061.5,991.9 2062.0,991.3 2062.5,991.8 2063.0,992.2 2063.5,992.0 2064.0,991.8 2064.5,992.1 2065.0,991.9 2065.5,992.1 2066.0,992.2 2066.5,991.5 2067.0,992.4 2067.5,991.8 2068.0,991.9 2068.5,991.9 2069.0,991.7 2069.5,991.7 2070.0,992.0 2070.5,991.6 2071.0,992.0 2071.5,992.1 2072.0,991.7 2072.5,991.7 2073.0,992.0 2073.5,991.8 2074.0,992.0 2074.5,991.8 2075.0,991.7 2075.5,991.8 2076.0,991.9 2076.5,992.2 2077.0,991.3 2077.5,991.7 2078.0,991.7 2078.5,991.6 2079.0,991.7 2079.5,992.2 2080.0,992.2 2080.5,991.7 2081.0,991.4 2081.5,992.0 2082.0,992.0 2082.5,991.5 2083.0,991.9 2083.5,992.0 2084.0,992.1 2084.5,991.7 2085.0,992.0 2085.5,991.8 2086.0,992.1 2086.5,991.9 2087.0,992.1 2087.5,991.9 2088.0,991.8 2088.5,991.9 2089.0,992.1 2089.5,991.7 2090.0,992.0 2090.5,992.6 2091.0,991.7 2091.5,991.4 2092.0,991.6 2092.5,991.8 2093.0,991.9 2093.5,991.2 2094.0,991.2 2094.5,992.1 2095.0,991.4 2095.5,992.1 2096.0,992.2 2096.5,990.9 2097.0,992.0 2097.5,991.9 2098.0,991.8 2098.5,992.0 2099.0,991.8 2099.5,992.0 2100.0,992.4 2100.5,992.0 2101.0,991.5 2101.5,992.3 2102.0,992.2 2102.5,992.3 2103.0,992.0 2103.5,992.1 2104.0,992.5 2104.5,991.8 2105.0,991.7 2105.5,992.3 2106.0,991.8 2106.5,992.2 2107.0,991.7 2107.5,991.7 2108.0,992.0 2108.5,992.0 2109.0,991.6 2109.5,992.4 2110.0,991.7 2110.5,992.1 2111.0,991.6 2111.5,991.7 2112.0,991.7 2112.5,991.9 2113.0,991.9 2113.5,991.9 2114.0,991.9 2114.5,992.2 2115.0,992.2 2115.5,991.7 2116.0,991.9 2116.5,992.0 2117.0,992.1 2117.5,992.0 2118.0,991.8 2118.5,991.8 2119.0,991.9 2119.5,992.0 2120.0,991.6 2120.5,991.6 2121.0,991.8 2121.5,991.9 2122.0,991.7 2122.5,991.8 2123.0,991.6 2123.5,992.0 2124.0,991.3 2124.5,991.9 2125.0,991.7 2125.5,991.9 2126.0,991.9 2126.5,991.0 2127.0,992.2 2127.5,992.1 2128.0,992.4 2128.5,992.1 2129.0,992.2 2129.5,992.1 2130.0,992.4 2130.5,991.5 2131.0,991.9 2131.5,991.6 2132.0,992.2 2132.5,992.0 2133.0,992.4 2133.5,991.9 2134.0,991.8 2134.5,991.8 2135.0,991.7 2135.5,991.3 2136.0,991.9 2136.5,991.8 2137.0,991.8 2137.5,991.5 2138.0,991.9 2138.5,991.6 2139.0,992.0 2139.5,991.8 2140.0,991.8 2140.5,991.4 2141.0,992.0 2141.5,992.2 2142.0,991.8 2142.5,991.7 2143.0,992.1 2143.5,992.1 2144.0,991.8 2144.5,992.7 2145.0,992.3 2145.5,992.3 2146.0,992.0 2146.5,992.0 2147.0,991.6 2147.5,991.8 2148.0,991.9 2148.5,992.1 2149.0,991.7 2149.5,991.6 2150.0,992.2 2150.5,991.9 2151.0,992.2 2151.5,991.9 2152.0,991.7 2152.5,991.9 2153.0,991.1 2153.5,992.2 2154.0,992.1 2154.5,992.2 2155.0,991.8 2155.5,992.5 2156.0,992.3 2156.5,991.3 2157.0,991.3 2157.5,992.0 2158.0,991.5 2158.5,991.8 2159.0,991.8 2159.5,991.8 2160.0,992.3 2160.5,992.0 2161.0,992.1 2161.5,991.9 2162.0,992.8 2162.5,992.3 2163.0,991.7 2163.5,992.0 2164.0,991.6 2164.5,991.8 2165.0,991.8 2165.5,991.4 2166.0,991.3 2166.5,991.5 2167.0,992.0 2167.5,991.0 2168.0,992.0 2168.5,991.2 2169.0,991.6 2169.5,991.7 2170.0,992.1 2170.5,991.8 2171.0,991.5 2171.5,991.6 2172.0,991.9 2172.5,992.1 2173.0,991.9 2173.5,991.8 2174.0,991.7 2174.5,992.3 2175.0,991.5 2175.5,991.6 2176.0,991.9 2176.5,992.2 2177.0,991.2 2177.5,992.1 2178.0,992.1 2178.5,991.8 2179.0,991.2 2179.5,991.5 2180.0,991.7 2180.5,991.8 2181.0,991.3 2181.5,991.6 2182.0,991.9 2182.5,991.5 2183.0,991.5 2183.5,991.5 2184.0,991.2 2184.5,991.5 2185.0,991.5 2185.5,991.8 2186.0,991.3 2186.5,991.1 2187.0,991.3 2187.5,991.2 2188.0,991.6 2188.5,991.2 2189.0,990.8 2189.5,991.4 2190.0,991.2 2190.5,991.2 2191.0,991.1 2191.5,991.2 2192.0,990.5 2192.5,990.8 2193.0,990.4 2193.5,990.1 2194.0,989.6 2194.5,989.1 2195.0,988.7 2195.5,987.9 2196.0,987.3 2196.5,986.5 2197.0,984.7 2197.5,984.4 2198.0,982.8 2198.5,980.9 2199.0,980.1 2199.5,979.1 2200.0,978.9 2200.5,978.0 2201.0,979.0 2201.5,978.8 2202.0,979.9 2202.5,980.9 2203.0,981.8 2203.5,982.9 2204.0,984.0 2204.5,984.9 2205.0,985.4 2205.5,985.7 2206.0,985.4 2206.5,986.1 2207.0,986.6 2207.5,986.3 2208.0,985.8 2208.5,985.0 2209.0,984.9 2209.5,984.4 2210.0,984.4 2210.5,984.7 2211.0,985.4 2211.5,985.4 2212.0,986.0 2212.5,986.9 2213.0,987.1 2213.5,988.4 2214.0,989.0 2214.5,989.6 2215.0,989.9 2215.5,989.9 2216.0,990.3 2216.5,990.3 2217.0,990.9 2217.5,991.6 2218.0,990.8 2218.5,991.4 2219.0,991.7 2219.5,991.0"/>
<path class="c" stroke="#0000ff" shape-rendering="crispEdges" d="M201.0,542.2 201.5,540.6 202.0,540.9 202.5,541.2 203.0,541.5 203.5,541.4 204.0,540.8 204.5,540.6 205.0,539.6 205.5,540.7 206.0,541.7 206.5,540.5 207.0,541.3 207.5,541.4 208.0,541.1 208.5,540.6 209.0,540.6 209.5,540.9 210.0,539.9 210.5,541.8 211.0,540.3 211.5,540.6 212.0,540.6 212.5,540.8 213.0,541.2 213.5,541.7 214.0,541.1 214.5,541.9 215.0,540.7 215.5,541.4 216.0,541.4 216.5,541.1 217.0,541.4 217.5,540.4 218.0,541.8 218.5,541.5 219.0,541.1 219.5,540.8 220.0,541.5 220.5,540.3 221.0,541.4 221.5,541.5 222.0,542.5 222.5,540.9 223.0,541.8 223.5,541.3 224.0,540.0 224.5,540.2 225.0,540.7 225.5,541.7 226.0,541.8 226.5,540.8 227.0,541.2 227.5,541.1 228.0,539.5 228.5,541.6 229.0,541.8 229.5,539.6 230.0,540.4 230.5,540.9 231.0,540.9 231.5,541.6 232.0,541.7 232.5,540.6 233.0,541.4 233.5,540.6 234.0,540.8 234.5,541.1 235.0,541.3 235.5,540.6 236.0,542.1 236.5,541.1 237.0,541.0 237.5,541.4 238.0,540.6 238.5,541.2 239.0,539.5 239.5,540.0 240.0,540.8 240.5,540.7 241.0,540.8 241.5,540.6 242.0,541.3 242.5,541.7 243.0,540.7 243.5,541.6 244.0,541.2 244.5,540.3 245.0,540.2 245.5,541.0 246.0,541.6 246.5,540.4 247.0,539.7 247.5,541.5 248.0,541.7 248.5,540.8 249.0,541.6 249.5,542.2 250.0,540.5 250.5,540.7 251.0,540.7 251.5,541.6 252.0,540.5 252.5,540.8 253.0,541.7 253.5,541.6 254.0,541.6 254.5,540.4 255.0,541.2 255.5,540.6 256.0,541.5 256.5,541.3 257.0,541.4 257.5,540.9 258.0,541.1 258.5,541.2 259.0,540.8 259.5,541.2 260.0,540.4 260.5,540.3 261.0,540.0 261.5,540.9 262.0,541.5 262.5,541.2 263.0,539.8 263.5,541.2 264.0,541.0 264.5,540.9 265.0,541.1 265.5,541.3 266.0,541.8 266.5,541.7 267.0,542.1 267.5,541.3 268.0,540.6 268.5,541.7 269.0,540.3 269.5,541.4 270.0,540.4 270.5,540.6 271.0,541.7 271.5,540.6 272.0,541.6 272.5,541.3 273.0,540.9 273.5,541.4 274.0,541.3 274.5,541.0 275.0,540.6 275.5,541.4 276.0,540.8 276.5,540.9 277.0,541.2 277.5,540.9 278.0,541.1 278.5,541.1 279.0,541.1 279.5,541.0 280.0,541.7 280.5,540.6 281.0,540.7 281.5,540.2 282.0,539.6 282.5,541.3 283.0,541.2 283.5,541.7 284.0,540.1 284.5,540.5 285.0,540.6 285.5,542.0 286.0,541.4 286.5,540.8 287.0,540.9 287.5,541.0 288.0,540.2 288.5,541.1 289.0,540.2 289.5,540.9 290.0,541.2 290.5,541.0 291.0,540.4 291.5,540.7 292.0,541.3 292.5,540.5 293.0,540.0 293.5,540.6 294.0,540.5 294.5,540.7 295.0,540.8 295.5,540.6 296.0,540.5 296.5,541.3 297.0,541.1 297.5,541.3 298.0,540.7 298.5,540.5 299.0,540.9 299.5,539.8 300.0,540.0 300.5,541.1 301.0,540.3 301.5,540.2 302.0,540.0 302.5,540.8 303.0,539.9 303.5,541.2 304.0,540.6 304.5,539.5 305.0,540.2 305.5,539.9 306.0,540.7 306.5,540.7 307.0,540.1 307.5,540.0 308.0,540.5 308.5,539.9 309.0,541.0 309.5,539.8 310.0,540.3 310.5,538.9 311.0,540.2 311.5,539.6 312.0,540.0 312.5,540.4 313.0,539.6 313.5,538.2 314.0,538.4 314.5,539.5 315.0,538.8 315.5,538.5 316.0,539.5 316.5,538.6 317.0,539.1 317.5,538.8 318.0,537.8 318.5,537.7 319.0,536.5 319.5,536.9 320.0,536.0 320.5,536.1 321.0,534.7 321.5,532.9 322.0,530.8 322.5,528.5 323.0,524.5 323.5,517.7 324.0,505.2 324.5,483.3 325.0,453.8 325.5,420.2 326.0,394.3 326.2,391.9 326.5,394.9 327.0,415.0 327.5,432.7 328.0,441.3 328.5,445.9 329.0,458.7 329.5,478.4 330.0,497.3 330.5,511.3 331.0,520.8 331.5,526.4 332.0,529.8 332.5,532.3 333.0,533.7 333.5,534.7 334.0,535.8 334.5,536.8 335.0,536.4 335.5,537.1 336.0,537.8 336.5,537.9 337.0,537.6 337.5,537.6 338.0,538.8 338.5,537.9 339.0,538.9 339.5,538.2 340.0,539.8 340.5,538.3 341.0,539.9 341.5,539.3 342.0,539.7 342.5,539.6 343.0,539.2 343.5,538.8 344.0,540.3 344.5,538.6 345.0,538.9 345.5,538.0 346.0,538.7 346.5,538.9 347.0,538.0 347.5,538.3 348.0,537.9 348.5,537.6 349.0,537.8 349.5,537.5 350.0,536.0 350.5,534.8 351.0,535.2 351.5,533.2 352.0,532.3 352.5,530.6 353.0,529.8 353.5,528.4 354.0,524.6 354.5,523.6 355.0,519.8 355.5,516.8 356.0,515.0 356.5,512.9 357.0,509.6 357.5,507.9 358.0,508.1 358.5,507.2 359.0,505.4 359.5,507.7 360.0,508.5 360.5,510.0 361.0,511.7 361.5,512.6 362.0,513.5 362.5,515.5 363.0,513.8 363.5,514.9 364.0,515.0 364.5,513.8 365.0,514.0 365.5,514.3 366.0,516.1 366.5,515.9 367.0,517.8 367.5,517.9 368.0,518.6 368.5,519.9 369.0,519.7 369.5,516.6 370.0,512.2 370.5,503.9 371.0,487.7 371.5,464.5 372.0,435.6 372.5,410.4 372.9,400.2 373.0,402.9 373.5,415.1 374.0,433.0 374.5,444.3 375.0,449.2 375.5,455.6 376.0,467.9 376.5,487.3 377.0,501.8 377.5,514.9 378.0,522.7 378.5,527.0 379.0,530.2 379.5,531.8 380.0,533.7 380.5,535.0 381.0,535.4 381.5,535.9 382.0,536.6 382.5,537.7 383.0,537.9 383.5,537.9 384.0,537.6 384.5,537.9 385.0,538.6 385.5,538.3 386.0,538.3 386.5,539.5 387.0,538.9 387.5,539.1 388.0,538.7 388.5,539.3 389.0,539.7 389.5,539.4 390.0,538.5 390.5,539.1 391.0,539.7 391.5,539.5 392.0,540.0 392.5,539.3 393.0,539.4 393.5,540.0 394.0,539.4 394.5,540.0 395.0,538.5 395.5,538.9 396.0,540.0 396.5,539.9 397.0,539.8 397.5,539.9 398.0,539.8 398.5,538.7 399.0,540.1 399.5,539.7 400.0,538.5 400.5,538.3 401.0,539.2 401.5,538.5 402.0,539.1 402.5,538.5 403.0,537.7 403.5,537.9 404.0,538.0 404.5,538.0 405.0,538.3 405.5,537.2 406.0,537.6 406.5,536.9 407.0,536.6 407.5,534.9 408.0,535.5 408.5,534.4 409.0,534.9 409.5,534.3 410.0,532.9 410.5,532.6 411.0,530.1 411.5,528.5 412.0,525.4 412.5,522.5 413.0,517.1 413.5,510.2 414.0,497.7 414.5,471.2 415.0,421.8 415.5,340.9 416.0,234.0 416.5,138.0 416.8,112.5 417.0,118.2 417.5,182.8 418.0,259.1 418.5,298.7 419.0,299.5 419.5,295.8 420.0,325.5 420.5,383.6 421.0,439.3 421.5,477.6 422.0,501.9 422.5,513.7 423.0,520.8 423.5,524.3 424.0,527.2 424.5,531.3 425.0,531.3 425.5,533.5 426.0,533.7 426.5,535.0 427.0,534.9 427.5,536.2 428.0,536.1 428.5,535.3 429.0,535.8 429.5,537.5 430.0,538.2 430.5,537.7 431.0,537.7 431.5,538.2 432.0,539.6 432.5,537.8 433.0,539.4 433.5,539.8 434.0,538.5 434.5,538.8 435.0,539.2 435.5,539.2 436.0,540.2 436.5,539.8 437.0,539.5 437.5,540.1 438.0,540.6 438.5,539.8 439.0,539.6 439.5,540.6 440.0,541.1 440.5,541.0 441.0,540.7 441.5,540.2 442.0,540.8 442.5,540.7 443.0,540.7 443.5,540.4 444.0,541.0 444.5,541.0 445.0,539.8 445.5,540.9 446.0,540.0 446.5,540.6 447.0,540.5 447.5,540.9 448.0,540.4 448.5,540.5 449.0,540.4 449.5,540.4 450.0,539.9 450.5,541.0 451.0,540.4 451.5,541.0 452.0,540.8 452.5,541.0 453.0,541.1 453.5,540.1 454.0,540.8 454.5,540.9 455.0,540.5 455.5,540.5 456.0,541.1 456.5,541.6 457.0,541.2 457.5,541.3 458.0,541.1 458.5,542.0 459.0,541.0 459.5,541.4 460.0,542.8 460.5,541.2 461.0,541.0 461.5,540.1 462.0,540.1 462.5,542.2 463.0,541.0 463.5,540.5 464.0,540.7 464.5,540.4 465.0,541.0 465.5,540.7 466.0,541.3 466.5,541.9 467.0,541.3 467.5,541.1 468.0,541.1 468.5,541.8 469.0,540.3 469.5,540.5 470.0,540.8 470.5,540.4 471.0,541.4 471.5,540.9 472.0,540.5 472.5,541.4 473.0,541.0 473.5,541.3 474.0,541.1 474.5,540.8 475.0,540.5 475.5,541.4 476.0,540.6 476.5,541.7 477.0,541.3 477.5,541.1 478.0,540.7 478.5,542.0 479.0,541.0 479.5,541.4 480.0,540.8 480.5,541.8 481.0,541.4 481.5,541.7 482.0,541.6 482.5,541.1 483.0,540.7 483.5,541.2 484.0,540.8 484.5,541.0 485.0,542.1 485.5,541.7 486.0,541.4 486.5,541.6 487.0,541.7 487.5,541.3 488.0,541.2 488.5,541.3 489.0,541.5 489.5,542.4 490.0,540.6 490.5,541.3 491.0,540.9 491.5,542.5 492.0,541.0 492.5,541.9 493.0,541.6 493.5,541.5 494.0,541.8 494.5,541.5 495.0,541.1 495.5,542.3 496.0,540.6 496.5,540.3 497.0,540.8 497.5,541.7 498.0,540.9 498.5,541.3 499.0,541.8 499.5,541.7 500.0,541.5 500.5,541.9 501.0,541.3 501.5,541.9 502.0,541.4 502.5,542.1 503.0,541.9 503.5,541.4 504.0,541.9 504.5,541.8 505.0,541.8 505.5,541.5 506.0,540.7 506.5,541.1 507.0,541.8 507.5,542.0 508.0,540.5 508.5,540.8 509.0,540.2 509.5,540.6 510.0,541.7 510.5,541.0 511.0,541.6 511.5,542.1 512.0,540.4 512.5,541.4 513.0,541.5 513.5,541.6 514.0,541.9 514.5,542.0 515.0,541.7 515.5,540.9 516.0,542.0 516.5,542.5 517.0,540.8 517.5,541.3 518.0,541.6 518.5,541.2 519.0,541.5 519.5,541.6 520.0,542.0 520.5,541.2 521.0,541.3 521.5,542.4 522.0,542.0 522.5,541.2 523.0,540.7 523.5,541.4 524.0,541.7 524.5,541.3 525.0,540.6 525.5,540.7 526.0,541.0 526.5,541.4 527.0,541.5 527.5,542.0 528.0,541.0 528.5,540.9 529.0,540.4 529.5,540.8 530.0,541.2 530.5,541.2 531.0,541.2 531.5,541.5 532.0,541.1 532.5,540.6 533.0,541.5 533.5,541.5 534.0,540.9 534.5,543.1 535.0,540.0 535.5,540.5 536.0,541.0 536.5,541.0 537.0,540.8 537.5,541.5 538.0,542.0 538.5,541.6 539.0,541.5 539.5,542.2 540.0,540.5 540.5,541.2 541.0,541.4 541.5,541.2 542.0,541.3 542.5,541.2 543.0,541.0 543.5,540.7 544.0,540.8 544.5,541.2 545.0,541.6 545.5,541.6 546.0,541.8 546.5,540.0 547.0,540.8 547.5,540.7 548.0,541.3 548.5,541.4 549.0,541.1 549.5,541.9 550.0,541.1 550.5,541.4 551.0,541.6 551.5,541.6 552.0,541.2 552.5,542.1 553.0,541.7 553.5,541.9 554.0,541.5 554.5,541.5 555.0,540.9 555.5,540.3 556.0,540.7 556.5,540.5 557.0,541.3 557.5,540.6 558.0,541.1 558.5,540.9 559.0,541.4 559.5,541.3 560.0,542.1 560.5,541.9 561.0,542.2 561.5,541.4 562.0,540.4 562.5,541.9 563.0,542.4 563.5,541.2 564.0,542.2 564.5,541.3 565.0,541.4 565.5,541.3 566.0,541.1 566.5,541.1 567.0,540.4 567.5,541.5 568.0,541.5 568.5,541.8 569.0,541.4 569.5,541.6 570.0,542.6 570.5,541.9 571.0,541.3 571.5,541.5 572.0,541.4 572.5,542.1 573.0,541.1 573.5,542.0 574.0,541.6 574.5,540.0 575.0,541.7 575.5,541.1 576.0,540.9 576.5,541.4 577.0,541.6 577.5,542.7 578.0,541.4 578.5,540.9 579.0,541.3 579.5,541.7 580.0,540.9 580.5,541.3 581.0,540.5 581.5,540.7 582.0,541.2 582.5,541.8 583.0,540.9 583.5,541.0 584.0,541.4 584.5,540.9 585.0,541.1 585.5,540.9 586.0,542.4 586.5,541.2 587.0,542.2 587.5,541.5 588.0,542.4 588.5,540.9 589.0,541.5 589.5,540.1 590.0,542.1 590.5,541.8 591.0,541.2 591.5,542.5 592.0,543.0 592.5,542.3 593.0,542.3 593.5,541.5 594.0,541.0 594.5,540.6 595.0,542.0 595.5,540.4 596.0,541.3 596.5,542.4 597.0,541.6 597.5,540.8 598.0,541.0 598.5,542.1 599.0,540.9 599.5,541.2 600.0,540.7 600.5,541.4 601.0,541.1 601.5,542.0 602.0,540.9 602.5,541.2 603.0,540.2 603.5,542.2 604.0,542.1 604.5,541.3 605.0,541.5 605.5,541.7 606.0,542.0 606.5,540.6 607.0,541.0 607.5,542.7 608.0,542.1 608.5,541.8 609.0,541.5 609.5,541.9 610.0,542.0 610.5,541.9 611.0,540.9 611.5,541.5 612.0,541.7 612.5,541.6 613.0,540.9 613.5,541.4 614.0,541.0 614.5,541.3 615.0,541.6 615.5,541.8 616.0,541.8 616.5,542.0 617.0,541.6 617.5,540.8 618.0,541.5 618.5,541.2 619.0,540.6 619.5,541.1 620.0,541.7 620.5,542.0 621.0,541.4 621.5,540.7 622.0,541.5 622.5,541.1 623.0,542.2 623.5,540.8 624.0,542.0 624.5,541.4 625.0,541.7 625.5,541.1 626.0,541.8 626.5,541.5 627.0,541.4 627.5,540.9 628.0,541.2 628.5,540.5 629.0,541.8 629.5,541.3 630.0,542.3 630.5,540.7 631.0,542.3 631.5,541.7 632.0,541.3 632.5,541.8 633.0,540.8 633.5,540.8 634.0,542.2 634.5,540.4 635.0,541.5 635.5,542.2 636.0,541.6 636.5,542.2 637.0,541.4 637.5,541.1 638.0,542.1 638.5,542.0 639.0,541.5 639.5,542.3 640.0,540.9 640.5,542.1 641.0,541.3 641.5,541.6 642.0,541.6 642.5,541.6 643.0,541.8 643.5,542.3 644.0,542.3 644.5,541.6 645.0,541.6 645.5,541.0 646.0,542.4 646.5,542.0 647.0,541.2 647.5,541.6 648.0,542.3 648.5,541.1 649.0,541.7 649.5,541.5 650.0,541.4 650.5,541.6 651.0,540.4 651.5,542.0 652.0,541.3 652.5,541.6 653.0,540.8 653.5,542.8 654.0,541.8 654.5,540.5 655.0,541.2 655.5,541.3 656.0,541.0 656.5,540.8 657.0,540.8 657.5,541.0 658.0,541.6 658.5,541.6 659.0,542.2 659.5,541.4 660.0,540.3 660.5,541.4 661.0,542.1 661.5,540.9 662.0,541.6 662.5,541.7 663.0,540.9 663.5,541.4 664.0,540.9 664.5,542.2 665.0,541.8 665.5,541.5 666.0,541.8 666.5,541.8 667.0,541.0 667.5,540.8 668.0,540.7 668.5,540.8 669.0,541.9 669.5,542.0 670.0,542.3 670.5,540.7 671.0,541.4 671.5,542.1 672.0,542.4 672.5,541.3 673.0,541.2 673.5,541.2 674.0,541.7 674.5,541.8 675.0,541.9 675.5,541.2 676.0,542.2 676.5,540.9 677.0,541.7 677.5,542.1 678.0,542.0 678.5,541.6 679.0,541.2 679.5,541.3 680.0,541.0 680.5,541.0 681.0,540.8 681.5,541.9 682.0,540.7 682.5,541.0 683.0,542.0 683.5,541.5 684.0,542.2 684.5,542.1 685.0,541.5 685.5,541.9 686.0,540.7 686.5,541.4 687.0,542.2 687.5,541.5 688.0,541.4 688.5,542.7 689.0,541.6 689.5,540.4 690.0,541.8 690.5,539.8 691.0,541.4 691.5,541.3 692.0,540.9 692.5,540.7 693.0,540.8 693.5,542.5 694.0,540.4 694.5,540.5 695.0,540.8 695.5,540.7 696.0,541.8 696.5,541.0 697.0,540.7 697.5,541.1 698.0,540.8 698.5,540.5 699.0,540.3 699.5,540.3 700.0,540.2 700.5,539.8 701.0,539.8 701.5,540.1 702.0,538.4 702.5,538.7 703.0,538.1 703.5,536.7 704.0,535.4 704.5,534.5 705.0,531.9 705.5,530.2 706.0,527.8 706.5,524.9 707.0,522.0 707.5,519.3 708.0,516.8 708.5,512.8 709.0,511.6 709.5,509.0 710.0,507.9 710.4,508.1 710.5,508.2 711.0,507.6 711.5,510.4 712.0,510.7 712.5,513.0 713.0,514.4 713.5,515.9 714.0,516.6 714.5,517.1 715.0,516.8 715.5,515.7 716.0,515.0 716.5,512.4 717.0,510.0 717.5,506.8 718.0,503.9 718.5,501.7 719.0,498.7 719.5,498.7 720.0,496.9 720.2,496.9 720.5,496.9 721.0,497.9 721.5,499.4 722.0,501.4 722.5,502.9 723.0,505.3 723.5,508.8 724.0,511.9 724.5,514.8 725.0,519.1 725.5,521.0 726.0,524.0 726.5,527.5 727.0,529.2 727.5,531.3 728.0,532.7 728.5,533.9 729.0,535.4 729.5,535.8 730.0,537.9 730.5,538.2 731.0,539.5 731.5,538.9 732.0,538.9 732.5,539.9 733.0,539.3 733.5,540.2 734.0,539.6 734.5,539.0 735.0,539.8 735.5,539.9 736.0,540.3 736.5,539.9 737.0,540.3 737.5,540.3 738.0,539.7 738.5,539.6 739.0,539.8 739.5,539.4 740.0,540.2 740.5,540.5 741.0,540.0 741.5,539.8 742.0,539.5 742.5,540.4 743.0,540.6 743.5,538.9 744.0,541.0 744.5,540.7 745.0,539.6 745.5,539.8 746.0,539.8 746.5,539.8 747.0,539.3 747.5,539.5 748.0,539.5 748.5,540.1 749.0,538.6 749.5,537.9 750.0,538.3 750.5,537.2 751.0,536.6 751.5,535.7 752.0,534.5 752.5,533.4 753.0,532.1 753.5,530.6 754.0,529.2 754.5,528.8 755.0,526.2 755.5,524.2 756.0,522.6 756.5,522.4 757.0,520.4 757.5,520.1 758.0,518.8 758.5,518.5 759.0,519.7 759.5,518.9 760.0,519.9 760.5,520.2 761.0,519.0 761.5,518.6 762.0,517.7 762.5,516.3 763.0,514.9 763.5,513.1 764.0,511.2 764.5,509.3 765.0,507.5 765.5,505.7 766.0,504.1 766.5,502.7 767.0,503.1 767.5,503.6 768.0,504.3 768.5,505.7 769.0,509.0 769.5,509.2 770.0,513.2 770.5,515.7 771.0,518.9 771.5,521.6 772.0,523.3 772.5,524.9 773.0,527.3 773.5,528.0 774.0,530.0 774.5,530.6 775.0,532.1 775.5,531.5 776.0,532.6 776.5,532.9 777.0,532.6 777.5,532.1 778.0,531.2 778.5,530.2 779.0,529.2 779.5,525.4 780.0,521.1 780.5,515.8 781.0,508.9 781.5,500.6 782.0,490.3 782.5,481.5 783.0,475.7 783.3,473.6 783.5,474.6 784.0,478.6 784.5,485.5 785.0,491.1 785.5,494.5 786.0,495.5 786.5,496.6 787.0,498.2 787.5,501.6 788.0,506.5 788.5,512.7 789.0,518.1 789.5,522.5 790.0,525.4 790.5,528.2 791.0,529.6 791.5,531.1 792.0,532.6 792.5,532.8 793.0,533.1 793.5,534.0 794.0,533.3 794.5,533.6 795.0,532.9 795.5,534.0 796.0,533.4 796.5,533.8 797.0,533.7 797.5,533.2 798.0,533.4 798.5,532.3 799.0,532.6 799.5,531.9 800.0,533.2 800.5,533.0 801.0,533.4 801.5,533.4 802.0,533.5 802.5,532.7 803.0,532.1 803.5,532.7 804.0,534.0 804.5,533.3 805.0,533.7 805.5,533.5 806.0,533.4 806.5,532.9 807.0,532.5 807.5,533.3 808.0,532.2 808.5,533.1 809.0,532.1 809.5,531.5 810.0,530.4 810.5,528.4 811.0,527.4 811.5,526.4 812.0,522.7 812.5,518.9 813.0,514.1 813.5,502.1 814.0,485.8 814.5,458.4 815.0,419.3 815.5,368.9 816.0,320.3 816.5,296.4 817.0,315.2 817.5,356.8 818.0,398.6 818.5,423.7 819.0,432.6 819.5,424.9 820.0,410.6 820.5,406.1 821.0,419.9 821.5,445.9 822.0,472.4 822.5,494.0 823.0,508.6 823.5,517.9 824.0,524.1 824.5,527.3 825.0,530.7 825.5,532.3 826.0,532.2 826.5,534.2 827.0,535.1 827.5,535.9 828.0,536.8 828.5,537.7 829.0,538.2 829.5,536.9 830.0,538.6 830.5,537.6 831.0,539.3 831.5,539.2 832.0,538.8 832.5,539.1 833.0,539.3 833.5,540.3 834.0,539.6 834.5,539.8 835.0,540.3 835.5,541.0 836.0,540.0 836.5,540.5 837.0,540.1 837.5,541.0 838.0,540.0 838.5,540.8 839.0,540.9 839.5,540.6 840.0,541.4 840.5,541.8 841.0,540.9 841.5,541.1 842.0,541.1 842.5,541.6 843.0,541.5 843.5,541.2 844.0,541.1 844.5,540.8 845.0,541.1 845.5,541.2 846.0,542.1 846.5,541.7 847.0,540.3 847.5,541.1 848.0,542.0 848.5,541.9 849.0,540.5 849.5,541.4 850.0,542.2 850.5,541.1 851.0,541.3 851.5,541.5 852.0,541.0 852.5,542.0 853.0,541.6 853.5,541.7 854.0,541.2 854.5,542.1 855.0,541.4 855.5,541.2 856.0,541.5 856.5,541.0 857.0,541.4 857.5,542.8 858.0,541.3 858.5,541.2 859.0,541.7 859.5,541.8 860.0,541.9 860.5,541.8 861.0,540.9 861.5,541.5 862.0,540.7 862.5,542.1 863.0,542.0 863.5,542.2 864.0,541.0 864.5,540.8 865.0,541.8 865.5,541.3 866.0,541.2 866.5,541.4 867.0,541.1 867.5,540.9 868.0,542.0 868.5,542.0 869.0,542.2 869.5,542.0 870.0,541.9 870.5,542.1 871.0,541.7 871.5,541.9 872.0,541.8 872.5,540.8 873.0,542.1 873.5,542.7 874.0,542.6 874.5,541.8 875.0,542.1 875.5,542.0 876.0,542.7 876.5,542.7 877.0,541.5 877.5,541.5 878.0,541.7 878.5,541.6 879.0,542.7 879.5,541.0 880.0,541.4 880.5,541.3 881.0,541.6 881.5,542.3 882.0,541.4 882.5,542.3 883.0,542.8 883.5,542.0 884.0,542.6 884.5,541.9 885.0,542.1 885.5,541.8 886.0,542.5 886.5,542.1 887.0,542.3 887.5,542.4 888.0,542.5 888.5,541.5 889.0,542.1 889.5,541.7 890.0,541.8 890.5,542.0 891.0,542.3 891.5,542.0 892.0,541.9 892.5,542.7 893.0,542.3 893.5,541.0 894.0,542.2 894.5,541.8 895.0,542.4 895.5,542.4 896.0,542.9 896.5,541.9 897.0,542.5 897.5,542.0 898.0,541.7 898.5,541.3 899.0,542.2 899.5,542.8 900.0,542.0 900.5,542.6 901.0,542.1 901.5,542.5 902.0,542.0 902.5,542.3 903.0,541.6 903.5,542.4 904.0,543.0 904.5,542.6 905.0,541.8 905.5,541.2 906.0,542.2 906.5,541.6 907.0,542.0 907.5,542.6 908.0,541.0 908.5,542.0 909.0,542.0 909.5,542.5 910.0,542.3 910.5,542.9 911.0,542.3 911.5,542.5 912.0,541.2 912.5,542.1 913.0,542.0 913.5,542.1 914.0,542.6 914.5,541.5 915.0,540.9 915.5,543.0 916.0,542.1 916.5,542.0 917.0,542.8 917.5,542.5 918.0,542.2 918.5,542.3 919.0,542.5 919.5,541.7 920.0,542.2 920.5,543.2 921.0,542.4 921.5,542.3 922.0,543.1 922.5,542.3 923.0,543.0 923.5,542.3 924.0,542.1 924.5,542.4 925.0,542.3 925.5,541.5 926.0,543.2 926.5,542.5 927.0,543.3 927.5,541.8 928.0,542.0 928.5,541.6 929.0,542.1 929.5,542.5 930.0,543.2 930.5,542.0 931.0,542.1 931.5,542.7 932.0,542.5 932.5,541.9 933.0,542.0 933.5,541.9 934.0,542.8 934.5,541.9 935.0,542.1 935.5,542.8 936.0,541.9 936.5,542.7 937.0,541.5 937.5,541.9 938.0,542.9 938.5,542.5 939.0,541.8 939.5,541.7 940.0,541.4 940.5,542.4 941.0,542.1 941.5,542.4 942.0,542.2 942.5,543.6 943.0,542.8 943.5,541.5 944.0,542.3 944.5,541.6 945.0,542.3 945.5,542.1 946.0,542.3 946.5,542.1 947.0,541.2 947.5,542.5 948.0,541.3 948.5,541.8 949.0,541.9 949.5,542.3 950.0,541.6 950.5,542.1 951.0,542.3 951.5,543.2 952.0,541.9 952.5,542.4 953.0,542.5 953.5,542.1 954.0,542.3 954.5,542.7 955.0,541.9 955.5,540.8 956.0,542.1 956.5,542.4 957.0,542.5 957.5,542.5 958.0,542.8 958.5,542.3 959.0,541.9 959.5,541.7 960.0,541.6 960.5,542.7 961.0,541.9 961.5,541.8 962.0,543.0 962.5,541.6 963.0,542.6 963.5,541.7 964.0,542.0 964.5,542.0 965.0,542.4 965.5,542.0 966.0,542.7 966.5,541.9 967.0,543.1 967.5,542.0 968.0,541.3 968.5,541.7 969.0,541.8 969.5,542.4 970.0,541.5 970.5,542.8 971.0,541.8 971.5,542.0 972.0,542.7 972.5,541.2 973.0,543.2 973.5,541.8 974.0,541.3 974.5,542.9 975.0,542.1 975.5,541.3 976.0,542.5 976.5,543.0 977.0,543.0 977.5,542.5 978.0,541.7 978.5,541.9 979.0,542.6 979.5,542.4 980.0,542.0 980.5,542.9 981.0,541.6 981.5,543.0 982.0,541.6 982.5,541.9 983.0,542.1 983.5,542.6 984.0,542.8 984.5,541.4 985.0,541.7 985.5,541.8 986.0,542.1 986.5,541.7 987.0,541.6 987.5,542.9 988.0,542.5 988.5,542.1 989.0,542.6 989.5,542.0 990.0,541.3 990.5,541.2 991.0,542.4 991.5,542.1 992.0,542.0 992.5,541.6 993.0,542.1 993.5,542.2 994.0,542.7 994.5,542.7 995.0,541.7 995.5,542.9 996.0,542.5 996.5,542.7 997.0,541.9 997.5,542.5 998.0,541.2 998.5,542.5 999.0,541.5 999.5,542.1 1000.0,541.5 1000.5,541.8 1001.0,541.8 1001.5,541.1 1002.0,541.8 1002.5,542.1 1003.0,541.6 1003.5,542.1 1004.0,542.6 1004.5,541.4 1005.0,542.0 1005.5,541.3 1006.0,540.5 1006.5,541.3 1007.0,540.2 1007.5,540.7 1008.0,541.6 1008.5,540.0 1009.0,539.6 1009.5,539.8 1010.0,540.0 1010.5,540.0 1011.0,539.0 1011.5,538.8 1012.0,539.2 1012.5,538.6 1013.0,538.9 1013.5,537.8 1014.0,538.6 1014.5,537.9 1015.0,537.5 1015.5,536.6 1016.0,537.1 1016.5,537.1 1017.0,537.6 1017.5,537.0 1018.0,536.4 1018.5,536.2 1019.0,537.3 1019.5,536.3 1020.0,537.7 1020.5,536.9 1021.0,536.4 1021.5,536.1 1022.0,536.9 1022.5,535.8 1023.0,535.6 1023.5,533.9 1024.0,534.3 1024.5,533.0 1025.0,531.5 1025.5,531.5 1026.0,530.5 1026.5,528.9 1027.0,530.0 1027.5,527.2 1028.0,526.6 1028.5,526.8 1029.0,526.7 1029.5,526.7 1030.0,526.8 1030.5,528.1 1031.0,527.5 1031.5,527.6 1032.0,528.6 1032.5,529.8 1033.0,530.7 1033.5,532.5 1034.0,532.3 1034.5,533.1 1035.0,534.0 1035.5,534.8 1036.0,536.4 1036.5,536.2 1037.0,538.2 1037.5,537.7 1038.0,538.5 1038.5,539.3 1039.0,538.9 1039.5,540.1 1040.0,540.3 1040.5,541.3 1041.0,541.2 1041.5,539.8 1042.0,541.3 1042.5,540.8 1043.0,540.9 1043.5,541.0 1044.0,542.5 1044.5,541.4 1045.0,541.6 1045.5,542.1 1046.0,542.6 1046.5,541.6 1047.0,541.9 1047.5,542.0 1048.0,541.9 1048.5,541.8 1049.0,541.3 1049.5,541.7 1050.0,541.6 1050.5,541.5 1051.0,541.7 1051.5,542.0 1052.0,541.7 1052.5,541.8 1053.0,542.5 1053.5,542.4 1054.0,541.6 1054.5,541.2 1055.0,543.3 1055.5,542.0 1056.0,543.0 1056.5,542.1 1057.0,543.0 1057.5,542.4 1058.0,542.1 1058.5,541.9 1059.0,542.1 1059.5,541.7 1060.0,542.3 1060.5,542.2 1061.0,542.4 1061.5,542.5 1062.0,541.7 1062.5,542.4 1063.0,542.2 1063.5,542.7 1064.0,543.0 1064.5,542.0 1065.0,541.2 1065.5,542.2 1066.0,542.2 1066.5,541.7 1067.0,542.4 1067.5,542.1 1068.0,542.5 1068.5,541.6 1069.0,542.3 1069.5,542.1 1070.0,542.0 1070.5,542.6 1071.0,541.8 1071.5,541.9 1072.0,542.4 1072.5,541.3 1073.0,542.3 1073.5,541.5 1074.0,540.7 1074.5,542.4 1075.0,542.4 1075.5,541.6 1076.0,541.0 1076.5,540.5 1077.0,541.3 1077.5,541.8 1078.0,540.2 1078.5,540.7 1079.0,541.3 1079.5,540.8 1080.0,540.2 1080.5,541.1 1081.0,539.3 1081.5,540.1 1082.0,540.2 1082.5,539.0 1083.0,539.3 1083.5,539.3 1084.0,540.8 1084.5,539.5 1085.0,539.5 1085.5,539.4 1086.0,541.0 1086.5,540.8 1087.0,539.6 1087.5,539.8 1088.0,540.6 1088.5,540.6 1089.0,540.8 1089.5,540.4 1090.0,540.1 1090.5,541.2 1091.0,540.8 1091.5,542.6 1092.0,541.6 1092.5,541.7 1093.0,541.9 1093.5,541.5 1094.0,542.0 1094.5,541.4 1095.0,542.0 1095.5,542.3 1096.0,542.1 1096.5,540.8 1097.0,542.5 1097.5,541.8 1098.0,542.7 1098.5,542.3 1099.0,542.3 1099.5,542.5 1100.0,542.0 1100.5,542.3 1101.0,542.1 1101.5,542.6 1102.0,542.8 1102.5,541.9 1103.0,542.1 1103.5,542.0 1104.0,543.2 1104.5,542.0 1105.0,542.3 1105.5,542.2 1106.0,541.9 1106.5,542.6 1107.0,542.2 1107.5,542.9 1108.0,541.9 1108.5,542.5 1109.0,543.4 1109.5,542.8 1110.0,542.3 1110.5,542.8 1111.0,541.8 1111.5,542.6 1112.0,542.5 1112.5,542.6 1113.0,542.6 1113.5,542.7 1114.0,542.0 1114.5,542.1 1115.0,541.8 1115.5,542.6 1116.0,541.5 1116.5,542.2 1117.0,541.9 1117.5,542.4 1118.0,543.3 1118.5,542.0 1119.0,542.8 1119.5,542.9 1120.0,541.7 1120.5,542.1 1121.0,542.3 1121.5,541.8 1122.0,542.0 1122.5,542.1 1123.0,542.2 1123.5,541.9 1124.0,542.6 1124.5,542.3 1125.0,542.0 1125.5,542.2 1126.0,541.2 1126.5,541.2 1127.0,541.3 1127.5,542.0 1128.0,542.5 1128.5,541.5 1129.0,541.1 1129.5,541.2 1130.0,541.6 1130.5,540.8 1131.0,540.9 1131.5,541.5 1132.0,541.6 1132.5,540.9 1133.0,540.6 1133.5,540.2 1134.0,540.3 1134.5,538.2 1135.0,539.1 1135.5,538.3 1136.0,536.9 1136.5,535.1 1137.0,532.6 1137.5,527.8 1138.0,521.9 1138.5,512.8 1139.0,503.6 1139.5,495.1 1140.0,490.3 1140.5,494.5 1141.0,502.3 1141.5,511.0 1142.0,518.5 1142.5,522.4 1143.0,523.2 1143.5,522.7 1144.0,519.9 1144.5,515.9 1145.0,514.3 1145.5,516.0 1146.0,520.2 1146.5,525.2 1147.0,530.5 1147.5,534.2 1148.0,535.6 1148.5,537.8 1149.0,538.8 1149.5,540.0 1150.0,540.6 1150.5,540.7 1151.0,541.3 1151.5,541.4 1152.0,541.5 1152.5,541.5 1153.0,541.9 1153.5,541.3 1154.0,541.1 1154.5,542.1 1155.0,542.2 1155.5,542.6 1156.0,541.9 1156.5,541.5 1157.0,542.2 1157.5,542.7 1158.0,541.8 1158.5,542.1 1159.0,541.9 1159.5,541.5 1160.0,542.8 1160.5,542.0 1161.0,543.0 1161.5,542.1 1162.0,541.5 1162.5,541.9 1163.0,541.9 1163.5,542.0 1164.0,542.2 1164.5,542.2 1165.0,543.1 1165.5,541.4 1166.0,541.9 1166.5,542.5 1167.0,542.8 1167.5,542.5 1168.0,542.4 1168.5,542.7 1169.0,542.4 1169.5,542.3 1170.0,542.6 1170.5,541.8 1171.0,542.5 1171.5,542.1 1172.0,542.6 1172.5,542.4 1173.0,543.1 1173.5,542.7 1174.0,542.6 1174.5,542.1 1175.0,542.8 1175.5,541.5 1176.0,542.9 1176.5,542.9 1177.0,542.6 1177.5,542.8 1178.0,541.9 1178.5,542.3 1179.0,542.1 1179.5,542.8 1180.0,542.8 1180.5,543.3 1181.0,542.1 1181.5,542.2 1182.0,542.8 1182.5,542.3 1183.0,542.3 1183.5,542.8 1184.0,542.6 1184.5,542.3 1185.0,543.1 1185.5,542.5 1186.0,541.9 1186.5,542.5 1187.0,542.6 1187.5,542.3 1188.0,543.0 1188.5,542.7 1189.0,542.9 1189.5,543.0 1190.0,542.5 1190.5,542.5 1191.0,542.7 1191.5,542.4 1192.0,543.3 1192.5,542.2 1193.0,542.0 1193.5,542.9 1194.0,542.5 1194.5,542.0 1195.0,543.0 1195.5,543.0 1196.0,542.3 1196.5,542.1 1197.0,543.0 1197.5,543.0 1198.0,543.0 1198.5,542.5 1199.0,543.0 1199.5,543.4 1200.0,543.0 1200.5,543.0 1201.0,543.2 1201.5,542.9 1202.0,542.7 1202.5,542.8 1203.0,543.1 1203.5,542.8 1204.0,543.0 1204.5,542.5 1205.0,542.6 1205.5,542.0 1206.0,543.1 1206.5,542.8 1207.0,542.2 1207.5,542.9 1208.0,542.3 1208.5,542.9 1209.0,543.5 1209.5,542.7 1210.0,542.4 1210.5,542.5 1211.0,542.8 1211.5,542.5 1212.0,543.0 1212.5,541.9 1213.0,543.3 1213.5,542.6 1214.0,542.7 1214.5,543.2 1215.0,543.1 1215.5,541.9 1216.0,542.1 1216.5,543.1 1217.0,542.5 1217.5,542.3 1218.0,543.0 1218.5,542.6 1219.0,542.8 1219.5,542.3 1220.0,542.5 1220.5,542.6 1221.0,542.8 1221.5,543.1 1222.0,542.0 1222.5,542.3 1223.0,542.3 1223.5,542.7 1224.0,542.3 1224.5,542.7 1225.0,543.1 1225.5,542.7 1226.0,543.2 1226.5,542.7 1227.0,541.9 1227.5,542.6 1228.0,542.8 1228.5,542.4 1229.0,542.6 1229.5,543.2 1230.0,542.9 1230.5,542.2 1231.0,542.1 1231.5,542.9 1232.0,542.9 1232.5,542.1 1233.0,542.6 1233.5,542.7 1234.0,543.1 1234.5,543.0 1235.0,543.7 1235.5,542.4 1236.0,541.9 1236.5,542.6 1237.0,543.1 1237.5,542.2 1238.0,542.2 1238.5,542.8 1239.0,542.7 1239.5,543.2 1240.0,542.4 1240.5,543.8 1241.0,543.0 1241.5,543.0 1242.0,542.1 1242.5,542.9 1243.0,543.5 1243.5,542.5 1244.0,543.4 1244.5,543.0 1245.0,543.2 1245.5,542.8 1246.0,543.1 1246.5,541.9 1247.0,542.6 1247.5,542.4 1248.0,542.7 1248.5,542.5 1249.0,542.1 1249.5,542.8 1250.0,542.8 1250.5,542.6 1251.0,543.0 1251.5,542.5 1252.0,543.0 1252.5,542.9 1253.0,542.2 1253.5,543.0 1254.0,542.5 1254.5,542.7 1255.0,542.4 1255.5,543.2 1256.0,542.8 1256.5,541.4 1257.0,542.1 1257.5,542.0 1258.0,542.4 1258.5,542.8 1259.0,542.5 1259.5,541.7 1260.0,541.5 1260.5,542.4 1261.0,542.3 1261.5,542.7 1262.0,542.6 1262.5,542.4 1263.0,542.9 1263.5,542.4 1264.0,542.5 1264.5,541.9 1265.0,542.2 1265.5,542.8 1266.0,541.4 1266.5,541.3 1267.0,541.6 1267.5,542.2 1268.0,541.6 1268.5,541.2 1269.0,541.6 1269.5,541.2 1270.0,541.1 1270.5,540.4 1271.0,540.1 1271.5,540.9 1272.0,540.4 1272.5,540.8 1273.0,541.2 1273.5,540.6 1274.0,539.6 1274.5,540.1 1275.0,539.6 1275.5,539.9 1276.0,540.1 1276.5,539.5 1277.0,539.8 1277.5,539.6 1278.0,539.7 1278.5,539.9 1279.0,539.5 1279.5,540.0 1280.0,540.1 1280.5,539.2 1281.0,539.6 1281.5,539.7 1282.0,539.0 1282.5,539.5 1283.0,540.6 1283.5,540.3 1284.0,540.2 1284.5,540.3 1285.0,540.7 1285.5,539.9 1286.0,541.1 1286.5,540.2 1287.0,540.2 1287.5,539.9 1288.0,540.4 1288.5,539.8 1289.0,539.9 1289.5,539.3 1290.0,539.9 1290.5,539.5 1291.0,538.1 1291.5,537.2 1292.0,536.6 1292.5,536.7 1293.0,534.9 1293.5,534.1 1294.0,533.5 1294.5,533.2 1295.0,531.7 1295.5,530.8 1296.0,530.6 1296.5,529.2 1297.0,529.3 1297.5,530.3 1298.0,530.6 1298.5,530.8 1299.0,531.2 1299.5,531.3 1300.0,531.8 1300.5,533.1 1301.0,532.4 1301.5,533.9 1302.0,533.8 1302.5,533.7 1303.0,535.3 1303.5,535.4 1304.0,536.6 1304.5,537.3 1305.0,538.8 1305.5,538.1 1306.0,538.1 1306.5,539.6 1307.0,540.2 1307.5,540.2 1308.0,540.3 1308.5,541.1 1309.0,541.5 1309.5,541.2 1310.0,541.9 1310.5,541.7 1311.0,541.8 1311.5,541.4 1312.0,541.7 1312.5,542.3 1313.0,542.6 1313.5,542.6 1314.0,542.2 1314.5,542.2 1315.0,541.9 1315.5,541.9 1316.0,542.2 1316.5,542.8 1317.0,542.9 1317.5,542.5 1318.0,542.6 1318.5,542.0 1319.0,542.4 1319.5,542.7 1320.0,542.5 1320.5,542.7 1321.0,541.9 1321.5,543.1 1322.0,542.4 1322.5,542.2 1323.0,542.6 1323.5,540.9 1324.0,542.4 1324.5,543.4 1325.0,542.3 1325.5,543.0 1326.0,541.8 1326.5,542.0 1327.0,541.9 1327.5,543.2 1328.0,541.8 1328.5,542.7 1329.0,542.2 1329.5,542.9 1330.0,542.1 1330.5,542.3 1331.0,542.7 1331.5,541.8 1332.0,541.7 1332.5,543.4 1333.0,542.6 1333.5,542.8 1334.0,542.6 1334.5,542.7 1335.0,542.6 1335.5,542.7 1336.0,542.0 1336.5,541.4 1337.0,542.3 1337.5,543.2 1338.0,542.3 1338.5,541.8 1339.0,543.2 1339.5,543.0 1340.0,542.3 1340.5,542.8 1341.0,542.7 1341.5,542.0 1342.0,543.0 1342.5,542.8 1343.0,542.7 1343.5,542.9 1344.0,541.6 1344.5,542.4 1345.0,543.1 1345.5,542.9 1346.0,541.7 1346.5,542.6 1347.0,542.1 1347.5,542.5 1348.0,542.0 1348.5,542.8 1349.0,543.1 1349.5,542.7 1350.0,542.6 1350.5,542.2 1351.0,542.0 1351.5,542.7 1352.0,542.3 1352.5,542.0 1353.0,541.6 1353.5,541.3 1354.0,542.1 1354.5,541.9 1355.0,541.5 1355.5,541.4 1356.0,540.6 1356.5,540.7 1357.0,540.4 1357.5,540.8 1358.0,540.2 1358.5,539.9 1359.0,539.2 1359.5,539.0 1360.0,537.6 1360.5,538.2 1361.0,536.2 1361.5,534.5 1362.0,531.5 1362.5,526.3 1363.0,520.1 1363.5,509.3 1364.0,496.0 1364.5,481.9 1365.0,469.0 1365.4,465.9 1365.5,466.6 1366.0,472.6 1366.5,486.2 1367.0,499.0 1367.5,510.6 1368.0,517.9 1368.5,520.6 1369.0,521.9 1369.5,519.2 1370.0,512.2 1370.5,507.1 1371.0,502.1 1371.5,502.2 1372.0,507.5 1372.5,514.7 1373.0,521.9 1373.5,528.0 1374.0,532.0 1374.5,535.2 1375.0,536.7 1375.5,538.6 1376.0,539.9 1376.5,539.6 1377.0,539.9 1377.5,541.0 1378.0,539.8 1378.5,540.8 1379.0,540.6 1379.5,541.0 1380.0,540.9 1380.5,541.4 1381.0,542.1 1381.5,541.3 1382.0,541.6 1382.5,542.3 1383.0,542.1 1383.5,542.2 1384.0,541.9 1384.5,541.8 1385.0,541.8 1385.5,541.9 1386.0,541.5 1386.5,541.1 1387.0,541.9 1387.5,542.2 1388.0,541.8 1388.5,542.5 1389.0,542.6 1389.5,542.1 1390.0,541.9 1390.5,542.2 1391.0,541.8 1391.5,541.9 1392.0,541.6 1392.5,541.6 1393.0,542.0 1393.5,541.5 1394.0,541.7 1394.5,541.3 1395.0,541.2 1395.5,541.0 1396.0,539.6 1396.5,540.0 1397.0,539.9 1397.5,539.9 1398.0,539.0 1398.5,539.2 1399.0,538.1 1399.5,536.9 1400.0,535.7 1400.5,535.5 1401.0,535.0 1401.5,534.7 1402.0,534.6 1402.5,533.8 1403.0,534.6 1403.5,534.4 1404.0,534.5 1404.5,534.6 1405.0,535.5 1405.5,535.5 1406.0,535.0 1406.5,536.3 1407.0,536.4 1407.5,536.0 1408.0,537.3 1408.5,537.2 1409.0,537.9 1409.5,537.6 1410.0,538.3 1410.5,539.1 1411.0,539.6 1411.5,539.4 1412.0,538.9 1412.5,540.4 1413.0,540.5 1413.5,541.4 1414.0,540.6 1414.5,541.3 1415.0,540.6 1415.5,541.5 1416.0,541.2 1416.5,541.5 1417.0,541.4 1417.5,541.3 1418.0,542.0 1418.5,541.8 1419.0,541.2 1419.5,540.7 1420.0,540.6 1420.5,541.2 1421.0,540.5 1421.5,539.9 1422.0,539.5 1422.5,539.9 1423.0,538.6 1423.5,537.1 1424.0,536.5 1424.5,533.5 1425.0,529.1 1425.5,524.1 1426.0,518.2 1426.5,510.3 1427.0,503.3 1427.5,499.7 1427.7,499.3 1428.0,500.1 1428.5,504.4 1429.0,511.3 1429.5,517.5 1430.0,523.0 1430.5,527.1 1431.0,528.9 1431.5,529.2 1432.0,527.6 1432.5,524.8 1433.0,521.9 1433.5,519.5 1434.0,519.9 1434.5,521.2 1435.0,526.2 1435.5,529.5 1436.0,532.1 1436.5,535.5 1437.0,538.1 1437.5,538.5 1438.0,539.9 1438.5,540.2 1439.0,541.3 1439.5,541.1 1440.0,541.0 1440.5,541.7 1441.0,541.8 1441.5,541.8 1442.0,541.7 1442.5,541.4 1443.0,542.1 1443.5,541.5 1444.0,541.9 1444.5,542.3 1445.0,542.8 1445.5,542.7 1446.0,541.7 1446.5,542.9 1447.0,541.6 1447.5,542.6 1448.0,542.6 1448.5,542.9 1449.0,542.7 1449.5,543.1 1450.0,542.4 1450.5,542.6 1451.0,543.1 1451.5,542.5 1452.0,542.5 1452.5,542.8 1453.0,542.1 1453.5,542.7 1454.0,542.4 1454.5,543.4 1455.0,543.3 1455.5,543.1 1456.0,543.7 1456.5,542.9 1457.0,542.7 1457.5,543.0 1458.0,543.0 1458.5,542.7 1459.0,543.0 1459.5,542.4 1460.0,542.5 1460.5,543.0 1461.0,542.4 1461.5,543.4 1462.0,543.1 1462.5,542.7 1463.0,543.4 1463.5,543.0 1464.0,543.6 1464.5,542.8 1465.0,542.7 1465.5,543.1 1466.0,542.5 1466.5,543.4 1467.0,543.1 1467.5,541.6 1468.0,542.9 1468.5,543.0 1469.0,542.5 1469.5,542.8 1470.0,542.8 1470.5,542.1 1471.0,543.1 1471.5,542.9 1472.0,542.7 1472.5,542.8 1473.0,543.0 1473.5,543.4 1474.0,543.2 1474.5,542.9 1475.0,542.8 1475.5,542.8 1476.0,543.4 1476.5,543.1 1477.0,542.8 1477.5,543.5 1478.0,543.3 1478.5,542.6 1479.0,543.2 1479.5,543.1 1480.0,543.2 1480.5,543.3 1481.0,542.9 1481.5,542.8 1482.0,542.6 1482.5,543.1 1483.0,543.0 1483.5,542.3 1484.0,543.0 1484.5,543.2 1485.0,543.1 1485.5,542.9 1486.0,543.3 1486.5,542.8 1487.0,542.4 1487.5,543.6 1488.0,542.4 1488.5,543.1 1489.0,543.7 1489.5,542.8 1490.0,543.5 1490.5,542.9 1491.0,542.9 1491.5,542.3 1492.0,543.3 1492.5,542.8 1493.0,543.3 1493.5,542.7 1494.0,543.1 1494.5,543.1 1495.0,543.6 1495.5,543.3 1496.0,542.5 1496.5,543.4 1497.0,543.0 1497.5,542.7 1498.0,542.8 1498.5,543.4 1499.0,542.4 1499.5,542.8 1500.0,542.6 1500.5,543.0 1501.0,542.9 1501.5,542.5 1502.0,542.9 1502.5,542.9 1503.0,542.8 1503.5,543.0 1504.0,543.4 1504.5,543.0 1505.0,543.0 1505.5,543.2 1506.0,542.9 1506.5,542.9 1507.0,542.7 1507.5,542.7 1508.0,542.6 1508.5,543.0 1509.0,542.0 1509.5,542.7 1510.0,543.0 1510.5,543.3 1511.0,543.5 1511.5,542.3 1512.0,542.6 1512.5,542.8 1513.0,542.2 1513.5,542.6 1514.0,542.9 1514.5,542.7 1515.0,542.1 1515.5,543.1 1516.0,542.4 1516.5,542.8 1517.0,542.1 1517.5,542.7 1518.0,543.1 1518.5,543.1 1519.0,543.1 1519.5,542.9 1520.0,542.3 1520.5,542.1 1521.0,543.2 1521.5,542.1 1522.0,542.3 1522.5,542.9 1523.0,542.6 1523.5,543.1 1524.0,542.3 1524.5,542.9 1525.0,543.6 1525.5,542.1 1526.0,542.3 1526.5,542.0 1527.0,542.1 1527.5,541.9 1528.0,542.3 1528.5,542.2 1529.0,541.8 1529.5,541.9 1530.0,540.9 1530.5,541.2 1531.0,540.6 1531.5,540.9 1532.0,540.2 1532.5,538.9 1533.0,539.2 1533.5,538.2 1534.0,538.0 1534.5,538.0 1535.0,537.8 1535.5,536.5 1536.0,536.0 1536.5,535.4 1537.0,534.6 1537.5,533.5 1538.0,534.2 1538.5,533.7 1539.0,533.4 1539.4,533.5 1539.5,533.6 1540.0,533.5 1540.5,534.1 1541.0,533.9 1541.5,534.6 1542.0,534.3 1542.5,534.5 1543.0,534.5 1543.5,534.8 1544.0,534.2 1544.5,534.8 1545.0,535.2 1545.5,535.6 1546.0,534.8 1546.5,534.8 1547.0,534.6 1547.5,534.4 1548.0,533.3 1548.5,533.5 1549.0,534.2 1549.5,533.4 1550.0,532.5 1550.5,532.6 1551.0,532.7 1551.5,532.0 1552.0,532.3 1552.4,532.1 1552.5,531.7 1553.0,532.1 1553.5,531.7 1554.0,532.3 1554.5,532.6 1555.0,532.5 1555.5,533.1 1556.0,533.3 1556.5,533.6 1557.0,533.7 1557.5,533.9 1558.0,534.7 1558.5,535.1 1559.0,535.8 1559.5,535.2 1560.0,536.5 1560.5,536.7 1561.0,537.1 1561.5,537.2 1562.0,539.0 1562.5,538.8 1563.0,538.9 1563.5,539.4 1564.0,539.0 1564.5,539.9 1565.0,540.3 1565.5,540.5 1566.0,540.2 1566.5,540.8 1567.0,541.8 1567.5,541.7 1568.0,541.7 1568.5,541.9 1569.0,542.8 1569.5,542.1 1570.0,541.8 1570.5,541.5 1571.0,542.2 1571.5,542.3 1572.0,541.6 1572.5,542.2 1573.0,542.4 1573.5,542.3 1574.0,541.6 1574.5,542.1 1575.0,542.1 1575.5,543.1 1576.0,542.6 1576.5,542.2 1577.0,542.9 1577.5,542.0 1578.0,542.6 1578.5,542.9 1579.0,542.4 1579.5,542.4 1580.0,542.1 1580.5,542.5 1581.0,543.1 1581.5,543.0 1582.0,543.2 1582.5,542.6 1583.0,543.8 1583.5,542.2 1584.0,542.5 1584.5,542.0 1585.0,543.1 1585.5,543.0 1586.0,543.8 1586.5,542.7 1587.0,542.8 1587.5,541.6 1588.0,542.1 1588.5,543.0 1589.0,542.7 1589.5,543.2 1590.0,542.6 1590.5,543.1 1591.0,543.1 1591.5,542.3 1592.0,543.2 1592.5,543.5 1593.0,543.1 1593.5,543.3 1594.0,543.3 1594.5,542.9 1595.0,543.3 1595.5,543.8 1596.0,542.6 1596.5,543.2 1597.0,542.9 1597.5,543.1 1598.0,542.9 1598.5,542.9 1599.0,543.1 1599.5,542.9 1600.0,543.2 1600.5,542.3 1601.0,543.4 1601.5,542.9 1602.0,542.8 1602.5,543.5 1603.0,543.4 1603.5,543.4 1604.0,543.3 1604.5,543.2 1605.0,542.7 1605.5,543.3 1606.0,543.3 1606.5,543.4 1607.0,543.1 1607.5,543.0 1608.0,542.8 1608.5,543.7 1609.0,542.8 1609.5,543.3 1610.0,543.0 1610.5,542.7 1611.0,543.0 1611.5,542.6 1612.0,543.0 1612.5,543.1 1613.0,542.8 1613.5,543.0 1614.0,543.2 1614.5,543.1 1615.0,542.7 1615.5,543.2 1616.0,542.9 1616.5,542.8 1617.0,543.0 1617.5,543.0 1618.0,543.4 1618.5,543.2 1619.0,543.0 1619.5,544.0 1620.0,543.6 1620.5,542.3 1621.0,542.6 1621.5,542.7 1622.0,543.6 1622.5,542.7 1623.0,543.1 1623.5,543.0 1624.0,543.6 1624.5,543.0 1625.0,543.3 1625.5,543.1 1626.0,543.7 1626.5,543.3 1627.0,543.4 1627.5,543.0 1628.0,543.1 1628.5,543.5 1629.0,543.9 1629.5,543.1 1630.0,543.3 1630.5,542.8 1631.0,543.7 1631.5,542.7 1632.0,543.3 1632.5,543.3 1633.0,542.8 1633.5,542.7 1634.0,543.1 1634.5,543.5 1635.0,542.6 1635.5,543.0 1636.0,542.1 1636.5,543.0 1637.0,542.7 1637.5,542.9 1638.0,543.1 1638.5,542.8 1639.0,543.4 1639.5,543.5 1640.0,543.5 1640.5,543.0 1641.0,542.9 1641.5,543.3 1642.0,543.4 1642.5,542.8 1643.0,543.0 1643.5,542.9 1644.0,543.3 1644.5,542.8 1645.0,542.1 1645.5,543.2 1646.0,543.3 1646.5,543.1 1647.0,543.3 1647.5,542.9 1648.0,542.5 1648.5,543.1 1649.0,542.7 1649.5,542.4 1650.0,543.3 1650.5,542.8 1651.0,541.8 1651.5,543.0 1652.0,542.8 1652.5,542.6 1653.0,542.6 1653.5,542.9 1654.0,543.0 1654.5,542.9 1655.0,543.1 1655.5,542.4 1656.0,543.2 1656.5,543.5 1657.0,542.5 1657.5,542.6 1658.0,542.5 1658.5,542.8 1659.0,541.7 1659.5,542.5 1660.0,541.7 1660.5,541.8 1661.0,541.7 1661.5,541.6 1662.0,541.0 1662.5,540.8 1663.0,540.7 1663.5,539.8 1664.0,539.6 1664.5,538.3 1665.0,536.8 1665.5,536.5 1666.0,535.5 1666.5,534.5 1667.0,532.8 1667.5,531.7 1668.0,531.0 1668.5,530.3 1669.0,529.5 1669.5,529.6 1670.0,529.2 1670.5,529.2 1671.0,529.4 1671.5,529.4 1672.0,530.7 1672.5,531.1 1673.0,531.9 1673.5,532.9 1674.0,532.6 1674.5,533.7 1675.0,532.9 1675.5,533.1 1676.0,533.2 1676.5,533.9 1677.0,533.4 1677.5,534.7 1678.0,535.3 1678.5,536.0 1679.0,536.5 1679.5,537.2 1680.0,537.8 1680.5,538.1 1681.0,538.6 1681.5,538.7 1682.0,539.2 1682.5,540.1 1683.0,539.3 1683.5,540.3 1684.0,540.3 1684.5,539.4 1685.0,539.4 1685.5,539.7 1686.0,539.8 1686.5,539.3 1687.0,539.3 1687.5,538.5 1688.0,537.4 1688.5,537.2 1689.0,536.2 1689.5,534.3 1690.0,532.4 1690.5,529.6 1691.0,527.6 1691.5,524.7 1692.0,520.5 1692.5,516.2 1693.0,512.6 1693.5,510.0 1694.0,507.5 1694.4,507.3 1694.5,507.1 1695.0,508.6 1695.5,510.3 1696.0,514.0 1696.5,517.2 1697.0,520.0 1697.5,521.1 1698.0,523.8 1698.5,524.5 1699.0,524.9 1699.5,524.6 1700.0,524.2 1700.5,523.4 1701.0,522.9 1701.5,522.9 1702.0,523.5 1702.5,525.6 1703.0,527.0 1703.5,528.9 1704.0,531.4 1704.5,533.2 1705.0,534.7 1705.5,536.2 1706.0,536.7 1706.5,537.9 1707.0,539.0 1707.5,539.9 1708.0,540.4 1708.5,540.2 1709.0,540.8 1709.5,541.3 1710.0,541.8 1710.5,541.3 1711.0,541.4 1711.5,541.4 1712.0,542.0 1712.5,542.2 1713.0,542.5 1713.5,542.2 1714.0,542.7 1714.5,542.4 1715.0,542.5 1715.5,542.0 1716.0,543.2 1716.5,542.5 1717.0,543.1 1717.5,542.9 1718.0,542.6 1718.5,542.5 1719.0,543.1 1719.5,542.6 1720.0,542.5 1720.5,542.6 1721.0,542.6 1721.5,542.6 1722.0,543.5 1722.5,543.0 1723.0,543.4 1723.5,543.1 1724.0,542.9 1724.5,542.9 1725.0,542.6 1725.5,543.1 1726.0,543.1 1726.5,543.1 1727.0,543.0 1727.5,543.3 1728.0,542.9 1728.5,542.6 1729.0,542.9 1729.5,542.5 1730.0,543.2 1730.5,543.7 1731.0,543.0 1731.5,543.5 1732.0,543.9 1732.5,543.1 1733.0,543.4 1733.5,543.4 1734.0,543.8 1734.5,543.3 1735.0,542.9 1735.5,543.0 1736.0,542.9 1736.5,543.1 1737.0,543.5 1737.5,543.4 1738.0,543.0 1738.5,543.4 1739.0,542.6 1739.5,543.2 1740.0,543.7 1740.5,543.2 1741.0,543.1 1741.5,543.7 1742.0,543.8 1742.5,543.3 1743.0,542.5 1743.5,543.5 1744.0,544.0 1744.5,543.0 1745.0,544.1 1745.5,543.0 1746.0,543.7 1746.5,543.7 1747.0,543.6 1747.5,543.0 1748.0,543.6 1748.5,542.8 1749.0,543.3 1749.5,543.3 1750.0,543.3 1750.5,542.9 1751.0,543.0 1751.5,542.6 1752.0,544.0 1752.5,543.4 1753.0,543.1 1753.5,543.4 1754.0,543.3 1754.5,543.9 1755.0,543.1 1755.5,543.7 1756.0,542.8 1756.5,543.3 1757.0,543.5 1757.5,543.2 1758.0,543.7 1758.5,543.3 1759.0,543.1 1759.5,543.1 1760.0,543.8 1760.5,543.3 1761.0,543.2 1761.5,542.7 1762.0,542.7 1762.5,542.9 1763.0,543.5 1763.5,543.7 1764.0,543.0 1764.5,544.0 1765.0,543.3 1765.5,543.3 1766.0,543.3 1766.5,542.9 1767.0,543.6 1767.5,543.3 1768.0,543.4 1768.5,542.6 1769.0,542.7 1769.5,543.4 1770.0,543.7 1770.5,543.0 1771.0,543.0 1771.5,543.1 1772.0,542.9 1772.5,542.6 1773.0,542.6 1773.5,543.5 1774.0,542.8 1774.5,543.2 1775.0,542.4 1775.5,543.1 1776.0,543.3 1776.5,542.7 1777.0,543.1 1777.5,542.8 1778.0,543.5 1778.5,542.4 1779.0,542.3 1779.5,541.9 1780.0,542.1 1780.5,542.3 1781.0,541.5 1781.5,542.1 1782.0,541.1 1782.5,541.1 1783.0,541.1 1783.5,540.0 1784.0,539.8 1784.5,539.2 1785.0,538.4 1785.5,538.3 1786.0,536.7 1786.5,536.4 1787.0,536.0 1787.5,535.5 1788.0,534.4 1788.5,533.5 1789.0,534.0 1789.5,533.2 1790.0,532.8 1790.5,532.4 1791.0,532.7 1791.5,532.5 1792.0,532.1 1792.5,532.8 1793.0,533.5 1793.5,532.8 1794.0,533.5 1794.5,534.1 1795.0,534.4 1795.5,534.5 1796.0,535.0 1796.5,535.4 1797.0,536.2 1797.5,535.5 1798.0,536.1 1798.5,536.1 1799.0,537.3 1799.5,537.5 1800.0,538.0 1800.5,538.4 1801.0,539.3 1801.5,539.0 1802.0,539.7 1802.5,540.2 1803.0,540.0 1803.5,540.1 1804.0,541.3 1804.5,541.3 1805.0,541.8 1805.5,541.8 1806.0,541.9 1806.5,542.1 1807.0,542.4 1807.5,542.3 1808.0,542.4 1808.5,543.1 1809.0,543.1 1809.5,542.8 1810.0,543.4 1810.5,542.7 1811.0,543.3 1811.5,543.4 1812.0,542.9 1812.5,543.7 1813.0,542.7 1813.5,543.1 1814.0,543.0 1814.5,543.7 1815.0,543.3 1815.5,542.9 1816.0,543.2 1816.5,543.0 1817.0,543.6 1817.5,543.0 1818.0,543.0 1818.5,543.4 1819.0,543.1 1819.5,543.4 1820.0,543.4 1820.5,543.2 1821.0,542.8 1821.5,542.6 1822.0,543.4 1822.5,543.3 1823.0,543.6 1823.5,543.4 1824.0,543.4 1824.5,543.3 1825.0,543.7 1825.5,542.3 1826.0,542.8 1826.5,543.6 1827.0,543.4 1827.5,543.1 1828.0,543.2 1828.5,543.7 1829.0,543.6 1829.5,543.5 1830.0,542.8 1830.5,543.8 1831.0,543.2 1831.5,543.7 1832.0,543.6 1832.5,542.9 1833.0,543.0 1833.5,542.9 1834.0,543.1 1834.5,543.7 1835.0,543.9 1835.5,543.6 1836.0,543.4 1836.5,543.2 1837.0,544.0 1837.5,543.5 1838.0,543.2 1838.5,543.5 1839.0,543.7 1839.5,543.3 1840.0,543.3 1840.5,543.0 1841.0,543.7 1841.5,543.2 1842.0,543.7 1842.5,543.5 1843.0,543.6 1843.5,543.3 1844.0,543.7 1844.5,543.1 1845.0,543.6 1845.5,544.0 1846.0,544.3 1846.5,543.1 1847.0,543.7 1847.5,543.5 1848.0,543.4 1848.5,543.8 1849.0,543.0 1849.5,543.7 1850.0,543.2 1850.5,544.0 1851.0,543.6 1851.5,544.4 1852.0,543.9 1852.5,543.6 1853.0,543.0 1853.5,542.7 1854.0,543.6 1854.5,543.4 1855.0,543.8 1855.5,543.2 1856.0,543.5 1856.5,543.3 1857.0,543.6 1857.5,543.6 1858.0,543.0 1858.5,543.5 1859.0,543.9 1859.5,543.6 1860.0,543.9 1860.5,543.2 1861.0,542.9 1861.5,543.2 1862.0,543.0 1862.5,544.0 1863.0,543.5 1863.5,543.8 1864.0,544.0 1864.5,543.5 1865.0,542.7 1865.5,542.6 1866.0,543.7 1866.5,543.7 1867.0,543.0 1867.5,543.5 1868.0,543.6 1868.5,543.4 1869.0,542.9 1869.5,543.7 1870.0,543.0 1870.5,543.5 1871.0,542.8 1871.5,543.0 1872.0,543.5 1872.5,542.9 1873.0,542.7 1873.5,543.2 1874.0,543.1 1874.5,542.8 1875.0,543.2 1875.5,543.3 1876.0,543.1 1876.5,543.6 1877.0,542.8 1877.5,543.4 1878.0,542.8 1878.5,542.4 1879.0,542.3 1879.5,542.1 1880.0,541.9 1880.5,542.6 1881.0,541.8 1881.5,542.2 1882.0,542.2 1882.5,541.9 1883.0,542.2 1883.5,541.2 1884.0,541.1 1884.5,541.5 1885.0,541.1 1885.5,540.3 1886.0,539.4 1886.5,538.7 1887.0,538.2 1887.5,537.0 1888.0,533.7 1888.5,530.2 1889.0,524.7 1889.5,518.1 1890.0,508.7 1890.5,498.6 1891.0,489.1 1891.5,485.0 1891.6,484.6 1892.0,486.9 1892.5,494.1 1893.0,503.8 1893.5,513.6 1894.0,521.2 1894.5,527.2 1895.0,530.9 1895.5,532.2 1896.0,532.7 1896.5,533.3 1897.0,531.1 1897.5,528.2 1898.0,524.7 1898.5,519.8 1899.0,515.4 1899.5,513.0 1900.0,513.5 1900.5,517.3 1901.0,522.3 1901.5,527.5 1902.0,531.5 1902.5,535.4 1903.0,537.4 1903.5,538.8 1904.0,540.2 1904.5,540.7 1905.0,541.4 1905.5,541.6 1906.0,541.3 1906.5,542.3 1907.0,542.5 1907.5,542.2 1908.0,543.3 1908.5,542.1 1909.0,543.0 1909.5,542.6 1910.0,542.8 1910.5,543.2 1911.0,543.3 1911.5,543.3 1912.0,542.6 1912.5,543.5 1913.0,542.9 1913.5,543.1 1914.0,543.3 1914.5,542.8 1915.0,543.6 1915.5,543.2 1916.0,542.9 1916.5,543.1 1917.0,542.9 1917.5,543.0 1918.0,543.5 1918.5,543.6 1919.0,543.9 1919.5,544.2 1920.0,543.7 1920.5,542.6 1921.0,543.7 1921.5,543.6 1922.0,543.7 1922.5,543.8 1923.0,543.6 1923.5,543.9 1924.0,543.8 1924.5,544.3 1925.0,543.3 1925.5,543.2 1926.0,543.5 1926.5,544.4 1927.0,542.9 1927.5,543.5 1928.0,543.2 1928.5,543.6 1929.0,543.8 1929.5,543.3 1930.0,544.0 1930.5,544.3 1931.0,543.5 1931.5,543.9 1932.0,543.3 1932.5,543.3 1933.0,543.9 1933.5,543.9 1934.0,543.3 1934.5,543.9 1935.0,544.2 1935.5,543.5 1936.0,543.1 1936.5,543.8 1937.0,544.0 1937.5,543.7 1938.0,543.9 1938.5,543.5 1939.0,543.8 1939.5,543.6 1940.0,543.8 1940.5,543.9 1941.0,543.7 1941.5,543.7 1942.0,543.2 1942.5,543.1 1943.0,543.5 1943.5,543.7 1944.0,543.6 1944.5,543.7 1945.0,543.6 1945.5,543.6 1946.0,543.5 1946.5,543.7 1947.0,544.0 1947.5,543.6 1948.0,543.2 1948.5,543.4 1949.0,543.4 1949.5,543.8 1950.0,544.1 1950.5,542.8 1951.0,543.5 1951.5,543.5 1952.0,544.5 1952.5,543.5 1953.0,543.9 1953.5,544.3 1954.0,543.6 1954.5,543.7 1955.0,543.7 1955.5,543.8 1956.0,543.5 1956.5,543.8 1957.0,543.6 1957.5,543.5 1958.0,544.3 1958.5,543.3 1959.0,544.1 1959.5,543.7 1960.0,543.7 1960.5,543.5 1961.0,543.8 1961.5,544.0 1962.0,543.4 1962.5,544.0 1963.0,543.1 1963.5,543.5 1964.0,543.3 1964.5,543.7 1965.0,544.0 1965.5,543.5 1966.0,543.9 1966.5,543.7 1967.0,544.2 1967.5,543.2 1968.0,543.2 1968.5,543.7 1969.0,543.1 1969.5,543.8 1970.0,543.8 1970.5,543.5 1971.0,543.5 1971.5,543.9 1972.0,543.9 1972.5,543.7 1973.0,544.0 1973.5,543.6 1974.0,543.9 1974.5,544.2 1975.0,544.1 1975.5,543.5 1976.0,543.5 1976.5,543.5 1977.0,543.9 1977.5,543.9 1978.0,543.4 1978.5,543.4 1979.0,543.9 1979.5,543.0 1980.0,544.1 1980.5,543.8 1981.0,543.5 1981.5,544.1 1982.0,543.8 1982.5,543.6 1983.0,544.5 1983.5,543.8 1984.0,543.8 1984.5,543.9 1985.0,543.8 1985.5,544.0 1986.0,543.7 1986.5,544.1 1987.0,543.9 1987.5,543.9 1988.0,544.2 1988.5,543.4 1989.0,543.8 1989.5,544.0 1990.0,544.1 1990.5,543.7 1991.0,543.6 1991.5,544.1 1992.0,543.2 1992.5,544.2 1993.0,543.2 1993.5,543.5 1994.0,544.1 1994.5,543.8 1995.0,543.5 1995.5,544.2 1996.0,543.9 1996.5,543.6 1997.0,544.0 1997.5,544.0 1998.0,543.8 1998.5,544.1 1999.0,544.0 1999.5,543.4 2000.0,543.9 2000.5,543.9 2001.0,544.0 2001.5,543.6 2002.0,544.2 2002.5,543.4 2003.0,543.7 2003.5,543.8 2004.0,543.9 2004.5,543.8 2005.0,543.9 2005.5,544.0 2006.0,544.5 2006.5,543.7 2007.0,544.1 2007.5,543.8 2008.0,543.9 2008.5,543.6 2009.0,543.7 2009.5,544.3 2010.0,543.8 2010.5,544.0 2011.0,543.5 2011.5,544.0 2012.0,544.0 2012.5,544.0 2013.0,544.2 2013.5,543.9 2014.0,543.7 2014.5,544.0 2015.0,544.0 2015.5,544.5 2016.0,543.8 2016.5,543.9 2017.0,544.3 2017.5,543.9 2018.0,544.6 2018.5,544.6 2019.0,543.9 2019.5,544.1 2020.0,544.2 2020.5,543.7 2021.0,543.6 2021.5,544.3 2022.0,544.2 2022.5,543.8 2023.0,543.7 2023.5,543.5 2024.0,543.4 2024.5,544.2 2025.0,544.0 2025.5,543.9 2026.0,543.4 2026.5,543.6 2027.0,544.0 2027.5,543.5 2028.0,543.9 2028.5,543.7 2029.0,543.1 2029.5,544.1 2030.0,543.7 2030.5,543.2 2031.0,543.8 2031.5,543.4 2032.0,544.2 2032.5,543.8 2033.0,543.9 2033.5,544.2 2034.0,543.3 2034.5,543.9 2035.0,544.2 2035.5,544.1 2036.0,543.6 2036.5,544.0 2037.0,544.5 2037.5,543.6 2038.0,543.7 2038.5,544.1 2039.0,543.9 2039.5,543.8 2040.0,544.5 2040.5,543.7 2041.0,544.2 2041.5,543.5 2042.0,543.0 2042.5,543.9 2043.0,544.2 2043.5,543.8 2044.0,544.5 2044.5,543.9 2045.0,544.1 2045.5,544.0 2046.0,543.6 2046.5,544.3 2047.0,544.4 2047.5,544.4 2048.0,544.3 2048.5,544.4 2049.0,544.2 2049.5,544.3 2050.0,544.0 2050.5,543.7 2051.0,544.1 2051.5,544.3 2052.0,543.7 2052.5,543.9 2053.0,544.3 2053.5,543.8 2054.0,544.8 2054.5,544.1 2055.0,544.4 2055.5,544.2 2056.0,544.3 2056.5,544.0 2057.0,543.7 2057.5,543.5 2058.0,543.5 2058.5,543.7 2059.0,543.3 2059.5,543.9 2060.0,543.6 2060.5,543.7 2061.0,543.7 2061.5,544.2 2062.0,543.7 2062.5,543.7 2063.0,544.5 2063.5,543.9 2064.0,544.4 2064.5,543.8 2065.0,543.9 2065.5,544.0 2066.0,543.5 2066.5,544.5 2067.0,544.5 2067.5,543.8 2068.0,544.3 2068.5,544.0 2069.0,543.8 2069.5,544.5 2070.0,543.6 2070.5,544.0 2071.0,544.3 2071.5,543.9 2072.0,544.1 2072.5,543.6 2073.0,543.9 2073.5,544.0 2074.0,543.6 2074.5,543.7 2075.0,543.8 2075.5,543.9 2076.0,544.0 2076.5,543.9 2077.0,543.4 2077.5,544.0 2078.0,544.4 2078.5,544.0 2079.0,543.9 2079.5,544.0 2080.0,544.2 2080.5,543.5 2081.0,544.5 2081.5,543.9 2082.0,544.6 2082.5,543.8 2083.0,543.7 2083.5,544.0 2084.0,544.3 2084.5,544.1 2085.0,544.1 2085.5,544.1 2086.0,544.1 2086.5,544.3 2087.0,544.0 2087.5,544.2 2088.0,543.8 2088.5,543.9 2089.0,543.8 2089.5,543.9 2090.0,543.8 2090.5,543.5 2091.0,544.3 2091.5,544.1 2092.0,544.2 2092.5,544.7 2093.0,543.4 2093.5,544.1 2094.0,544.0 2094.5,544.4 2095.0,543.8 2095.5,543.9 2096.0,543.7 2096.5,544.2 2097.0,544.6 2097.5,543.8 2098.0,544.1 2098.5,544.1 2099.0,543.8 2099.5,543.4 2100.0,544.3 2100.5,543.5 2101.0,544.4 2101.5,543.6 2102.0,544.3 2102.5,544.4 2103.0,543.9 2103.5,543.6 2104.0,544.0 2104.5,544.0 2105.0,543.6 2105.5,543.9 2106.0,544.3 2106.5,544.2 2107.0,544.4 2107.5,543.5 2108.0,543.7 2108.5,544.0 2109.0,544.0 2109.5,544.3 2110.0,543.6 2110.5,544.5 2111.0,544.4 2111.5,544.2 2112.0,543.9 2112.5,543.5 2113.0,543.6 2113.5,544.3 2114.0,544.0 2114.5,544.6 2115.0,544.1 2115.5,543.6 2116.0,544.4 2116.5,543.9 2117.0,544.0 2117.5,544.2 2118.0,543.6 2118.5,543.7 2119.0,544.5 2119.5,543.6 2120.0,543.6 2120.5,543.6 2121.0,543.6 2121.5,543.9 2122.0,543.9 2122.5,543.7 2123.0,543.8 2123.5,544.1 2124.0,543.3 2124.5,543.9 2125.0,543.9 2125.5,543.5 2126.0,544.4 2126.5,544.1 2127.0,544.0 2127.5,544.2 2128.0,544.1 2128.5,543.9 2129.0,543.9 2129.5,543.6 2130.0,544.1 2130.5,544.1 2131.0,543.7 2131.5,544.2 2132.0,544.5 2132.5,543.6 2133.0,544.6 2133.5,544.4 2134.0,544.3 2134.5,544.0 2135.0,544.6 2135.5,543.9 2136.0,544.2 2136.5,543.9 2137.0,543.6 2137.5,544.2 2138.0,544.5 2138.5,543.6 2139.0,544.0 2139.5,543.8 2140.0,543.7 2140.5,543.9 2141.0,544.3 2141.5,544.5 2142.0,544.2 2142.5,544.1 2143.0,544.3 2143.5,543.8 2144.0,544.1 2144.5,543.9 2145.0,544.1 2145.5,543.5 2146.0,544.2 2146.5,544.0 2147.0,544.1 2147.5,544.1 2148.0,544.5 2148.5,543.9 2149.0,543.6 2149.5,544.4 2150.0,544.3 2150.5,543.9 2151.0,544.4 2151.5,544.4 2152.0,543.7 2152.5,543.8 2153.0,543.7 2153.5,544.5 2154.0,543.5 2154.5,543.7 2155.0,544.1 2155.5,544.4 2156.0,544.4 2156.5,544.1 2157.0,544.2 2157.5,544.4 2158.0,544.2 2158.5,544.0 2159.0,544.1 2159.5,544.2 2160.0,544.2 2160.5,544.1 2161.0,543.8 2161.5,544.0 2162.0,544.2 2162.5,543.7 2163.0,543.8 2163.5,544.2 2164.0,544.2 2164.5,543.9 2165.0,543.9 2165.5,544.0 2166.0,543.9 2166.5,543.9 2167.0,543.5 2167.5,543.9 2168.0,544.5 2168.5,543.8 2169.0,543.8 2169.5,544.1 2170.0,544.2 2170.5,544.7 2171.0,543.8 2171.5,544.1 2172.0,543.6 2172.5,543.7 2173.0,543.7 2173.5,543.9 2174.0,544.1 2174.5,544.0 2175.0,543.7 2175.5,543.9 2176.0,543.6 2176.5,543.7 2177.0,543.5 2177.5,543.8 2178.0,544.0 2178.5,544.5 2179.0,543.6 2179.5,544.0 2180.0,543.9 2180.5,543.7 2181.0,543.6 2181.5,543.4 2182.0,543.8 2182.5,543.5 2183.0,543.7 2183.5,544.0 2184.0,543.2 2184.5,544.1 2185.0,543.4 2185.5,543.8 2186.0,543.7 2186.5,543.5 2187.0,543.6 2187.5,543.8 2188.0,543.3 2188.5,543.6 2189.0,543.8 2189.5,543.1 2190.0,542.7 2190.5,542.6 2191.0,542.6 2191.5,542.5 2192.0,541.3 2192.5,541.3 2193.0,540.6 2193.5,540.6 2194.0,539.0 2194.5,538.5 2195.0,537.2 2195.5,536.2 2196.0,535.1 2196.5,533.1 2197.0,531.5 2197.5,531.2 2198.0,529.7 2198.5,529.6 2198.7,529.7 2199.0,529.1 2199.5,529.9 2200.0,531.0 2200.5,531.9 2201.0,533.8 2201.5,534.0 2202.0,535.7 2202.5,536.2 2203.0,537.1 2203.5,537.4 2204.0,538.1 2204.5,538.3 2205.0,538.1 2205.5,537.6 2206.0,536.7 2206.5,537.0 2207.0,536.0 2207.5,536.6 2208.0,535.8 2208.5,535.7 2209.0,536.1 2209.5,537.1 2210.0,537.5 2210.5,538.4 2211.0,538.8 2211.5,540.0 2212.0,540.9 2212.5,541.1 2213.0,541.2 2213.5,541.6 2214.0,542.1 2214.5,542.9 2215.0,542.6 2215.5,542.6 2216.0,544.0 2216.5,543.8 2217.0,543.8 2217.5,543.3 2218.0,543.8 2218.5,543.3 2219.0,543.5 2219.5,543.8"/>
<g fill="#000" shape-rendering="crispEdges"><rect x="196" y="24" width="7" height="1512"/><rect x="2242" y="24" width="7" height="1512"/><rect x="196" y="24" width="2053" height="8"/><rect x="196" y="1528" width="2054" height="8"/></g>
<g font-size="100" text-anchor="middle"><text x="354.2" y="1639.5">30</text><text x="665.2" y="1639.5">40</text><text x="976.2" y="1639.5">50</text><text x="1287.2" y="1639.5">60</text><text x="1598.2" y="1639.5">70</text><text x="1909.2" y="1639.5">80</text><text x="2220.2" y="1639.5">90</text><text x="1222" y="1803">2θ/(°)</text><text transform="translate(94.6,781.2) rotate(-90)" x="0" y="0" style="letter-spacing:-0.5px">Intensity(a.u)</text></g>
<g font-size="78" text-anchor="end"><text x="2237.5" y="431.8" style="fill:#0000ff">2 %Co</text><text x="2237.5" y="884.7" style="fill:#ff0000">1 %Co</text><text x="2237.5" y="1334.2">0 %Co</text></g>
<g font-size="62.5"><text transform="translate(1150.0,143.2) scale(1.137,1)" x="-15.54" y="17.83" font-size="60.95">♦</text><text x="1208" y="160.6">Sn</text><text transform="translate(1330.4,143.0) scale(1.140,1)" x="-22.75" y="18.50" font-size="50.79" class="dj">♣</text><text x="1388" y="160.6" style="letter-spacing:0.9px">SnSb</text><text transform="translate(1555.6,139.8) scale(0.909,1)" x="-16.20" y="29.06" font-size="64.67" class="as">*</text><text x="1603.5" y="160.6">Cu</text><text x="1679.3" y="187.3" font-size="42">6</text><text x="1700.9" y="160.6">Sn</text><text x="1768.8" y="187.3" font-size="42">5</text><text transform="translate(1838.0,138.8) scale(0.986,1)" x="-15.89" y="22.57" font-size="64.20" class="lz">◊</text><text x="1886" y="160.6">Co</text><text x="1961.2" y="177.3" font-size="42">3</text><text x="1984.1" y="160.6">Sn</text><text x="2050.6" y="177.3" font-size="42">2</text></g>
<g><text transform="translate(416.2,99.0) scale(1.137,1)" x="-10.88" y="12.48" font-size="42.67">♦</text><text transform="translate(325.3,369.9) scale(1.140,1)" x="-15.93" y="12.95" font-size="35.55" class="dj">♣</text><text transform="translate(372.4,349.4) scale(0.986,1)" x="-11.13" y="15.80" font-size="44.94" class="lz">◊</text><text transform="translate(372.9,384.6) scale(1.137,1)" x="-10.88" y="12.48" font-size="42.67">♦</text><text transform="translate(354.2,489.4) scale(0.909,1)" x="-11.34" y="20.34" font-size="45.27" class="as">*</text><text transform="translate(699.2,479.2) scale(1.140,1)" x="-15.93" y="12.95" font-size="35.55" class="dj">♣</text><text transform="translate(717.4,458.8) scale(1.140,1)" x="-15.93" y="12.95" font-size="35.55" class="dj">♣</text><text transform="translate(760.7,459.7) scale(0.986,1)" x="-11.13" y="15.80" font-size="44.94" class="lz">◊</text><text transform="translate(778.8,455.5) scale(1.137,1)" x="-10.88" y="12.48" font-size="42.67">♦</text><text transform="translate(765.1,490.1) scale(0.909,1)" x="-11.34" y="20.34" font-size="45.27" class="as">*</text><text transform="translate(789.7,412.5) scale(0.986,1)" x="-11.13" y="15.80" font-size="44.94" class="lz">◊</text><text transform="translate(814.6,242.9) scale(0.986,1)" x="-11.13" y="15.80" font-size="44.94" class="lz">◊</text><text transform="translate(814.9,277.5) scale(1.137,1)" x="-10.88" y="12.48" font-size="42.67">♦</text><text transform="translate(1024.9,500.2) scale(1.140,1)" x="-15.93" y="12.95" font-size="35.55" class="dj">♣</text><text transform="translate(1087.2,524.2) scale(0.909,1)" x="-11.34" y="20.34" font-size="45.27" class="as">*</text><text transform="translate(1109.0,518.3) scale(0.986,1)" x="-11.13" y="15.80" font-size="44.94" class="lz">◊</text><text transform="translate(1138.3,473.6) scale(1.137,1)" x="-10.88" y="12.48" font-size="42.67">♦</text><text transform="translate(1277.9,515.5) scale(0.986,1)" x="-11.13" y="15.80" font-size="44.94" class="lz">◊</text><text transform="translate(1296.6,507.1) scale(1.140,1)" x="-15.93" y="12.95" font-size="35.55" class="dj">♣</text><text transform="translate(1296.9,483.1) scale(0.909,1)" x="-11.34" y="20.34" font-size="45.27" class="as">*</text><text transform="translate(1365.4,418.5) scale(0.909,1)" x="-11.34" y="20.34" font-size="45.27" class="as">*</text><text transform="translate(1365.6,445.9) scale(1.137,1)" x="-10.88" y="12.48" font-size="42.67">♦</text><text transform="translate(1403.1,484.2) scale(0.986,1)" x="-11.13" y="15.80" font-size="44.94" class="lz">◊</text><text transform="translate(1402.8,516.3) scale(1.137,1)" x="-10.88" y="12.48" font-size="42.67">♦</text><text transform="translate(1429.9,479.7) scale(1.137,1)" x="-10.88" y="12.48" font-size="42.67">♦</text><text transform="translate(1531.8,517.4) scale(1.140,1)" x="-15.93" y="12.95" font-size="35.55" class="dj">♣</text><text transform="translate(1552.8,504.9) scale(1.140,1)" x="-15.93" y="12.95" font-size="35.55" class="dj">♣</text><text transform="translate(1670.4,474.4) scale(0.986,1)" x="-11.13" y="15.80" font-size="44.94" class="lz">◊</text><text transform="translate(1671.5,506.5) scale(1.137,1)" x="-10.88" y="12.48" font-size="42.67">♦</text><text transform="translate(1692.7,452.1) scale(0.986,1)" x="-11.13" y="15.80" font-size="44.94" class="lz">◊</text><text transform="translate(1692.2,486.4) scale(1.137,1)" x="-10.88" y="12.48" font-size="42.67">♦</text><text transform="translate(1789.7,504.9) scale(1.140,1)" x="-15.93" y="12.95" font-size="35.55" class="dj">♣</text><text transform="translate(1891.9,461.1) scale(1.137,1)" x="-10.88" y="12.48" font-size="42.67">♦</text><text transform="translate(1908.0,490.3) scale(0.986,1)" x="-11.13" y="15.80" font-size="44.94" class="lz">◊</text><text transform="translate(2205.7,474.1) scale(0.986,1)" x="-11.13" y="15.80" font-size="44.94" class="lz">◊</text><text transform="translate(2206.0,510.1) scale(1.137,1)" x="-10.88" y="12.48" font-size="42.67">♦</text><text transform="translate(415.4,572.3) scale(1.137,1)" x="-10.88" y="12.48" font-size="42.67">♦</text><text transform="translate(328.7,807.0) scale(1.140,1)" x="-15.93" y="12.95" font-size="35.55" class="dj">♣</text><text transform="translate(371.4,800.4) scale(0.986,1)" x="-11.13" y="15.80" font-size="44.94" class="lz">◊</text><text transform="translate(371.1,833.5) scale(1.137,1)" x="-10.88" y="12.48" font-size="42.67">♦</text><text transform="translate(358.4,926.5) scale(0.909,1)" x="-11.34" y="20.34" font-size="45.27" class="as">*</text><text transform="translate(698.9,931.1) scale(1.140,1)" x="-15.93" y="12.95" font-size="35.55" class="dj">♣</text><text transform="translate(716.5,911.8) scale(1.140,1)" x="-15.93" y="12.95" font-size="35.55" class="dj">♣</text><text transform="translate(764.9,904.5) scale(0.986,1)" x="-11.13" y="15.80" font-size="44.94" class="lz">◊</text><text transform="translate(764.3,935.3) scale(0.909,1)" x="-11.34" y="20.34" font-size="45.27" class="as">*</text><text transform="translate(792.5,907.0) scale(1.137,1)" x="-10.88" y="12.48" font-size="42.67">♦</text><text transform="translate(793.1,867.4) scale(0.986,1)" x="-11.13" y="15.80" font-size="44.94" class="lz">◊</text><text transform="translate(818.8,720.4) scale(0.986,1)" x="-11.13" y="15.80" font-size="44.94" class="lz">◊</text><text transform="translate(818.2,755.1) scale(1.137,1)" x="-10.88" y="12.48" font-size="42.67">♦</text><text transform="translate(1028.5,949.2) scale(1.140,1)" x="-15.93" y="12.95" font-size="35.55" class="dj">♣</text><text transform="translate(1091.1,973.2) scale(0.909,1)" x="-11.34" y="20.34" font-size="45.27" class="as">*</text><text transform="translate(1111.8,966.8) scale(0.986,1)" x="-11.13" y="15.80" font-size="44.94" class="lz">◊</text><text transform="translate(1139.4,931.9) scale(1.137,1)" x="-10.88" y="12.48" font-size="42.67">♦</text><text transform="translate(1281.6,964.4) scale(0.986,1)" x="-11.13" y="15.80" font-size="44.94" class="lz">◊</text><text transform="translate(1299.7,957.2) scale(1.140,1)" x="-15.93" y="12.95" font-size="35.55" class="dj">♣</text><text transform="translate(1301.4,932.8) scale(0.909,1)" x="-11.34" y="20.34" font-size="45.27" class="as">*</text><text transform="translate(1370.1,868.3) scale(0.909,1)" x="-11.34" y="20.34" font-size="45.27" class="as">*</text><text transform="translate(1368.4,894.6) scale(1.137,1)" x="-10.88" y="12.48" font-size="42.67">♦</text><text transform="translate(1412.0,928.9) scale(0.986,1)" x="-11.13" y="15.80" font-size="44.94" class="lz">◊</text><text transform="translate(1406.7,965.0) scale(1.137,1)" x="-10.88" y="12.48" font-size="42.67">♦</text><text transform="translate(1431.3,918.6) scale(1.137,1)" x="-10.88" y="12.48" font-size="42.67">♦</text><text transform="translate(1534.9,966.9) scale(1.140,1)" x="-15.93" y="12.95" font-size="35.55" class="dj">♣</text><text transform="translate(1556.1,954.4) scale(1.140,1)" x="-15.93" y="12.95" font-size="35.55" class="dj">♣</text><text transform="translate(1674.9,917.8) scale(0.986,1)" x="-11.13" y="15.80" font-size="44.94" class="lz">◊</text><text transform="translate(1675.1,955.8) scale(1.137,1)" x="-10.88" y="12.48" font-size="42.67">♦</text><text transform="translate(1694.7,901.8) scale(0.986,1)" x="-11.13" y="15.80" font-size="44.94" class="lz">◊</text><text transform="translate(1696.1,936.2) scale(1.137,1)" x="-10.88" y="12.48" font-size="42.67">♦</text><text transform="translate(1792.5,953.7) scale(1.140,1)" x="-15.93" y="12.95" font-size="35.55" class="dj">♣</text><text transform="translate(1894.7,910.2) scale(1.137,1)" x="-10.88" y="12.48" font-size="42.67">♦</text><text transform="translate(1906.7,943.3) scale(0.986,1)" x="-11.13" y="15.80" font-size="44.94" class="lz">◊</text><text transform="translate(2208.9,924.0) scale(0.986,1)" x="-11.13" y="15.80" font-size="44.94" class="lz">◊</text><text transform="translate(2209.4,959.2) scale(1.137,1)" x="-10.88" y="12.48" font-size="42.67">♦</text><text transform="translate(420.4,1021.7) scale(1.137,1)" x="-10.88" y="12.48" font-size="42.67">♦</text><text transform="translate(333.8,1223.3) scale(1.140,1)" x="-15.93" y="12.95" font-size="35.55" class="dj">♣</text><text transform="translate(376.3,1257.7) scale(1.137,1)" x="-10.88" y="12.48" font-size="42.67">♦</text><text transform="translate(364.1,1360.9) scale(0.909,1)" x="-11.34" y="20.34" font-size="45.27" class="as">*</text><text transform="translate(703.7,1383.5) scale(1.140,1)" x="-15.93" y="12.95" font-size="35.55" class="dj">♣</text><text transform="translate(721.6,1364.0) scale(1.140,1)" x="-15.93" y="12.95" font-size="35.55" class="dj">♣</text><text transform="translate(769.1,1402.0) scale(0.909,1)" x="-11.34" y="20.34" font-size="45.27" class="as">*</text><text transform="translate(792.5,1363.4) scale(1.137,1)" x="-10.88" y="12.48" font-size="42.67">♦</text><text transform="translate(819.3,1170.4) scale(1.137,1)" x="-10.88" y="12.48" font-size="42.67">♦</text><text transform="translate(1029.4,1402.2) scale(1.140,1)" x="-15.93" y="12.95" font-size="35.55" class="dj">♣</text><text transform="translate(1091.1,1420.1) scale(0.909,1)" x="-11.34" y="20.34" font-size="45.27" class="as">*</text><text transform="translate(1140.6,1370.9) scale(1.137,1)" x="-10.88" y="12.48" font-size="42.67">♦</text><text transform="translate(1300.8,1409.3) scale(1.140,1)" x="-15.93" y="12.95" font-size="35.55" class="dj">♣</text><text transform="translate(1302.0,1384.5) scale(0.909,1)" x="-11.34" y="20.34" font-size="45.27" class="as">*</text><text transform="translate(1371.2,1320.8) scale(0.909,1)" x="-11.34" y="20.34" font-size="45.27" class="as">*</text><text transform="translate(1369.8,1346.2) scale(1.137,1)" x="-10.88" y="12.48" font-size="42.67">♦</text><text transform="translate(1407.8,1417.2) scale(1.137,1)" x="-10.88" y="12.48" font-size="42.67">♦</text><text transform="translate(1432.7,1370.5) scale(1.137,1)" x="-10.88" y="12.48" font-size="42.67">♦</text><text transform="translate(1536.0,1419.1) scale(1.140,1)" x="-15.93" y="12.95" font-size="35.55" class="dj">♣</text><text transform="translate(1557.0,1406.8) scale(1.140,1)" x="-15.93" y="12.95" font-size="35.55" class="dj">♣</text><text transform="translate(1676.0,1407.9) scale(1.137,1)" x="-10.88" y="12.48" font-size="42.67">♦</text><text transform="translate(1697.2,1387.8) scale(1.137,1)" x="-10.88" y="12.48" font-size="42.67">♦</text><text transform="translate(1793.8,1405.9) scale(1.140,1)" x="-15.93" y="12.95" font-size="35.55" class="dj">♣</text><text transform="translate(1895.8,1362.1) scale(1.137,1)" x="-10.88" y="12.48" font-size="42.67">♦</text><text transform="translate(2210.7,1409.3) scale(1.137,1)" x="-10.88" y="12.48" font-size="42.67">♦</text></g>
</svg>
</body></html>
